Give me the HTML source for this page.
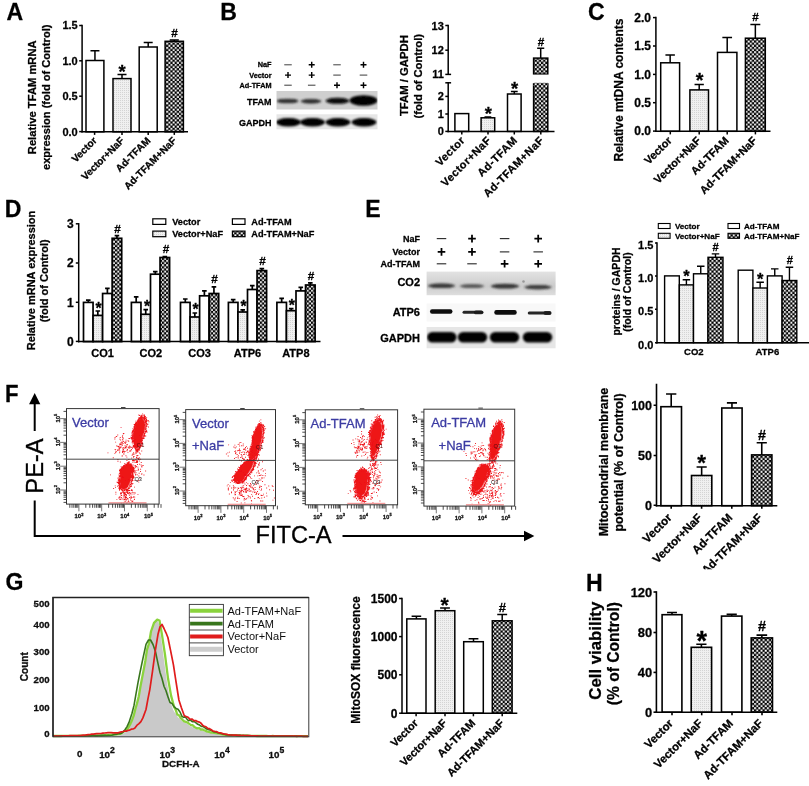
<!DOCTYPE html>
<html><head><meta charset="utf-8"><title>Figure</title>
<style>html,body{margin:0;padding:0;background:#fff}svg{display:block}text{font-family:"Liberation Sans",sans-serif}text[font-weight=bold]{stroke:#000;stroke-width:.28px;stroke-linejoin:round}</style>
</head><body>
<svg width="809" height="786" viewBox="0 0 809 786" font-family="Liberation Sans">
<defs>
<pattern id="dots" width="2" height="2" patternUnits="userSpaceOnUse"><rect width="2" height="2" fill="#f0f0f0"/><rect width="1" height="1" fill="#d4d4d4"/></pattern>
<pattern id="chk" width="4.26" height="4.26" patternUnits="userSpaceOnUse"><rect width="4.26" height="4.26" fill="#000"/><rect width="1.95" height="1.95" x="0.1" y="0.1" fill="#fff"/><rect x="2.23" y="2.23" width="1.95" height="1.95" fill="#fff"/></pattern>
<filter id="b1" x="-20%" y="-50%" width="140%" height="200%"><feGaussianBlur stdDeviation="1.1"/></filter>
<filter id="b2" x="-20%" y="-50%" width="140%" height="200%"><feGaussianBlur stdDeviation="1.6"/></filter>
<filter id="b05" x="-20%" y="-20%" width="140%" height="140%"><feGaussianBlur stdDeviation="0.5"/></filter>
<filter id="soft"><feGaussianBlur stdDeviation="0.45"/></filter>
</defs>
<rect width="809" height="786" fill="#fff"/>
<g filter="url(#soft)">
<text transform="translate(6.5 19.8) scale(0.97 1)" font-size="23.8" font-weight="bold">A</text>
<text transform="translate(220.2 19.6) scale(0.97 1)" font-size="23.8" font-weight="bold">B</text>
<text transform="translate(587.9 19.6) scale(0.97 1)" font-size="23.8" font-weight="bold">C</text>
<text transform="translate(4.7 217) scale(0.97 1)" font-size="23.8" font-weight="bold">D</text>
<text transform="translate(365.2 217.3) scale(0.97 1)" font-size="23.8" font-weight="bold">E</text>
<text transform="translate(5 402) scale(0.93 1)" font-size="23.8" font-weight="bold">F</text>
<text transform="translate(5.4 589.8) scale(0.97 1)" font-size="23.8" font-weight="bold">G</text>
<text transform="translate(585.9 590.8) scale(0.97 1)" font-size="23.8" font-weight="bold">H</text>
<g id="pA">
<path d="M82.1 24.75L82.1 132.55" stroke="#000" stroke-width="1.5" fill="none"/>
<path d="M79.2 25.5L82.1 25.5" stroke="#000" stroke-width="1.5" fill="none"/>
<text x="77.7" y="29.46" font-size="11" font-weight="bold" text-anchor="end">1.5</text>
<path d="M79.2 60.8L82.1 60.8" stroke="#000" stroke-width="1.5" fill="none"/>
<text x="77.7" y="64.76" font-size="11" font-weight="bold" text-anchor="end">1.0</text>
<path d="M79.2 96.2L82.1 96.2" stroke="#000" stroke-width="1.5" fill="none"/>
<text x="77.7" y="100.16" font-size="11" font-weight="bold" text-anchor="end">0.5</text>
<path d="M79.2 131.6L82.1 131.6" stroke="#000" stroke-width="1.5" fill="none"/>
<text x="77.7" y="135.56" font-size="11" font-weight="bold" text-anchor="end">0.0</text>
<path d="M94.95 60.5V50.7M90.47 50.7H99.43" stroke="#000" stroke-width="1.5" fill="none"/>
<rect x="86" y="60.5" width="17.9" height="71.3" fill="#fff" stroke="#000" stroke-width="1.5"/>
<path d="M122 78.6V74.4M117.5 74.4H126.5" stroke="#000" stroke-width="1.5" fill="none"/>
<rect x="113" y="78.6" width="18" height="53.2" fill="url(#dots)" stroke="#000" stroke-width="1.5"/>
<path d="M148.2 47V42.5M143.7 42.5H152.7" stroke="#000" stroke-width="1.5" fill="none"/>
<rect x="139.2" y="47" width="18" height="84.8" fill="#fff" stroke="#000" stroke-width="1.5"/>
<path d="M174.25 41.3V40M169.68 40H178.82" stroke="#000" stroke-width="1.5" fill="none"/>
<rect x="165.1" y="41.3" width="18.3" height="90.5" fill="url(#chk)" stroke="#000" stroke-width="1.5"/>
<path d="M81.35 131.8L188 131.8" stroke="#000" stroke-width="1.5" fill="none"/>
<path d="M94.6 131.8L94.6 134.9" stroke="#000" stroke-width="1.5" fill="none"/>
<path d="M122 131.8L122 134.9" stroke="#000" stroke-width="1.5" fill="none"/>
<path d="M148.2 131.8L148.2 134.9" stroke="#000" stroke-width="1.5" fill="none"/>
<path d="M174.3 131.8L174.3 134.9" stroke="#000" stroke-width="1.5" fill="none"/>
<text x="97.5" y="141.2" font-size="10.1" font-weight="bold" text-anchor="end" transform="rotate(-45 97.5 141.2)">Vector</text>
<text x="124.9" y="141.2" font-size="10.1" font-weight="bold" text-anchor="end" transform="rotate(-45 124.9 141.2)">Vector+NaF</text>
<text x="151.1" y="141.2" font-size="10.1" font-weight="bold" text-anchor="end" transform="rotate(-45 151.1 141.2)">Ad-TFAM</text>
<text x="177.2" y="141.2" font-size="10.1" font-weight="bold" text-anchor="end" transform="rotate(-45 177.2 141.2)">Ad-TFAM+NaF</text>
<text x="122" y="78.39" font-size="18.48" font-weight="bold" text-anchor="middle">*</text>
<text x="174.5" y="37.18" font-size="11.78" font-weight="bold" text-anchor="middle">#</text>
<text x="35.6" y="97.3" font-size="11.2" font-weight="bold" text-anchor="middle" transform="rotate(-90 35.6 97.3)">Relative TFAM mRNA</text>
<text x="49.7" y="97.3" font-size="11.1" font-weight="bold" text-anchor="middle" transform="rotate(-90 49.7 97.3)">expression (fold of Control)</text>
</g>
<g id="pBblot">
<text x="271.5" y="67.43" font-size="7.3" font-weight="bold" text-anchor="end">NaF</text>
<path d="M284.25 64.8H291.75" stroke="#222" stroke-width="0.88"/>
<path d="M308.7 64.8H314.7M311.7 61.8V67.8" stroke="#000" stroke-width="1.43"/>
<path d="M333.25 64.8H340.75" stroke="#222" stroke-width="0.88"/>
<path d="M360.5 64.8H366.5M363.5 61.8V67.8" stroke="#000" stroke-width="1.43"/>
<text x="271.5" y="77.73" font-size="7.3" font-weight="bold" text-anchor="end">Vector</text>
<path d="M285 75.1H291M288 72.1V78.1" stroke="#000" stroke-width="1.43"/>
<path d="M308.7 75.1H314.7M311.7 72.1V78.1" stroke="#000" stroke-width="1.43"/>
<path d="M333.25 75.1H340.75" stroke="#222" stroke-width="0.88"/>
<path d="M359.75 75.1H367.25" stroke="#222" stroke-width="0.88"/>
<text x="271.5" y="87.83" font-size="7.3" font-weight="bold" text-anchor="end">Ad-TFAM</text>
<path d="M284.25 85.2H291.75" stroke="#222" stroke-width="0.88"/>
<path d="M307.95 85.2H315.45" stroke="#222" stroke-width="0.88"/>
<path d="M334 85.2H340M337 82.2V88.2" stroke="#000" stroke-width="1.43"/>
<path d="M360.5 85.2H366.5M363.5 82.2V88.2" stroke="#000" stroke-width="1.43"/>
<rect x="276.5" y="91" width="101" height="18.5" fill="#cfcfcf"/>
<clipPath id="cB1"><rect x="276.5" y="91" width="101" height="18.5"/></clipPath><g clip-path="url(#cB1)">
<g filter="url(#b1)" opacity="0.92" fill="#222"><ellipse cx="287.5" cy="101" rx="11" ry="2.3"/><rect x="279.58" y="99.07" width="15.84" height="3.86" rx="1.93"/></g>
<g filter="url(#b1)" opacity="0.92" fill="#222"><ellipse cx="311" cy="101.3" rx="10.5" ry="2.2"/><rect x="303.44" y="99.45" width="15.12" height="3.7" rx="1.85"/></g>
<g filter="url(#b1)" opacity="1" fill="#111"><ellipse cx="337.5" cy="100.8" rx="12" ry="3"/><rect x="328.86" y="98.28" width="17.28" height="5.04" rx="2.52"/></g>
<g filter="url(#b1)" opacity="1" fill="#000"><ellipse cx="363.5" cy="100.5" rx="14" ry="5.25"/><rect x="353.42" y="96.09" width="20.16" height="8.82" rx="4.41"/></g>
</g>
<text x="271.5" y="104.6" font-size="9" font-weight="bold" text-anchor="end">TFAM</text>
<rect x="276.5" y="114.3" width="101" height="15" fill="#e6e6e6"/>
<clipPath id="cB2"><rect x="276.5" y="114.3" width="101" height="15"/></clipPath><g clip-path="url(#cB2)">
<g filter="url(#b1)" opacity="1" fill="#000"><ellipse cx="288.5" cy="122.2" rx="12.5" ry="4.2"/><rect x="279.5" y="118.67" width="18" height="7.06" rx="3.53"/></g>
<g filter="url(#b1)" opacity="1" fill="#000"><ellipse cx="312.5" cy="122.2" rx="12.5" ry="4.2"/><rect x="303.5" y="118.67" width="18" height="7.06" rx="3.53"/></g>
<g filter="url(#b1)" opacity="1" fill="#000"><ellipse cx="338" cy="122.2" rx="12.5" ry="4.2"/><rect x="329" y="118.67" width="18" height="7.06" rx="3.53"/></g>
<g filter="url(#b1)" opacity="1" fill="#000"><ellipse cx="364" cy="122.2" rx="12.5" ry="4.2"/><rect x="355" y="118.67" width="18" height="7.06" rx="3.53"/></g>
</g>
<text x="271.5" y="125.6" font-size="9" font-weight="bold" text-anchor="end">GAPDH</text>
</g>
<g id="pBchart">
<path d="M448.2 24.75L448.2 74.95" stroke="#000" stroke-width="1.5" fill="none"/>
<path d="M445.3 25.5L448.2 25.5" stroke="#000" stroke-width="1.5" fill="none"/>
<text x="443.8" y="29.5" font-size="11" font-weight="bold" text-anchor="end">13</text>
<path d="M445.3 50.2L448.2 50.2" stroke="#000" stroke-width="1.5" fill="none"/>
<text x="443.8" y="54.2" font-size="11" font-weight="bold" text-anchor="end">12</text>
<path d="M445.3 74.4L451.1 74.4" stroke="#000" stroke-width="1.5" fill="none"/>
<text x="443.8" y="78.4" font-size="11" font-weight="bold" text-anchor="end">11</text>
<path d="M448.2 82.05L448.2 132.15" stroke="#000" stroke-width="1.5" fill="none"/>
<path d="M445.3 82.8L451.1 82.8" stroke="#000" stroke-width="1.5" fill="none"/>
<path d="M445.3 96.4L448.2 96.4" stroke="#000" stroke-width="1.5" fill="none"/>
<text x="443.8" y="100.4" font-size="11" font-weight="bold" text-anchor="end">2</text>
<path d="M445.3 114L448.2 114" stroke="#000" stroke-width="1.5" fill="none"/>
<text x="443.8" y="118" font-size="11" font-weight="bold" text-anchor="end">1</text>
<path d="M445.3 131.4L448.2 131.4" stroke="#000" stroke-width="1.5" fill="none"/>
<text x="443.8" y="135.4" font-size="11" font-weight="bold" text-anchor="end">0</text>
<rect x="454.9" y="113.6" width="13.8" height="17.8" fill="#fff" stroke="#000" stroke-width="1.5"/>
<path d="M487.9 117.8V117M484.5 117H491.3" stroke="#000" stroke-width="1.5" fill="none"/>
<rect x="481.1" y="117.8" width="13.6" height="13.6" fill="url(#dots)" stroke="#000" stroke-width="1.5"/>
<path d="M514.3 94V91.5M510.9 91.5H517.7" stroke="#000" stroke-width="1.5" fill="none"/>
<rect x="507.5" y="94" width="13.6" height="37.4" fill="#fff" stroke="#000" stroke-width="1.5"/>
<rect x="533.6" y="82.8" width="14.2" height="48.6" fill="url(#chk)" stroke="#000" stroke-width="1.5"/>
<rect x="532" y="74.9" width="18" height="7.2" fill="#fff"/>
<path d="M540.7 58.1V48.2M537.15 48.2H544.25" stroke="#000" stroke-width="1.5" fill="none"/>
<rect x="533.6" y="58.1" width="14.2" height="16.1" fill="url(#chk)" stroke="#000" stroke-width="1.5"/>
<rect x="532" y="74.6" width="18" height="8.6" fill="#fff"/>
<rect x="533.6" y="82.8" width="14.2" height="3" fill="url(#chk)"/>
<path d="M447.45 131.4L554.5 131.4" stroke="#000" stroke-width="1.5" fill="none"/>
<path d="M461.8 131.4L461.8 134.5" stroke="#000" stroke-width="1.5" fill="none"/>
<path d="M488 131.4L488 134.5" stroke="#000" stroke-width="1.5" fill="none"/>
<path d="M514.3 131.4L514.3 134.5" stroke="#000" stroke-width="1.5" fill="none"/>
<path d="M540.8 131.4L540.8 134.5" stroke="#000" stroke-width="1.5" fill="none"/>
<text x="465.6" y="141" font-size="11" font-weight="bold" text-anchor="end" transform="rotate(-45 465.6 141)" letter-spacing="0.45">Vector</text>
<text x="491.8" y="141" font-size="11" font-weight="bold" text-anchor="end" transform="rotate(-45 491.8 141)" letter-spacing="0.45">Vector+NaF</text>
<text x="518.1" y="141" font-size="11" font-weight="bold" text-anchor="end" transform="rotate(-45 518.1 141)" letter-spacing="0.45">Ad-TFAM</text>
<text x="544.6" y="141" font-size="11" font-weight="bold" text-anchor="end" transform="rotate(-45 544.6 141)" letter-spacing="0.45">Ad-TFAM+NaF</text>
<text x="488.3" y="119.69" font-size="18.48" font-weight="bold" text-anchor="middle">*</text>
<text x="514.6" y="95.19" font-size="18.48" font-weight="bold" text-anchor="middle">*</text>
<text x="541" y="45.68" font-size="11.78" font-weight="bold" text-anchor="middle">#</text>
<text x="408.1" y="75.6" font-size="11.3" font-weight="bold" text-anchor="middle" transform="rotate(-90 408.1 75.6)">TFAM / GAPDH</text>
<text x="422.4" y="76.2" font-size="11.2" font-weight="bold" text-anchor="middle" transform="rotate(-90 422.4 76.2)">(fold of Control)</text>
</g>
<g id="pC">
<path d="M655.9 16.85L655.9 132.05" stroke="#000" stroke-width="1.5" fill="none"/>
<path d="M653 17.6L655.9 17.6" stroke="#000" stroke-width="1.5" fill="none"/>
<text x="650.9" y="21.92" font-size="12" font-weight="bold" text-anchor="end">2.0</text>
<path d="M653 46L655.9 46" stroke="#000" stroke-width="1.5" fill="none"/>
<text x="650.9" y="50.32" font-size="12" font-weight="bold" text-anchor="end">1.5</text>
<path d="M653 74.4L655.9 74.4" stroke="#000" stroke-width="1.5" fill="none"/>
<text x="650.9" y="78.72" font-size="12" font-weight="bold" text-anchor="end">1.0</text>
<path d="M653 102.7L655.9 102.7" stroke="#000" stroke-width="1.5" fill="none"/>
<text x="650.9" y="107.02" font-size="12" font-weight="bold" text-anchor="end">0.5</text>
<path d="M653 131.1L655.9 131.1" stroke="#000" stroke-width="1.5" fill="none"/>
<text x="650.9" y="135.42" font-size="12" font-weight="bold" text-anchor="end">0.0</text>
<path d="M670.15 62.8V55M665.43 55H674.88" stroke="#000" stroke-width="1.5" fill="none"/>
<rect x="660.7" y="62.8" width="18.9" height="68.5" fill="#fff" stroke="#000" stroke-width="1.5"/>
<path d="M699.2 89.9V84.5M694.55 84.5H703.85" stroke="#000" stroke-width="1.5" fill="none"/>
<rect x="689.9" y="89.9" width="18.6" height="41.4" fill="url(#dots)" stroke="#000" stroke-width="1.5"/>
<path d="M727.2 52.4V37.5M722.35 37.5H732.05" stroke="#000" stroke-width="1.5" fill="none"/>
<rect x="717.5" y="52.4" width="19.4" height="78.9" fill="#fff" stroke="#000" stroke-width="1.5"/>
<path d="M755.35 38.2V24.5M750.37 24.5H760.32" stroke="#000" stroke-width="1.5" fill="none"/>
<rect x="745.4" y="38.2" width="19.9" height="93.1" fill="url(#chk)" stroke="#000" stroke-width="1.5"/>
<path d="M655.15 131.3L770.5 131.3" stroke="#000" stroke-width="1.5" fill="none"/>
<path d="M670.3 131.3L670.3 134.4" stroke="#000" stroke-width="1.5" fill="none"/>
<path d="M699.2 131.3L699.2 134.4" stroke="#000" stroke-width="1.5" fill="none"/>
<path d="M727.2 131.3L727.2 134.4" stroke="#000" stroke-width="1.5" fill="none"/>
<path d="M755.4 131.3L755.4 134.4" stroke="#000" stroke-width="1.5" fill="none"/>
<text x="672.5" y="141.3" font-size="11" font-weight="bold" text-anchor="end" transform="rotate(-45 672.5 141.3)">Vector</text>
<text x="701.4" y="141.3" font-size="11" font-weight="bold" text-anchor="end" transform="rotate(-45 701.4 141.3)">Vector+NaF</text>
<text x="729.4" y="141.3" font-size="11" font-weight="bold" text-anchor="end" transform="rotate(-45 729.4 141.3)">Ad-TFAM</text>
<text x="757.6" y="141.3" font-size="11" font-weight="bold" text-anchor="end" transform="rotate(-45 757.6 141.3)">Ad-TFAM+NaF</text>
<text x="699.5" y="87.28" font-size="19.8" font-weight="bold" text-anchor="middle">*</text>
<text x="755.5" y="21.44" font-size="11.66" font-weight="bold" text-anchor="middle">#</text>
<text x="622.5" y="90" font-size="12" font-weight="bold" text-anchor="middle" transform="rotate(-90 622.5 90)">Relative mtDNA contents</text>
</g>
<g id="pD">
<path d="M78.7 223.05L78.7 342.35" stroke="#000" stroke-width="1.5" fill="none"/>
<path d="M75.8 223.8L78.7 223.8" stroke="#000" stroke-width="1.5" fill="none"/>
<text x="73.7" y="228.12" font-size="12" font-weight="bold" text-anchor="end">3</text>
<path d="M75.8 263L78.7 263" stroke="#000" stroke-width="1.5" fill="none"/>
<text x="73.7" y="267.32" font-size="12" font-weight="bold" text-anchor="end">2</text>
<path d="M75.8 302.3L78.7 302.3" stroke="#000" stroke-width="1.5" fill="none"/>
<text x="73.7" y="306.62" font-size="12" font-weight="bold" text-anchor="end">1</text>
<path d="M75.8 341.4L78.7 341.4" stroke="#000" stroke-width="1.5" fill="none"/>
<text x="73.7" y="345.72" font-size="12" font-weight="bold" text-anchor="end">0</text>
<path d="M88.28 302.4V300.2M85.98 300.2H90.58" stroke="#000" stroke-width="1.7" fill="none"/>
<rect x="83.5" y="302.4" width="9.55" height="39.2" fill="#fff" stroke="#000" stroke-width="1.7"/>
<path d="M97.82 315.4V311M95.52 311H100.12" stroke="#000" stroke-width="1.7" fill="none"/>
<rect x="93.05" y="315.4" width="9.55" height="26.2" fill="url(#dots)" stroke="#000" stroke-width="1.7"/>
<path d="M107.38 293.5V288.4M105.08 288.4H109.67" stroke="#000" stroke-width="1.7" fill="none"/>
<rect x="102.6" y="293.5" width="9.55" height="48.1" fill="#fff" stroke="#000" stroke-width="1.7"/>
<path d="M116.93 238.3V235.6M114.63 235.6H119.23" stroke="#000" stroke-width="1.7" fill="none"/>
<rect x="112.15" y="238.3" width="9.55" height="103.3" fill="url(#chk)" stroke="#000" stroke-width="1.7"/>
<path d="M136.18 302.4V296.9M133.88 296.9H138.48" stroke="#000" stroke-width="1.7" fill="none"/>
<rect x="131.4" y="302.4" width="9.55" height="39.2" fill="#fff" stroke="#000" stroke-width="1.7"/>
<path d="M145.73 314.3V309.6M143.43 309.6H148.03" stroke="#000" stroke-width="1.7" fill="none"/>
<rect x="140.95" y="314.3" width="9.55" height="27.3" fill="url(#dots)" stroke="#000" stroke-width="1.7"/>
<path d="M155.28 274.2V271.7M152.97 271.7H157.58" stroke="#000" stroke-width="1.7" fill="none"/>
<rect x="150.5" y="274.2" width="9.55" height="67.4" fill="#fff" stroke="#000" stroke-width="1.7"/>
<path d="M164.83 257.5V256.6M162.53 256.6H167.13" stroke="#000" stroke-width="1.7" fill="none"/>
<rect x="160.05" y="257.5" width="9.55" height="84.1" fill="url(#chk)" stroke="#000" stroke-width="1.7"/>
<path d="M185.28 302.4V299M182.97 299H187.58" stroke="#000" stroke-width="1.7" fill="none"/>
<rect x="180.5" y="302.4" width="9.55" height="39.2" fill="#fff" stroke="#000" stroke-width="1.7"/>
<path d="M194.82 317V313M192.52 313H197.12" stroke="#000" stroke-width="1.7" fill="none"/>
<rect x="190.05" y="317" width="9.55" height="24.6" fill="url(#dots)" stroke="#000" stroke-width="1.7"/>
<path d="M204.38 295.8V290.9M202.07 290.9H206.68" stroke="#000" stroke-width="1.7" fill="none"/>
<rect x="199.6" y="295.8" width="9.55" height="45.8" fill="#fff" stroke="#000" stroke-width="1.7"/>
<path d="M213.93 293.5V286.9M211.62 286.9H216.23" stroke="#000" stroke-width="1.7" fill="none"/>
<rect x="209.15" y="293.5" width="9.55" height="48.1" fill="url(#chk)" stroke="#000" stroke-width="1.7"/>
<path d="M233.18 302.4V299.6M230.88 299.6H235.48" stroke="#000" stroke-width="1.7" fill="none"/>
<rect x="228.4" y="302.4" width="9.55" height="39.2" fill="#fff" stroke="#000" stroke-width="1.7"/>
<path d="M242.73 312V309.8M240.43 309.8H245.03" stroke="#000" stroke-width="1.7" fill="none"/>
<rect x="237.95" y="312" width="9.55" height="29.6" fill="url(#dots)" stroke="#000" stroke-width="1.7"/>
<path d="M252.28 289.5V285.7M249.97 285.7H254.58" stroke="#000" stroke-width="1.7" fill="none"/>
<rect x="247.5" y="289.5" width="9.55" height="52.1" fill="#fff" stroke="#000" stroke-width="1.7"/>
<path d="M261.83 270.6V268.6M259.53 268.6H264.13" stroke="#000" stroke-width="1.7" fill="none"/>
<rect x="257.05" y="270.6" width="9.55" height="71" fill="url(#chk)" stroke="#000" stroke-width="1.7"/>
<path d="M281.67 302.4V298.4M279.37 298.4H283.97" stroke="#000" stroke-width="1.7" fill="none"/>
<rect x="276.9" y="302.4" width="9.55" height="39.2" fill="#fff" stroke="#000" stroke-width="1.7"/>
<path d="M291.23 310.7V308.7M288.93 308.7H293.53" stroke="#000" stroke-width="1.7" fill="none"/>
<rect x="286.45" y="310.7" width="9.55" height="30.9" fill="url(#dots)" stroke="#000" stroke-width="1.7"/>
<path d="M300.77 290.9V287.3M298.47 287.3H303.07" stroke="#000" stroke-width="1.7" fill="none"/>
<rect x="296" y="290.9" width="9.55" height="50.7" fill="#fff" stroke="#000" stroke-width="1.7"/>
<path d="M310.32 285V282.9M308.02 282.9H312.62" stroke="#000" stroke-width="1.7" fill="none"/>
<rect x="305.55" y="285" width="9.55" height="56.6" fill="url(#chk)" stroke="#000" stroke-width="1.7"/>
<path d="M77.95 341.6L320.5 341.6" stroke="#000" stroke-width="1.5" fill="none"/>
<text x="102.6" y="356.7" font-size="11" font-weight="bold" text-anchor="middle">CO1</text>
<text x="150.9" y="356.7" font-size="11" font-weight="bold" text-anchor="middle">CO2</text>
<text x="199.5" y="356.7" font-size="11" font-weight="bold" text-anchor="middle">CO3</text>
<text x="247.5" y="356.7" font-size="11" font-weight="bold" text-anchor="middle">ATP6</text>
<text x="295.9" y="356.7" font-size="11" font-weight="bold" text-anchor="middle">ATP8</text>
<text x="117.6" y="233.18" font-size="11.78" font-weight="bold" text-anchor="middle">#</text>
<text x="166" y="252.78" font-size="11.78" font-weight="bold" text-anchor="middle">#</text>
<text x="214.6" y="283.18" font-size="11.78" font-weight="bold" text-anchor="middle">#</text>
<text x="262.4" y="265.38" font-size="11.78" font-weight="bold" text-anchor="middle">#</text>
<text x="311" y="280.38" font-size="11.78" font-weight="bold" text-anchor="middle">#</text>
<text x="98.7" y="313.52" font-size="15.84" font-weight="bold" text-anchor="middle">*</text>
<text x="147" y="311.72" font-size="15.84" font-weight="bold" text-anchor="middle">*</text>
<text x="195.6" y="315.02" font-size="15.84" font-weight="bold" text-anchor="middle">*</text>
<text x="243.5" y="311.72" font-size="15.84" font-weight="bold" text-anchor="middle">*</text>
<text x="291.8" y="310.62" font-size="15.84" font-weight="bold" text-anchor="middle">*</text>
<rect x="152.8" y="218.8" width="13" height="5.6" fill="#fff" stroke="#000" stroke-width="1.2"/>
<text x="172.2" y="225" font-size="9.2" font-weight="bold">Vector</text>
<rect x="152.8" y="231.1" width="13" height="5.6" fill="url(#dots)" stroke="#000" stroke-width="1.2"/>
<text x="172.2" y="237.3" font-size="9.2" font-weight="bold">Vector+NaF</text>
<rect x="232.4" y="218.8" width="12.6" height="5.6" fill="#fff" stroke="#000" stroke-width="1.2"/>
<text x="251.3" y="225" font-size="9.2" font-weight="bold">Ad-TFAM</text>
<rect x="232.4" y="231.1" width="12.6" height="5.6" fill="url(#chk)" stroke="#000" stroke-width="1.2"/>
<text x="251.3" y="237.3" font-size="9.2" font-weight="bold">Ad-TFAM+NaF</text>
<text x="35" y="280.5" font-size="11" font-weight="bold" text-anchor="middle" transform="rotate(-90 35 280.5)">Relative mRNA expression</text>
<text x="48" y="280.8" font-size="11" font-weight="bold" text-anchor="middle" transform="rotate(-90 48 280.8)">(fold of Control)</text>
</g>
<g id="pEblot">
<text x="420" y="241.84" font-size="9" font-weight="bold" text-anchor="end">NaF</text>
<path d="M436.75 238.6H446.25" stroke="#222" stroke-width="1.08"/>
<path d="M468.2 238.6H475.8M472 234.8V242.4" stroke="#000" stroke-width="1.76"/>
<path d="M499.85 238.6H509.35" stroke="#222" stroke-width="1.08"/>
<path d="M534.4 238.6H542M538.2 234.8V242.4" stroke="#000" stroke-width="1.76"/>
<text x="420" y="255.14" font-size="9" font-weight="bold" text-anchor="end">Vector</text>
<path d="M437.7 251.9H445.3M441.5 248.1V255.7" stroke="#000" stroke-width="1.76"/>
<path d="M468.2 251.9H475.8M472 248.1V255.7" stroke="#000" stroke-width="1.76"/>
<path d="M499.85 251.9H509.35" stroke="#222" stroke-width="1.08"/>
<path d="M533.45 251.9H542.95" stroke="#222" stroke-width="1.08"/>
<text x="420" y="267.04" font-size="9" font-weight="bold" text-anchor="end">Ad-TFAM</text>
<path d="M436.75 263.8H446.25" stroke="#222" stroke-width="1.08"/>
<path d="M467.25 263.8H476.75" stroke="#222" stroke-width="1.08"/>
<path d="M500.8 263.8H508.4M504.6 260V267.6" stroke="#000" stroke-width="1.76"/>
<path d="M534.4 263.8H542M538.2 260V267.6" stroke="#000" stroke-width="1.76"/>
<linearGradient id="gCO2" x1="0" y1="0" x2="0" y2="1"><stop offset="0" stop-color="#e2e2e2"/><stop offset="0.35" stop-color="#d6d6d6"/><stop offset="0.62" stop-color="#cbcbcb"/><stop offset="1" stop-color="#dedede"/></linearGradient>
<rect x="426.6" y="271.6" width="129" height="23.6" fill="url(#gCO2)"/>
<clipPath id="cE1"><rect x="426.6" y="271.6" width="129" height="23.6"/></clipPath><g clip-path="url(#cE1)">
<g filter="url(#b1)" opacity="0.9" fill="#2a2a2a"><ellipse cx="441.5" cy="285.8" rx="13.5" ry="2.3"/><rect x="431.78" y="283.87" width="19.44" height="3.86" rx="1.93"/></g>
<g filter="url(#b1)" opacity="0.8" fill="#3a3a3a"><ellipse cx="472" cy="286.2" rx="12" ry="1.9"/><rect x="463.36" y="284.6" width="17.28" height="3.19" rx="1.6"/></g>
<g filter="url(#b1)" opacity="0.92" fill="#2a2a2a"><ellipse cx="505" cy="286.2" rx="14" ry="2.4"/><rect x="494.92" y="284.18" width="20.16" height="4.03" rx="2.02"/></g>
<g filter="url(#b1)" opacity="0.88" fill="#2a2a2a"><ellipse cx="538" cy="287.2" rx="13.5" ry="2.2"/><rect x="528.28" y="285.35" width="19.44" height="3.7" rx="1.85"/></g>
<circle cx="523.5" cy="281.5" r="1.3" fill="#999" filter="url(#b05)"/>
</g>
<text x="420" y="286.3" font-size="11" font-weight="bold" text-anchor="end">CO2</text>
<rect x="426.6" y="303.5" width="129" height="18" fill="#f8f8f8"/>
<rect x="429.95" y="309.15" width="22.5" height="4.5" rx="2.25" fill="#0a0a0a" opacity="1" filter="url(#b05)"/>
<rect x="462.5" y="310.75" width="21" height="3.1" rx="1.55" fill="#1c1c1c" opacity="0.95" filter="url(#b05)"/>
<rect x="474" y="310.55" width="9" height="3.7" rx="1.85" fill="#1a1a1a" opacity="0.9" filter="url(#b05)"/>
<rect x="494.25" y="310.1" width="22.5" height="4.6" rx="2.3" fill="#0a0a0a" opacity="1" filter="url(#b05)"/>
<rect x="527.75" y="311.45" width="23.5" height="3.1" rx="1.55" fill="#1c1c1c" opacity="0.95" filter="url(#b05)"/>
<rect x="543.5" y="311.1" width="8" height="3.8" rx="1.9" fill="#1a1a1a" opacity="0.9" filter="url(#b05)"/>
<text x="420" y="316" font-size="11" font-weight="bold" text-anchor="end">ATP6</text>
<rect x="426.6" y="327" width="129" height="21.3" fill="#e6e6e6"/>
<clipPath id="cE3"><rect x="426.6" y="327" width="129" height="21.3"/></clipPath><g clip-path="url(#cE3)">
<rect x="427.05" y="331.9" width="29.5" height="10.6" rx="5.3" fill="#000" opacity="1" filter="url(#b1)"/>
<rect x="457.75" y="331.9" width="29.5" height="10.6" rx="5.3" fill="#000" opacity="1" filter="url(#b1)"/>
<rect x="489.75" y="331.9" width="29.5" height="10.6" rx="5.3" fill="#000" opacity="1" filter="url(#b1)"/>
<rect x="522.75" y="331.9" width="29.5" height="10.6" rx="5.3" fill="#000" opacity="1" filter="url(#b1)"/>
</g>
<text x="420" y="342" font-size="11" font-weight="bold" text-anchor="end">GAPDH</text>
</g>
<g id="pEchart">
<path d="M657 242.25L657 343.45" stroke="#000" stroke-width="1.5" fill="none"/>
<path d="M655 243L657 243" stroke="#000" stroke-width="1.5" fill="none"/>
<text x="653.4" y="249" font-size="11" font-weight="bold" text-anchor="end">1.5</text>
<path d="M655 276L657 276" stroke="#000" stroke-width="1.5" fill="none"/>
<text x="653.4" y="282" font-size="11" font-weight="bold" text-anchor="end">1.0</text>
<path d="M655 309.2L657 309.2" stroke="#000" stroke-width="1.5" fill="none"/>
<text x="653.4" y="315.2" font-size="11" font-weight="bold" text-anchor="end">0.5</text>
<path d="M655 342.7L657 342.7" stroke="#000" stroke-width="1.5" fill="none"/>
<text x="653.4" y="348.7" font-size="11" font-weight="bold" text-anchor="end">0.0</text>
<rect x="664.6" y="275.9" width="14.7" height="66.8" fill="#fff" stroke="#000" stroke-width="1.4"/>
<path d="M686.4 284.9V279.7M682.65 279.7H690.15" stroke="#000" stroke-width="1.4" fill="none"/>
<rect x="679.3" y="284.9" width="14.2" height="57.8" fill="url(#dots)" stroke="#000" stroke-width="1.4"/>
<path d="M700.75 273.8V266.3M697 266.3H704.5" stroke="#000" stroke-width="1.4" fill="none"/>
<rect x="693.5" y="273.8" width="14.5" height="68.9" fill="#fff" stroke="#000" stroke-width="1.4"/>
<path d="M715.5 257.3V253.9M711.75 253.9H719.25" stroke="#000" stroke-width="1.4" fill="none"/>
<rect x="708" y="257.3" width="15" height="85.4" fill="url(#chk)" stroke="#000" stroke-width="1.4"/>
<rect x="738.2" y="270.2" width="14.7" height="72.5" fill="#fff" stroke="#000" stroke-width="1.4"/>
<path d="M760.15 288V282.3M756.4 282.3H763.9" stroke="#000" stroke-width="1.4" fill="none"/>
<rect x="752.9" y="288" width="14.5" height="54.7" fill="url(#dots)" stroke="#000" stroke-width="1.4"/>
<path d="M774.75 275.9V268.9M771 268.9H778.5" stroke="#000" stroke-width="1.4" fill="none"/>
<rect x="767.4" y="275.9" width="14.7" height="66.8" fill="#fff" stroke="#000" stroke-width="1.4"/>
<path d="M789.45 280.5V267.3M785.7 267.3H793.2" stroke="#000" stroke-width="1.4" fill="none"/>
<rect x="782.1" y="280.5" width="14.7" height="62.2" fill="url(#chk)" stroke="#000" stroke-width="1.4"/>
<path d="M656.25 342.7L809 342.7" stroke="#000" stroke-width="1.5" fill="none"/>
<text x="693.8" y="355.4" font-size="9.5" font-weight="bold" text-anchor="middle">CO2</text>
<text x="767.4" y="355.4" font-size="9.5" font-weight="bold" text-anchor="middle">ATP6</text>
<rect x="658.3" y="223.5" width="11.8" height="5" fill="#fff" stroke="#000" stroke-width="1.1"/>
<text x="674.9" y="228.9" font-size="8.1" font-weight="bold">Vector</text>
<rect x="658.3" y="233.3" width="11.8" height="5" fill="url(#dots)" stroke="#000" stroke-width="1.1"/>
<text x="674.9" y="238.7" font-size="8.1" font-weight="bold">Vector+NaF</text>
<rect x="728" y="223.5" width="11.5" height="5" fill="#fff" stroke="#000" stroke-width="1.1"/>
<text x="743.9" y="228.9" font-size="8.1" font-weight="bold">Ad-TFAM</text>
<rect x="728" y="233.3" width="11.5" height="5" fill="url(#chk)" stroke="#000" stroke-width="1.1"/>
<text x="743.9" y="238.7" font-size="8.1" font-weight="bold">Ad-TFAM+NaF</text>
<text x="715.5" y="250.76" font-size="11.16" font-weight="bold" text-anchor="middle">#</text>
<text x="686.5" y="281.71" font-size="16.5" font-weight="bold" text-anchor="middle">*</text>
<text x="760.2" y="285.21" font-size="16.5" font-weight="bold" text-anchor="middle">*</text>
<text x="789.9" y="264.36" font-size="11.16" font-weight="bold" text-anchor="middle">#</text>
<text x="619.8" y="291.5" font-size="10.5" font-weight="bold" text-anchor="middle" transform="rotate(-90 619.8 291.5)">proteins / GAPDH</text>
<text x="631.3" y="292" font-size="10.5" font-weight="bold" text-anchor="middle" transform="rotate(-90 631.3 292)">(fold of Control)</text>
</g>
<g id="pF">
<path d="M34.7 404V431" stroke="#000" stroke-width="2"/>
<path d="M34.7 393L40.3 404.2H29.1Z" fill="#000"/>
<path d="M34.7 500.5V535.9H240.5" stroke="#000" stroke-width="2" fill="none"/>
<path d="M342.5 535.9H525" stroke="#000" stroke-width="2"/>
<path d="M534.3 536L524 530.8V541.2Z" fill="#000"/>
<text x="43.1" y="466" font-size="23.7" text-anchor="middle" transform="rotate(-90 43.1 466)" stroke="#000" stroke-width="0.35">PE-A</text>
<text x="255.5" y="543.4" font-size="23.6" stroke="#000" stroke-width="0.35">FITC-A</text>
<clipPath id="cf66"><rect x="66.5" y="408.6" width="92.6" height="95.5"/></clipPath>
<g clip-path="url(#cf66)">
<ellipse cx="139" cy="430.6" rx="12.65" ry="5.34" transform="rotate(-74 139 430.6)" fill="#ee1218" filter="url(#b05)"/>
<ellipse cx="137.6" cy="442" rx="6.98" ry="3.22" transform="rotate(-80 137.6 442)" fill="#ee1218" filter="url(#b05)"/>
<ellipse cx="125.5" cy="478" rx="11.72" ry="5.61" transform="rotate(-80 125.5 478)" fill="#ee1218" filter="url(#b05)"/>
<ellipse cx="126.4" cy="471.5" rx="6.98" ry="5.52" transform="rotate(-70 126.4 471.5)" fill="#ee1218" filter="url(#b05)"/>
<path d="M146.2 417.3h.9v.9h-.9zM134.4 426.7h.9v.9h-.9zM137.7 442.4h.9v.9h-.9zM133.2 431.2h.9v.9h-.9zM141.9 417.5h.9v.9h-.9zM133.0 445.6h.9v.9h-.9zM134.6 445.8h.9v.9h-.9zM145.7 417.9h.9v.9h-.9zM143.9 433.6h.9v.9h-.9zM134.4 446.7h.9v.9h-.9zM132.8 434.5h.9v.9h-.9zM135.2 425.0h.9v.9h-.9zM140.1 441.9h.9v.9h-.9zM144.7 419.1h.9v.9h-.9zM143.2 434.9h.9v.9h-.9zM139.3 414.9h.9v.9h-.9zM145.4 429.1h.9v.9h-.9zM136.6 446.3h.9v.9h-.9zM140.2 416.8h.9v.9h-.9zM144.0 416.8h.9v.9h-.9zM133.1 439.7h.9v.9h-.9zM141.0 416.9h.9v.9h-.9zM144.9 430.6h.9v.9h-.9zM132.8 444.9h.9v.9h-.9zM139.2 415.2h.9v.9h-.9zM145.4 423.3h.9v.9h-.9zM134.7 442.7h.9v.9h-.9zM133.8 429.1h.9v.9h-.9zM132.4 435.6h.9v.9h-.9zM136.4 443.9h.9v.9h-.9zM145.8 428.3h.9v.9h-.9zM134.7 447.0h.9v.9h-.9zM140.3 440.2h.9v.9h-.9zM135.6 445.9h.9v.9h-.9zM141.0 443.0h.9v.9h-.9zM136.1 422.0h.9v.9h-.9zM134.1 427.6h.9v.9h-.9zM142.8 437.6h.9v.9h-.9zM133.4 441.3h.9v.9h-.9zM143.8 434.3h.9v.9h-.9zM137.0 443.6h.9v.9h-.9zM141.7 442.1h.9v.9h-.9zM132.7 436.2h.9v.9h-.9zM140.5 440.9h.9v.9h-.9zM136.5 445.5h.9v.9h-.9zM131.8 431.7h.9v.9h-.9zM138.7 442.6h.9v.9h-.9zM139.1 418.5h.9v.9h-.9zM146.5 425.9h.9v.9h-.9zM133.1 429.7h.9v.9h-.9zM138.1 445.0h.9v.9h-.9zM138.1 442.8h.9v.9h-.9zM132.1 438.4h.9v.9h-.9zM134.7 442.7h.9v.9h-.9zM138.6 442.6h.9v.9h-.9zM143.4 415.5h.9v.9h-.9zM146.0 419.2h.9v.9h-.9zM131.5 432.7h.9v.9h-.9zM134.2 444.0h.9v.9h-.9zM131.7 433.8h.9v.9h-.9zM141.1 417.6h.9v.9h-.9zM132.5 434.4h.9v.9h-.9zM144.6 418.1h.9v.9h-.9zM143.6 438.1h.9v.9h-.9zM133.1 440.3h.9v.9h-.9zM146.3 431.0h.9v.9h-.9zM142.2 413.5h.9v.9h-.9zM140.7 417.7h.9v.9h-.9zM136.7 421.8h.9v.9h-.9zM136.4 442.8h.9v.9h-.9zM136.3 422.0h.9v.9h-.9zM145.7 422.8h.9v.9h-.9zM142.5 436.4h.9v.9h-.9zM136.4 445.1h.9v.9h-.9zM133.0 429.6h.9v.9h-.9zM135.9 443.4h.9v.9h-.9zM145.9 422.9h.9v.9h-.9zM141.4 438.8h.9v.9h-.9zM142.4 438.3h.9v.9h-.9zM143.2 436.4h.9v.9h-.9zM146.5 424.7h.9v.9h-.9zM138.5 444.0h.9v.9h-.9zM137.3 442.9h.9v.9h-.9zM134.3 427.1h.9v.9h-.9zM133.7 424.0h.9v.9h-.9zM134.1 444.6h.9v.9h-.9zM136.2 446.6h.9v.9h-.9zM134.4 426.8h.9v.9h-.9zM138.1 417.5h.9v.9h-.9zM132.2 435.3h.9v.9h-.9zM134.3 424.2h.9v.9h-.9zM140.3 418.6h.9v.9h-.9zM143.9 418.7h.9v.9h-.9zM137.7 419.3h.9v.9h-.9zM145.3 435.5h.9v.9h-.9zM136.3 443.0h.9v.9h-.9zM134.9 425.5h.9v.9h-.9zM133.2 431.7h.9v.9h-.9zM148.4 421.3h.9v.9h-.9zM130.6 437.8h.9v.9h-.9zM144.5 419.8h.9v.9h-.9zM141.6 443.0h.9v.9h-.9zM135.3 423.9h.9v.9h-.9zM138.1 442.2h.9v.9h-.9zM132.0 441.3h.9v.9h-.9zM132.1 430.9h.9v.9h-.9zM135.5 423.2h.9v.9h-.9zM134.0 428.3h.9v.9h-.9zM142.9 417.8h.9v.9h-.9zM138.3 444.0h.9v.9h-.9zM136.7 443.3h.9v.9h-.9zM144.9 417.9h.9v.9h-.9zM132.4 446.6h.9v.9h-.9zM132.3 440.2h.9v.9h-.9zM135.8 422.9h.9v.9h-.9zM140.5 418.3h.9v.9h-.9zM147.8 420.0h.9v.9h-.9zM145.5 430.6h.9v.9h-.9zM132.0 436.6h.9v.9h-.9zM146.0 422.5h.9v.9h-.9zM146.2 429.9h.9v.9h-.9zM133.4 441.0h.9v.9h-.9zM145.3 425.9h.9v.9h-.9zM134.4 426.5h.9v.9h-.9zM136.9 420.6h.9v.9h-.9zM144.2 417.1h.9v.9h-.9zM134.2 443.1h.9v.9h-.9zM134.6 425.0h.9v.9h-.9zM142.0 416.7h.9v.9h-.9zM143.8 434.1h.9v.9h-.9zM145.5 425.7h.9v.9h-.9zM137.8 419.8h.9v.9h-.9zM139.2 418.0h.9v.9h-.9zM145.2 428.0h.9v.9h-.9zM137.3 444.7h.9v.9h-.9zM133.1 431.5h.9v.9h-.9zM136.7 422.4h.9v.9h-.9zM145.7 425.5h.9v.9h-.9zM131.0 437.0h.9v.9h-.9zM135.4 424.8h.9v.9h-.9zM133.4 443.4h.9v.9h-.9zM145.5 425.4h.9v.9h-.9zM144.4 416.8h.9v.9h-.9zM144.6 435.6h.9v.9h-.9zM135.4 424.9h.9v.9h-.9zM144.8 416.8h.9v.9h-.9zM143.2 417.1h.9v.9h-.9zM141.0 441.1h.9v.9h-.9zM144.5 419.4h.9v.9h-.9zM145.6 424.2h.9v.9h-.9zM144.0 416.4h.9v.9h-.9zM134.5 443.0h.9v.9h-.9zM131.9 433.7h.9v.9h-.9zM138.0 444.0h.9v.9h-.9zM145.6 423.1h.9v.9h-.9zM141.9 438.3h.9v.9h-.9zM132.9 440.8h.9v.9h-.9zM140.8 414.8h.9v.9h-.9zM143.0 415.4h.9v.9h-.9zM144.9 431.5h.9v.9h-.9zM143.1 417.7h.9v.9h-.9zM135.8 422.5h.9v.9h-.9zM139.9 418.7h.9v.9h-.9zM136.5 445.2h.9v.9h-.9zM133.2 426.7h.9v.9h-.9zM137.5 421.3h.9v.9h-.9zM131.8 440.8h.9v.9h-.9zM137.5 419.5h.9v.9h-.9zM144.3 415.8h.9v.9h-.9zM143.9 433.9h.9v.9h-.9zM143.6 434.2h.9v.9h-.9zM146.7 420.6h.9v.9h-.9zM139.3 417.0h.9v.9h-.9zM143.4 418.8h.9v.9h-.9zM130.4 436.7h.9v.9h-.9zM144.5 420.1h.9v.9h-.9zM141.0 441.1h.9v.9h-.9zM138.4 443.4h.9v.9h-.9zM145.7 426.5h.9v.9h-.9zM134.7 443.0h.9v.9h-.9zM133.3 445.1h.9v.9h-.9zM142.4 437.2h.9v.9h-.9zM132.7 430.0h.9v.9h-.9zM147.0 423.8h.9v.9h-.9zM145.2 427.6h.9v.9h-.9zM141.1 439.9h.9v.9h-.9zM140.1 440.8h.9v.9h-.9zM145.4 428.5h.9v.9h-.9zM139.6 417.8h.9v.9h-.9zM135.8 422.9h.9v.9h-.9zM145.9 420.6h.9v.9h-.9zM140.5 440.7h.9v.9h-.9zM145.8 430.8h.9v.9h-.9zM136.9 444.8h.9v.9h-.9zM144.0 434.4h.9v.9h-.9zM135.2 443.6h.9v.9h-.9zM139.8 416.9h.9v.9h-.9zM139.9 441.1h.9v.9h-.9zM132.1 437.3h.9v.9h-.9zM131.7 442.2h.9v.9h-.9zM133.8 428.9h.9v.9h-.9zM144.4 419.5h.9v.9h-.9zM133.0 429.4h.9v.9h-.9zM140.9 416.0h.9v.9h-.9zM132.7 440.0h.9v.9h-.9zM144.0 435.7h.9v.9h-.9zM132.4 435.3h.9v.9h-.9zM131.4 432.5h.9v.9h-.9zM132.8 436.1h.9v.9h-.9zM145.4 424.3h.9v.9h-.9zM141.8 417.3h.9v.9h-.9zM141.1 417.4h.9v.9h-.9zM138.2 442.4h.9v.9h-.9zM132.5 441.1h.9v.9h-.9zM144.9 416.0h.9v.9h-.9zM142.4 417.4h.9v.9h-.9zM135.6 423.8h.9v.9h-.9zM132.1 438.3h.9v.9h-.9zM133.9 428.2h.9v.9h-.9zM145.3 427.2h.9v.9h-.9zM142.6 436.4h.9v.9h-.9zM144.8 431.9h.9v.9h-.9zM133.0 440.1h.9v.9h-.9zM146.1 418.9h.9v.9h-.9zM138.6 419.8h.9v.9h-.9zM136.8 443.0h.9v.9h-.9zM137.4 443.3h.9v.9h-.9zM145.7 420.7h.9v.9h-.9zM130.9 435.2h.9v.9h-.9zM135.0 422.8h.9v.9h-.9zM131.6 439.4h.9v.9h-.9zM146.5 431.8h.9v.9h-.9zM134.2 425.9h.9v.9h-.9zM146.4 423.2h.9v.9h-.9zM135.5 422.2h.9v.9h-.9zM131.9 443.4h.9v.9h-.9zM143.4 435.3h.9v.9h-.9zM134.4 444.8h.9v.9h-.9zM132.0 438.9h.9v.9h-.9zM144.1 432.8h.9v.9h-.9zM136.6 421.6h.9v.9h-.9zM138.3 443.3h.9v.9h-.9zM138.4 418.8h.9v.9h-.9zM136.0 422.2h.9v.9h-.9zM145.1 421.2h.9v.9h-.9zM132.8 436.8h.9v.9h-.9zM143.3 437.9h.9v.9h-.9zM132.5 428.3h.9v.9h-.9zM133.7 443.4h.9v.9h-.9zM136.7 444.5h.9v.9h-.9zM138.6 419.7h.9v.9h-.9zM144.5 418.8h.9v.9h-.9zM133.7 441.9h.9v.9h-.9zM142.1 438.2h.9v.9h-.9zM143.9 418.1h.9v.9h-.9zM133.8 428.8h.9v.9h-.9zM133.3 442.3h.9v.9h-.9zM138.4 414.5h.9v.9h-.9zM132.7 440.4h.9v.9h-.9zM142.1 439.8h.9v.9h-.9zM142.2 417.6h.9v.9h-.9zM146.1 421.0h.9v.9h-.9zM144.0 419.4h.9v.9h-.9zM133.3 430.5h.9v.9h-.9zM140.4 441.0h.9v.9h-.9zM140.7 439.8h.9v.9h-.9zM137.9 420.9h.9v.9h-.9zM142.0 437.9h.9v.9h-.9zM138.3 418.7h.9v.9h-.9zM132.2 437.5h.9v.9h-.9zM142.1 438.2h.9v.9h-.9zM144.9 418.2h.9v.9h-.9zM144.6 431.8h.9v.9h-.9zM141.5 418.0h.9v.9h-.9zM139.0 445.6h.9v.9h-.9zM145.7 424.9h.9v.9h-.9zM143.3 436.2h.9v.9h-.9zM138.7 417.8h.9v.9h-.9zM147.6 423.7h.9v.9h-.9zM133.6 426.2h.9v.9h-.9zM145.5 423.3h.9v.9h-.9zM141.6 416.0h.9v.9h-.9zM134.1 443.6h.9v.9h-.9zM144.2 418.0h.9v.9h-.9zM140.2 416.2h.9v.9h-.9zM141.7 443.9h.9v.9h-.9zM131.9 430.5h.9v.9h-.9zM134.3 443.9h.9v.9h-.9zM145.4 420.2h.9v.9h-.9zM145.9 420.5h.9v.9h-.9zM145.4 424.4h.9v.9h-.9zM145.4 425.3h.9v.9h-.9zM144.8 417.7h.9v.9h-.9zM144.3 418.4h.9v.9h-.9zM141.2 414.9h.9v.9h-.9zM144.9 420.9h.9v.9h-.9zM134.9 443.8h.9v.9h-.9zM145.7 421.7h.9v.9h-.9zM145.4 429.2h.9v.9h-.9zM134.0 428.0h.9v.9h-.9zM140.4 417.6h.9v.9h-.9zM136.5 443.0h.9v.9h-.9zM143.5 415.7h.9v.9h-.9zM143.7 414.2h.9v.9h-.9zM144.7 417.4h.9v.9h-.9zM139.7 441.7h.9v.9h-.9zM134.3 442.2h.9v.9h-.9zM138.4 419.2h.9v.9h-.9zM135.7 423.3h.9v.9h-.9zM132.5 439.9h.9v.9h-.9zM139.3 443.2h.9v.9h-.9zM135.4 420.7h.9v.9h-.9zM137.4 420.1h.9v.9h-.9zM137.6 420.5h.9v.9h-.9zM132.2 431.8h.9v.9h-.9zM144.8 421.5h.9v.9h-.9zM143.6 436.6h.9v.9h-.9zM135.6 444.4h.9v.9h-.9zM134.7 445.0h.9v.9h-.9zM135.8 422.1h.9v.9h-.9zM144.5 431.1h.9v.9h-.9zM131.7 436.5h.9v.9h-.9zM140.4 441.5h.9v.9h-.9zM134.1 427.0h.9v.9h-.9zM148.1 426.6h.9v.9h-.9zM136.1 443.6h.9v.9h-.9zM146.3 419.7h.9v.9h-.9zM145.1 429.1h.9v.9h-.9zM140.5 415.7h.9v.9h-.9zM142.9 438.1h.9v.9h-.9zM138.4 417.7h.9v.9h-.9zM134.2 444.0h.9v.9h-.9zM144.6 416.8h.9v.9h-.9zM134.9 425.8h.9v.9h-.9zM144.8 417.6h.9v.9h-.9zM136.0 423.4h.9v.9h-.9zM143.9 414.9h.9v.9h-.9zM132.0 435.4h.9v.9h-.9zM145.4 425.6h.9v.9h-.9zM141.6 439.4h.9v.9h-.9zM140.9 418.3h.9v.9h-.9zM135.7 443.9h.9v.9h-.9zM131.1 437.6h.9v.9h-.9zM133.4 429.8h.9v.9h-.9zM145.1 422.0h.9v.9h-.9zM136.4 422.6h.9v.9h-.9zM139.4 418.0h.9v.9h-.9zM145.5 424.8h.9v.9h-.9zM133.5 443.4h.9v.9h-.9zM144.1 435.3h.9v.9h-.9zM132.9 429.7h.9v.9h-.9zM144.4 416.1h.9v.9h-.9zM134.1 445.8h.9v.9h-.9zM134.1 424.9h.9v.9h-.9zM133.4 430.3h.9v.9h-.9zM146.3 420.0h.9v.9h-.9zM136.1 422.8h.9v.9h-.9zM144.8 431.2h.9v.9h-.9zM134.7 423.7h.9v.9h-.9zM135.2 444.4h.9v.9h-.9zM146.3 424.5h.9v.9h-.9zM133.3 430.3h.9v.9h-.9zM134.9 424.0h.9v.9h-.9zM132.8 433.1h.9v.9h-.9zM141.9 414.9h.9v.9h-.9zM144.7 432.8h.9v.9h-.9zM145.6 431.1h.9v.9h-.9zM145.5 424.2h.9v.9h-.9zM134.3 442.3h.9v.9h-.9zM139.3 444.2h.9v.9h-.9zM140.9 439.4h.9v.9h-.9zM137.5 435.2h.9v.9h-.9zM134.9 437.7h.9v.9h-.9zM136.2 450.7h.9v.9h-.9zM134.3 446.3h.9v.9h-.9zM140.2 435.3h.9v.9h-.9zM135.9 449.4h.9v.9h-.9zM133.6 440.7h.9v.9h-.9zM141.2 441.7h.9v.9h-.9zM140.0 434.9h.9v.9h-.9zM139.5 435.0h.9v.9h-.9zM141.1 438.7h.9v.9h-.9zM141.4 442.0h.9v.9h-.9zM134.7 438.8h.9v.9h-.9zM137.1 450.8h.9v.9h-.9zM135.7 448.6h.9v.9h-.9zM140.5 445.7h.9v.9h-.9zM140.9 445.2h.9v.9h-.9zM135.3 448.5h.9v.9h-.9zM134.2 441.6h.9v.9h-.9zM141.0 439.6h.9v.9h-.9zM137.8 448.5h.9v.9h-.9zM133.5 446.8h.9v.9h-.9zM138.0 434.3h.9v.9h-.9zM140.7 443.4h.9v.9h-.9zM138.6 447.8h.9v.9h-.9zM135.1 448.2h.9v.9h-.9zM141.4 437.5h.9v.9h-.9zM134.6 446.9h.9v.9h-.9zM138.4 434.1h.9v.9h-.9zM141.2 443.9h.9v.9h-.9zM136.7 449.4h.9v.9h-.9zM141.0 436.7h.9v.9h-.9zM135.6 450.7h.9v.9h-.9zM138.2 435.1h.9v.9h-.9zM135.2 449.7h.9v.9h-.9zM141.3 440.9h.9v.9h-.9zM140.3 445.3h.9v.9h-.9zM134.5 446.4h.9v.9h-.9zM135.6 436.4h.9v.9h-.9zM137.3 449.1h.9v.9h-.9zM136.5 449.4h.9v.9h-.9zM134.9 438.8h.9v.9h-.9zM140.8 436.5h.9v.9h-.9zM137.8 434.5h.9v.9h-.9zM137.1 448.9h.9v.9h-.9zM139.9 446.1h.9v.9h-.9zM134.3 440.0h.9v.9h-.9zM140.8 442.9h.9v.9h-.9zM141.1 438.0h.9v.9h-.9zM141.6 443.2h.9v.9h-.9zM134.0 444.9h.9v.9h-.9zM140.6 436.6h.9v.9h-.9zM137.4 448.8h.9v.9h-.9zM141.1 441.9h.9v.9h-.9zM135.2 449.4h.9v.9h-.9zM140.9 437.8h.9v.9h-.9zM134.5 440.4h.9v.9h-.9zM137.2 435.5h.9v.9h-.9zM140.0 445.5h.9v.9h-.9zM139.5 447.0h.9v.9h-.9zM134.6 447.6h.9v.9h-.9zM134.2 441.9h.9v.9h-.9zM140.2 434.9h.9v.9h-.9zM133.8 445.0h.9v.9h-.9zM134.8 438.3h.9v.9h-.9zM134.5 439.3h.9v.9h-.9zM137.7 448.7h.9v.9h-.9zM135.2 438.3h.9v.9h-.9zM135.1 449.7h.9v.9h-.9zM141.5 439.6h.9v.9h-.9zM141.5 444.9h.9v.9h-.9zM134.6 447.8h.9v.9h-.9zM135.3 448.7h.9v.9h-.9zM134.6 438.8h.9v.9h-.9zM134.2 443.0h.9v.9h-.9zM141.5 440.8h.9v.9h-.9zM138.8 449.3h.9v.9h-.9zM134.3 440.0h.9v.9h-.9zM137.2 448.9h.9v.9h-.9zM141.0 441.5h.9v.9h-.9zM137.5 435.2h.9v.9h-.9zM137.4 449.5h.9v.9h-.9zM140.2 445.1h.9v.9h-.9zM135.9 450.0h.9v.9h-.9zM140.8 445.2h.9v.9h-.9zM140.6 443.4h.9v.9h-.9zM133.3 446.1h.9v.9h-.9zM134.6 439.3h.9v.9h-.9zM138.4 448.6h.9v.9h-.9zM141.3 438.5h.9v.9h-.9zM136.8 449.8h.9v.9h-.9zM138.5 447.9h.9v.9h-.9zM137.8 450.4h.9v.9h-.9zM141.9 442.2h.9v.9h-.9zM133.7 440.2h.9v.9h-.9zM141.4 440.3h.9v.9h-.9zM140.2 433.2h.9v.9h-.9zM133.9 443.7h.9v.9h-.9zM134.2 441.8h.9v.9h-.9zM141.7 442.1h.9v.9h-.9zM141.3 439.1h.9v.9h-.9zM134.8 448.2h.9v.9h-.9zM137.1 435.7h.9v.9h-.9zM141.8 443.0h.9v.9h-.9zM135.5 448.9h.9v.9h-.9zM140.7 443.2h.9v.9h-.9zM133.8 441.8h.9v.9h-.9zM136.9 451.4h.9v.9h-.9zM139.1 448.0h.9v.9h-.9zM134.1 445.6h.9v.9h-.9zM135.6 449.2h.9v.9h-.9zM141.1 440.4h.9v.9h-.9zM138.2 449.4h.9v.9h-.9zM138.0 433.5h.9v.9h-.9zM134.4 438.7h.9v.9h-.9zM135.6 451.3h.9v.9h-.9zM133.9 445.5h.9v.9h-.9zM140.8 438.1h.9v.9h-.9zM138.3 448.9h.9v.9h-.9zM136.5 435.5h.9v.9h-.9zM141.3 439.7h.9v.9h-.9zM138.6 434.0h.9v.9h-.9zM135.6 437.3h.9v.9h-.9zM120.2 475.3h.9v.9h-.9zM127.1 488.6h.9v.9h-.9zM131.0 469.6h.9v.9h-.9zM119.3 484.5h.9v.9h-.9zM120.4 474.1h.9v.9h-.9zM129.0 487.6h.9v.9h-.9zM128.6 462.4h.9v.9h-.9zM118.8 485.1h.9v.9h-.9zM119.2 476.6h.9v.9h-.9zM123.4 468.1h.9v.9h-.9zM117.8 480.2h.9v.9h-.9zM119.2 489.7h.9v.9h-.9zM129.5 486.3h.9v.9h-.9zM131.5 478.6h.9v.9h-.9zM130.0 466.7h.9v.9h-.9zM121.1 472.0h.9v.9h-.9zM121.1 489.6h.9v.9h-.9zM132.5 483.2h.9v.9h-.9zM132.3 468.5h.9v.9h-.9zM130.4 481.7h.9v.9h-.9zM118.8 476.1h.9v.9h-.9zM132.3 476.3h.9v.9h-.9zM130.0 465.0h.9v.9h-.9zM128.6 490.1h.9v.9h-.9zM129.8 485.9h.9v.9h-.9zM117.1 482.1h.9v.9h-.9zM120.0 493.0h.9v.9h-.9zM124.1 493.1h.9v.9h-.9zM126.9 464.6h.9v.9h-.9zM120.7 467.9h.9v.9h-.9zM132.3 468.8h.9v.9h-.9zM131.6 478.9h.9v.9h-.9zM126.7 491.6h.9v.9h-.9zM129.9 467.6h.9v.9h-.9zM119.3 476.2h.9v.9h-.9zM119.9 475.6h.9v.9h-.9zM130.8 482.4h.9v.9h-.9zM123.9 466.8h.9v.9h-.9zM121.6 489.2h.9v.9h-.9zM132.7 476.8h.9v.9h-.9zM120.2 485.7h.9v.9h-.9zM118.9 483.1h.9v.9h-.9zM119.3 479.5h.9v.9h-.9zM126.9 462.6h.9v.9h-.9zM124.4 467.5h.9v.9h-.9zM126.8 490.4h.9v.9h-.9zM126.0 489.2h.9v.9h-.9zM128.5 466.2h.9v.9h-.9zM126.7 490.8h.9v.9h-.9zM131.6 473.6h.9v.9h-.9zM131.7 468.9h.9v.9h-.9zM121.0 472.1h.9v.9h-.9zM128.3 466.6h.9v.9h-.9zM131.6 469.8h.9v.9h-.9zM117.6 484.9h.9v.9h-.9zM121.2 488.5h.9v.9h-.9zM126.1 490.2h.9v.9h-.9zM120.5 472.4h.9v.9h-.9zM132.7 478.1h.9v.9h-.9zM135.0 474.5h.9v.9h-.9zM123.0 489.6h.9v.9h-.9zM130.6 469.4h.9v.9h-.9zM118.6 482.0h.9v.9h-.9zM125.1 465.8h.9v.9h-.9zM119.7 471.1h.9v.9h-.9zM123.0 467.8h.9v.9h-.9zM129.9 467.8h.9v.9h-.9zM126.3 489.6h.9v.9h-.9zM123.8 466.8h.9v.9h-.9zM121.3 469.6h.9v.9h-.9zM120.4 487.8h.9v.9h-.9zM118.8 484.7h.9v.9h-.9zM131.3 480.3h.9v.9h-.9zM131.6 480.4h.9v.9h-.9zM130.6 465.5h.9v.9h-.9zM124.0 468.0h.9v.9h-.9zM131.8 482.9h.9v.9h-.9zM127.7 463.6h.9v.9h-.9zM128.0 465.6h.9v.9h-.9zM120.7 473.4h.9v.9h-.9zM122.4 490.0h.9v.9h-.9zM129.9 464.0h.9v.9h-.9zM119.3 483.5h.9v.9h-.9zM119.0 480.7h.9v.9h-.9zM119.4 480.8h.9v.9h-.9zM119.1 481.2h.9v.9h-.9zM118.6 482.9h.9v.9h-.9zM120.0 475.6h.9v.9h-.9zM128.1 488.1h.9v.9h-.9zM126.1 464.1h.9v.9h-.9zM123.5 493.8h.9v.9h-.9zM131.3 480.5h.9v.9h-.9zM127.9 462.5h.9v.9h-.9zM130.9 481.3h.9v.9h-.9zM125.6 492.1h.9v.9h-.9zM117.8 481.6h.9v.9h-.9zM120.6 473.4h.9v.9h-.9zM130.2 484.2h.9v.9h-.9zM128.9 466.4h.9v.9h-.9zM120.6 488.8h.9v.9h-.9zM120.2 488.2h.9v.9h-.9zM119.6 478.5h.9v.9h-.9zM132.3 480.2h.9v.9h-.9zM120.7 471.3h.9v.9h-.9zM119.9 475.1h.9v.9h-.9zM122.2 468.6h.9v.9h-.9zM119.0 476.3h.9v.9h-.9zM119.3 482.8h.9v.9h-.9zM121.5 489.3h.9v.9h-.9zM121.5 467.5h.9v.9h-.9zM132.3 477.1h.9v.9h-.9zM118.6 484.0h.9v.9h-.9zM120.0 473.5h.9v.9h-.9zM120.2 475.2h.9v.9h-.9zM131.0 470.7h.9v.9h-.9zM130.1 483.8h.9v.9h-.9zM125.0 465.9h.9v.9h-.9zM120.2 475.2h.9v.9h-.9zM131.5 472.0h.9v.9h-.9zM124.0 490.1h.9v.9h-.9zM121.0 472.6h.9v.9h-.9zM122.1 468.7h.9v.9h-.9zM122.6 490.3h.9v.9h-.9zM131.2 467.9h.9v.9h-.9zM132.1 476.6h.9v.9h-.9zM128.5 466.0h.9v.9h-.9zM131.8 472.6h.9v.9h-.9zM130.5 465.0h.9v.9h-.9zM119.2 480.8h.9v.9h-.9zM119.5 480.6h.9v.9h-.9zM125.5 490.6h.9v.9h-.9zM122.7 466.6h.9v.9h-.9zM131.5 471.3h.9v.9h-.9zM132.3 474.4h.9v.9h-.9zM119.2 488.1h.9v.9h-.9zM122.3 489.9h.9v.9h-.9zM132.6 467.8h.9v.9h-.9zM123.8 465.5h.9v.9h-.9zM118.9 487.6h.9v.9h-.9zM119.9 487.3h.9v.9h-.9zM129.0 490.0h.9v.9h-.9zM120.3 486.7h.9v.9h-.9zM130.0 467.3h.9v.9h-.9zM131.5 484.0h.9v.9h-.9zM118.8 486.5h.9v.9h-.9zM120.5 487.1h.9v.9h-.9zM121.9 491.9h.9v.9h-.9zM130.4 464.0h.9v.9h-.9zM129.7 484.1h.9v.9h-.9zM127.1 465.6h.9v.9h-.9zM125.5 466.2h.9v.9h-.9zM120.9 471.5h.9v.9h-.9zM129.6 467.6h.9v.9h-.9zM130.3 467.0h.9v.9h-.9zM132.1 476.0h.9v.9h-.9zM121.3 471.3h.9v.9h-.9zM132.2 475.3h.9v.9h-.9zM131.8 477.1h.9v.9h-.9zM132.5 480.2h.9v.9h-.9zM118.9 478.3h.9v.9h-.9zM122.5 489.4h.9v.9h-.9zM122.4 469.4h.9v.9h-.9zM130.4 466.9h.9v.9h-.9zM130.6 463.2h.9v.9h-.9zM122.0 470.3h.9v.9h-.9zM131.3 468.6h.9v.9h-.9zM119.3 479.7h.9v.9h-.9zM119.9 487.6h.9v.9h-.9zM133.0 475.3h.9v.9h-.9zM131.5 479.9h.9v.9h-.9zM117.3 477.7h.9v.9h-.9zM128.7 465.1h.9v.9h-.9zM126.0 465.7h.9v.9h-.9zM129.9 464.5h.9v.9h-.9zM131.7 472.3h.9v.9h-.9zM118.9 485.9h.9v.9h-.9zM132.1 467.8h.9v.9h-.9zM127.9 463.9h.9v.9h-.9zM126.0 490.6h.9v.9h-.9zM130.3 466.4h.9v.9h-.9zM133.4 471.1h.9v.9h-.9zM121.9 489.4h.9v.9h-.9zM122.4 467.7h.9v.9h-.9zM132.3 479.8h.9v.9h-.9zM127.3 488.8h.9v.9h-.9zM121.0 488.8h.9v.9h-.9zM119.1 484.7h.9v.9h-.9zM118.6 479.2h.9v.9h-.9zM130.9 486.1h.9v.9h-.9zM128.2 486.8h.9v.9h-.9zM122.5 467.6h.9v.9h-.9zM123.9 466.4h.9v.9h-.9zM126.7 490.7h.9v.9h-.9zM128.2 461.7h.9v.9h-.9zM132.4 472.9h.9v.9h-.9zM120.9 471.2h.9v.9h-.9zM124.1 466.5h.9v.9h-.9zM121.1 489.2h.9v.9h-.9zM119.1 481.5h.9v.9h-.9zM129.5 467.5h.9v.9h-.9zM121.6 469.9h.9v.9h-.9zM119.4 481.9h.9v.9h-.9zM120.7 488.7h.9v.9h-.9zM120.5 488.8h.9v.9h-.9zM132.5 471.5h.9v.9h-.9zM122.1 470.5h.9v.9h-.9zM122.3 489.8h.9v.9h-.9zM119.8 487.5h.9v.9h-.9zM132.7 472.2h.9v.9h-.9zM119.1 486.6h.9v.9h-.9zM131.9 478.1h.9v.9h-.9zM119.2 475.8h.9v.9h-.9zM128.6 466.4h.9v.9h-.9zM131.7 469.3h.9v.9h-.9zM131.6 476.1h.9v.9h-.9zM127.4 489.7h.9v.9h-.9zM122.4 467.9h.9v.9h-.9zM127.8 466.2h.9v.9h-.9zM121.6 488.7h.9v.9h-.9zM129.3 465.0h.9v.9h-.9zM128.0 487.9h.9v.9h-.9zM130.9 483.1h.9v.9h-.9zM132.7 471.7h.9v.9h-.9zM124.1 490.2h.9v.9h-.9zM129.1 485.3h.9v.9h-.9zM131.3 480.0h.9v.9h-.9zM118.9 488.6h.9v.9h-.9zM131.4 478.6h.9v.9h-.9zM126.7 465.1h.9v.9h-.9zM132.0 479.1h.9v.9h-.9zM127.2 466.3h.9v.9h-.9zM132.3 471.8h.9v.9h-.9zM125.7 466.0h.9v.9h-.9zM130.3 465.6h.9v.9h-.9zM128.3 463.9h.9v.9h-.9zM130.5 468.8h.9v.9h-.9zM118.8 480.4h.9v.9h-.9zM132.4 477.7h.9v.9h-.9zM131.3 481.2h.9v.9h-.9zM119.4 482.7h.9v.9h-.9zM128.7 466.0h.9v.9h-.9zM121.9 489.7h.9v.9h-.9zM127.3 489.4h.9v.9h-.9zM132.3 471.8h.9v.9h-.9zM124.3 467.4h.9v.9h-.9zM128.9 487.4h.9v.9h-.9zM131.6 482.9h.9v.9h-.9zM118.5 481.6h.9v.9h-.9zM121.7 468.3h.9v.9h-.9zM133.3 477.2h.9v.9h-.9zM132.1 469.0h.9v.9h-.9zM126.2 464.6h.9v.9h-.9zM126.1 489.0h.9v.9h-.9zM121.1 493.3h.9v.9h-.9zM124.9 492.7h.9v.9h-.9zM121.1 470.9h.9v.9h-.9zM126.1 490.1h.9v.9h-.9zM119.6 476.4h.9v.9h-.9zM121.3 494.9h.9v.9h-.9zM131.3 465.4h.9v.9h-.9zM122.8 491.1h.9v.9h-.9zM122.3 470.0h.9v.9h-.9zM122.2 490.1h.9v.9h-.9zM127.6 489.0h.9v.9h-.9zM128.5 466.3h.9v.9h-.9zM119.0 480.8h.9v.9h-.9zM127.9 490.2h.9v.9h-.9zM129.6 484.0h.9v.9h-.9zM128.6 488.0h.9v.9h-.9zM126.8 492.2h.9v.9h-.9zM130.1 486.4h.9v.9h-.9zM131.3 482.7h.9v.9h-.9zM124.9 489.4h.9v.9h-.9zM129.5 465.9h.9v.9h-.9zM133.7 476.9h.9v.9h-.9zM125.7 489.3h.9v.9h-.9zM122.9 466.8h.9v.9h-.9zM126.2 490.2h.9v.9h-.9zM120.0 493.2h.9v.9h-.9zM123.5 467.5h.9v.9h-.9zM120.7 472.8h.9v.9h-.9zM118.5 480.1h.9v.9h-.9zM120.1 486.0h.9v.9h-.9zM119.1 489.9h.9v.9h-.9zM132.7 473.9h.9v.9h-.9zM131.1 470.9h.9v.9h-.9zM129.5 467.0h.9v.9h-.9zM131.9 465.8h.9v.9h-.9zM120.2 486.1h.9v.9h-.9zM119.4 488.1h.9v.9h-.9zM129.0 466.2h.9v.9h-.9zM121.7 470.8h.9v.9h-.9zM125.6 490.4h.9v.9h-.9zM121.2 492.4h.9v.9h-.9zM131.2 464.8h.9v.9h-.9zM121.9 468.5h.9v.9h-.9zM130.6 467.0h.9v.9h-.9zM132.9 475.7h.9v.9h-.9zM124.4 493.7h.9v.9h-.9zM123.1 492.0h.9v.9h-.9zM121.9 490.6h.9v.9h-.9zM125.2 466.5h.9v.9h-.9zM129.0 465.9h.9v.9h-.9zM118.8 482.9h.9v.9h-.9zM126.0 489.0h.9v.9h-.9zM120.6 472.0h.9v.9h-.9zM119.3 483.2h.9v.9h-.9zM121.1 472.6h.9v.9h-.9zM122.4 469.1h.9v.9h-.9zM120.3 474.7h.9v.9h-.9zM131.6 470.1h.9v.9h-.9zM122.0 489.8h.9v.9h-.9zM120.2 475.3h.9v.9h-.9zM119.6 474.9h.9v.9h-.9zM124.9 467.1h.9v.9h-.9zM126.6 489.4h.9v.9h-.9zM127.9 466.3h.9v.9h-.9zM117.9 478.9h.9v.9h-.9zM130.9 481.2h.9v.9h-.9zM117.2 486.2h.9v.9h-.9zM129.4 466.4h.9v.9h-.9zM129.3 487.7h.9v.9h-.9zM119.2 486.0h.9v.9h-.9zM131.8 469.3h.9v.9h-.9zM130.9 485.2h.9v.9h-.9zM131.2 471.6h.9v.9h-.9zM123.3 467.2h.9v.9h-.9zM119.3 474.7h.9v.9h-.9zM119.9 484.8h.9v.9h-.9zM122.7 489.5h.9v.9h-.9zM127.0 463.7h.9v.9h-.9zM131.1 479.7h.9v.9h-.9zM119.2 480.4h.9v.9h-.9zM130.3 468.1h.9v.9h-.9zM119.4 486.8h.9v.9h-.9zM131.7 474.9h.9v.9h-.9zM128.5 463.3h.9v.9h-.9zM124.2 467.8h.9v.9h-.9zM131.0 481.3h.9v.9h-.9zM127.3 465.6h.9v.9h-.9zM119.6 482.1h.9v.9h-.9zM118.7 483.4h.9v.9h-.9zM119.1 482.9h.9v.9h-.9zM127.3 466.0h.9v.9h-.9zM131.5 477.1h.9v.9h-.9zM127.7 462.0h.9v.9h-.9zM130.1 484.6h.9v.9h-.9zM131.0 467.7h.9v.9h-.9zM124.6 465.5h.9v.9h-.9zM131.0 467.9h.9v.9h-.9zM124.1 492.0h.9v.9h-.9zM120.7 469.5h.9v.9h-.9zM131.3 481.2h.9v.9h-.9zM119.1 479.3h.9v.9h-.9zM119.8 484.6h.9v.9h-.9zM119.5 481.3h.9v.9h-.9zM131.4 471.8h.9v.9h-.9zM116.5 481.7h.9v.9h-.9zM121.0 469.1h.9v.9h-.9zM132.3 470.0h.9v.9h-.9zM126.2 465.1h.9v.9h-.9zM130.0 476.1h.9v.9h-.9zM127.1 479.8h.9v.9h-.9zM132.9 468.4h.9v.9h-.9zM123.1 477.9h.9v.9h-.9zM130.8 476.1h.9v.9h-.9zM131.0 465.8h.9v.9h-.9zM132.2 468.1h.9v.9h-.9zM130.2 476.8h.9v.9h-.9zM120.6 473.4h.9v.9h-.9zM120.7 466.3h.9v.9h-.9zM124.2 479.1h.9v.9h-.9zM131.2 464.2h.9v.9h-.9zM120.6 476.0h.9v.9h-.9zM125.4 464.2h.9v.9h-.9zM130.3 465.8h.9v.9h-.9zM129.6 477.4h.9v.9h-.9zM129.4 464.9h.9v.9h-.9zM121.0 477.3h.9v.9h-.9zM132.0 467.1h.9v.9h-.9zM126.8 463.0h.9v.9h-.9zM127.4 479.1h.9v.9h-.9zM120.0 475.6h.9v.9h-.9zM130.2 476.8h.9v.9h-.9zM129.8 476.7h.9v.9h-.9zM129.7 463.9h.9v.9h-.9zM123.9 465.2h.9v.9h-.9zM131.5 474.3h.9v.9h-.9zM132.1 473.5h.9v.9h-.9zM130.1 479.9h.9v.9h-.9zM134.0 470.3h.9v.9h-.9zM130.4 475.8h.9v.9h-.9zM131.1 474.7h.9v.9h-.9zM128.2 463.5h.9v.9h-.9zM124.4 465.3h.9v.9h-.9zM132.0 475.4h.9v.9h-.9zM123.1 466.1h.9v.9h-.9zM130.4 464.8h.9v.9h-.9zM121.9 476.9h.9v.9h-.9zM123.8 465.3h.9v.9h-.9zM132.3 472.0h.9v.9h-.9zM133.5 469.1h.9v.9h-.9zM121.2 467.2h.9v.9h-.9zM118.5 474.6h.9v.9h-.9zM128.5 462.1h.9v.9h-.9zM133.1 469.2h.9v.9h-.9zM132.9 468.7h.9v.9h-.9zM131.2 464.8h.9v.9h-.9zM130.4 476.7h.9v.9h-.9zM130.5 465.3h.9v.9h-.9zM120.6 475.6h.9v.9h-.9zM131.3 466.7h.9v.9h-.9zM125.5 478.7h.9v.9h-.9zM123.2 478.5h.9v.9h-.9zM131.2 466.8h.9v.9h-.9zM119.5 472.2h.9v.9h-.9zM128.5 464.8h.9v.9h-.9zM128.0 478.1h.9v.9h-.9zM122.4 480.1h.9v.9h-.9zM128.6 478.0h.9v.9h-.9zM128.2 464.4h.9v.9h-.9zM123.0 464.9h.9v.9h-.9zM128.4 461.3h.9v.9h-.9zM128.0 477.7h.9v.9h-.9zM130.3 476.0h.9v.9h-.9zM129.3 465.1h.9v.9h-.9zM131.4 466.0h.9v.9h-.9zM127.3 464.4h.9v.9h-.9zM121.1 476.8h.9v.9h-.9zM125.9 478.3h.9v.9h-.9zM132.4 469.4h.9v.9h-.9zM126.6 464.4h.9v.9h-.9zM130.2 465.2h.9v.9h-.9zM120.8 473.9h.9v.9h-.9zM120.8 476.3h.9v.9h-.9zM119.0 470.0h.9v.9h-.9zM119.9 469.5h.9v.9h-.9zM118.9 473.2h.9v.9h-.9zM122.3 477.2h.9v.9h-.9zM126.3 479.9h.9v.9h-.9zM122.0 467.4h.9v.9h-.9zM132.8 468.0h.9v.9h-.9zM131.1 474.7h.9v.9h-.9zM121.1 467.9h.9v.9h-.9zM124.5 463.8h.9v.9h-.9zM120.4 473.4h.9v.9h-.9zM131.2 464.5h.9v.9h-.9zM122.8 466.4h.9v.9h-.9zM127.7 464.6h.9v.9h-.9zM125.2 479.7h.9v.9h-.9zM127.9 477.9h.9v.9h-.9zM129.3 477.3h.9v.9h-.9zM120.7 476.0h.9v.9h-.9zM133.0 469.7h.9v.9h-.9zM131.9 468.5h.9v.9h-.9zM128.6 464.5h.9v.9h-.9zM123.7 478.7h.9v.9h-.9zM123.3 478.5h.9v.9h-.9zM130.7 475.5h.9v.9h-.9zM130.4 465.4h.9v.9h-.9zM130.9 465.9h.9v.9h-.9zM131.3 465.0h.9v.9h-.9zM120.0 471.6h.9v.9h-.9zM121.7 468.4h.9v.9h-.9zM127.4 462.3h.9v.9h-.9zM128.5 463.6h.9v.9h-.9zM132.3 469.1h.9v.9h-.9zM129.3 465.1h.9v.9h-.9zM119.9 472.5h.9v.9h-.9zM131.4 475.5h.9v.9h-.9zM126.1 464.4h.9v.9h-.9zM123.8 480.4h.9v.9h-.9zM126.1 478.7h.9v.9h-.9zM126.9 480.0h.9v.9h-.9zM130.9 476.1h.9v.9h-.9zM121.7 477.3h.9v.9h-.9zM132.7 470.5h.9v.9h-.9zM128.1 464.4h.9v.9h-.9zM122.2 467.3h.9v.9h-.9zM123.6 465.8h.9v.9h-.9zM127.0 463.8h.9v.9h-.9zM120.3 472.5h.9v.9h-.9zM125.2 464.2h.9v.9h-.9zM119.7 469.7h.9v.9h-.9zM124.6 479.3h.9v.9h-.9zM129.6 464.9h.9v.9h-.9zM123.1 478.8h.9v.9h-.9zM121.7 479.2h.9v.9h-.9zM119.7 469.8h.9v.9h-.9zM124.2 465.6h.9v.9h-.9zM120.7 474.8h.9v.9h-.9zM131.5 466.5h.9v.9h-.9zM131.3 467.0h.9v.9h-.9zM124.2 465.3h.9v.9h-.9zM124.5 465.1h.9v.9h-.9zM127.6 478.7h.9v.9h-.9zM131.0 466.0h.9v.9h-.9zM132.4 466.9h.9v.9h-.9zM133.1 466.8h.9v.9h-.9zM125.7 464.2h.9v.9h-.9zM127.5 479.3h.9v.9h-.9zM125.2 478.7h.9v.9h-.9zM122.1 466.3h.9v.9h-.9zM132.6 473.4h.9v.9h-.9zM122.5 478.5h.9v.9h-.9zM121.8 476.4h.9v.9h-.9zM127.1 479.8h.9v.9h-.9zM132.1 467.8h.9v.9h-.9zM126.7 478.3h.9v.9h-.9zM132.9 466.7h.9v.9h-.9zM130.7 476.5h.9v.9h-.9zM127.6 478.3h.9v.9h-.9zM134.3 470.6h.9v.9h-.9zM129.2 463.4h.9v.9h-.9zM119.8 472.3h.9v.9h-.9zM126.4 464.1h.9v.9h-.9zM126.4 464.3h.9v.9h-.9zM131.4 475.2h.9v.9h-.9zM133.6 468.2h.9v.9h-.9zM128.7 464.3h.9v.9h-.9zM123.1 479.3h.9v.9h-.9zM118.9 473.1h.9v.9h-.9zM124.0 465.5h.9v.9h-.9zM129.6 476.7h.9v.9h-.9zM121.4 476.1h.9v.9h-.9zM130.7 475.4h.9v.9h-.9zM132.0 471.9h.9v.9h-.9zM130.3 464.7h.9v.9h-.9zM132.4 473.0h.9v.9h-.9zM131.8 473.4h.9v.9h-.9zM120.5 469.5h.9v.9h-.9zM123.4 478.0h.9v.9h-.9zM121.1 468.4h.9v.9h-.9zM131.6 475.3h.9v.9h-.9zM135.5 472.0h.9v.9h-.9zM121.2 477.1h.9v.9h-.9zM131.7 474.5h.9v.9h-.9zM120.4 469.1h.9v.9h-.9zM128.5 478.9h.9v.9h-.9zM131.8 475.1h.9v.9h-.9zM119.7 468.8h.9v.9h-.9zM133.6 470.6h.9v.9h-.9zM119.9 470.5h.9v.9h-.9zM128.1 478.7h.9v.9h-.9zM131.3 466.6h.9v.9h-.9zM120.1 475.3h.9v.9h-.9zM120.3 476.1h.9v.9h-.9zM132.0 466.8h.9v.9h-.9zM125.3 478.9h.9v.9h-.9zM125.1 479.3h.9v.9h-.9zM119.5 470.9h.9v.9h-.9zM132.3 471.1h.9v.9h-.9zM121.7 477.7h.9v.9h-.9zM128.8 464.0h.9v.9h-.9zM130.0 463.5h.9v.9h-.9zM120.2 471.0h.9v.9h-.9zM130.2 478.7h.9v.9h-.9zM123.9 480.2h.9v.9h-.9zM131.3 474.9h.9v.9h-.9zM125.1 480.3h.9v.9h-.9zM123.9 478.9h.9v.9h-.9zM126.0 464.3h.9v.9h-.9zM124.2 465.1h.9v.9h-.9zM126.4 462.7h.9v.9h-.9zM128.2 461.8h.9v.9h-.9zM128.2 480.4h.9v.9h-.9zM121.1 467.9h.9v.9h-.9zM124.4 463.1h.9v.9h-.9zM131.9 467.8h.9v.9h-.9zM120.6 470.6h.9v.9h-.9zM120.8 477.6h.9v.9h-.9zM132.7 471.2h.9v.9h-.9zM122.5 449.8h.9v.9h-.9zM112.8 457.3h.9v.9h-.9zM126.4 444.3h.9v.9h-.9zM128.3 447.6h.9v.9h-.9zM121.9 436.2h.9v.9h-.9zM125.1 446.8h.9v.9h-.9zM124.7 441.5h.9v.9h-.9zM122.3 439.1h.9v.9h-.9zM117.3 434.5h.9v.9h-.9zM125.5 455.3h.9v.9h-.9zM115.8 436.0h.9v.9h-.9zM131.3 438.5h.9v.9h-.9zM118.7 445.8h.9v.9h-.9zM126.3 447.4h.9v.9h-.9zM119.6 447.5h.9v.9h-.9zM125.7 446.4h.9v.9h-.9zM122.4 440.4h.9v.9h-.9zM126.5 450.3h.9v.9h-.9zM119.2 446.9h.9v.9h-.9zM114.6 437.0h.9v.9h-.9zM122.1 455.4h.9v.9h-.9zM121.7 443.7h.9v.9h-.9zM115.3 451.4h.9v.9h-.9zM119.8 437.0h.9v.9h-.9zM114.4 438.6h.9v.9h-.9zM124.2 442.3h.9v.9h-.9zM121.5 441.6h.9v.9h-.9zM123.7 451.8h.9v.9h-.9zM137.9 436.0h.9v.9h-.9zM124.5 446.8h.9v.9h-.9zM125.6 439.7h.9v.9h-.9zM127.0 448.9h.9v.9h-.9zM122.8 447.0h.9v.9h-.9zM120.3 442.5h.9v.9h-.9zM128.4 459.1h.9v.9h-.9zM129.2 445.5h.9v.9h-.9zM107.5 452.4h.9v.9h-.9zM122.7 437.8h.9v.9h-.9zM121.7 445.0h.9v.9h-.9zM120.5 446.3h.9v.9h-.9zM130.4 446.6h.9v.9h-.9zM120.6 443.7h.9v.9h-.9zM128.3 440.8h.9v.9h-.9zM120.6 427.2h.9v.9h-.9zM121.3 442.4h.9v.9h-.9zM127.6 440.3h.9v.9h-.9zM119.5 444.3h.9v.9h-.9zM122.7 451.0h.9v.9h-.9zM117.5 459.1h.9v.9h-.9zM118.7 449.0h.9v.9h-.9zM127.5 451.9h.9v.9h-.9zM126.8 449.6h.9v.9h-.9zM117.3 450.2h.9v.9h-.9zM117.1 449.4h.9v.9h-.9zM137.6 444.3h.9v.9h-.9zM120.0 443.9h.9v.9h-.9zM118.8 447.9h.9v.9h-.9zM126.4 456.7h.9v.9h-.9zM119.3 450.6h.9v.9h-.9zM121.6 455.6h.9v.9h-.9zM128.5 438.1h.9v.9h-.9zM129.1 447.5h.9v.9h-.9zM122.5 448.3h.9v.9h-.9zM130.9 449.0h.9v.9h-.9zM122.8 437.7h.9v.9h-.9zM122.2 434.9h.9v.9h-.9zM123.5 433.2h.9v.9h-.9zM121.9 443.5h.9v.9h-.9zM126.5 460.0h.9v.9h-.9zM125.1 447.2h.9v.9h-.9zM119.3 438.7h.9v.9h-.9zM124.5 448.0h.9v.9h-.9zM120.6 444.1h.9v.9h-.9zM120.4 447.0h.9v.9h-.9zM122.8 443.2h.9v.9h-.9zM129.2 438.2h.9v.9h-.9zM125.1 442.8h.9v.9h-.9zM130.5 450.3h.9v.9h-.9zM132.1 447.8h.9v.9h-.9zM123.4 453.3h.9v.9h-.9zM120.2 439.6h.9v.9h-.9zM119.2 452.3h.9v.9h-.9zM125.1 446.4h.9v.9h-.9zM128.3 447.2h.9v.9h-.9zM132.3 453.5h.9v.9h-.9zM116.4 445.3h.9v.9h-.9zM128.6 447.6h.9v.9h-.9zM129.5 449.9h.9v.9h-.9zM137.0 450.0h.9v.9h-.9zM124.6 451.0h.9v.9h-.9zM123.4 453.9h.9v.9h-.9zM115.2 449.3h.9v.9h-.9zM119.3 443.5h.9v.9h-.9zM117.5 460.8h.9v.9h-.9zM118.0 446.0h.9v.9h-.9zM118.6 448.4h.9v.9h-.9zM115.2 441.7h.9v.9h-.9zM123.1 433.1h.9v.9h-.9zM125.7 441.5h.9v.9h-.9zM127.8 446.6h.9v.9h-.9zM123.1 449.4h.9v.9h-.9zM129.4 446.4h.9v.9h-.9zM129.5 451.0h.9v.9h-.9zM115.3 452.2h.9v.9h-.9zM122.1 452.1h.9v.9h-.9zM116.8 446.2h.9v.9h-.9zM118.2 446.7h.9v.9h-.9zM124.6 444.9h.9v.9h-.9zM122.9 441.0h.9v.9h-.9zM131.7 454.8h.9v.9h-.9zM134.9 438.8h.9v.9h-.9zM125.9 445.8h.9v.9h-.9zM122.6 447.6h.9v.9h-.9zM122.8 433.4h.9v.9h-.9zM123.6 450.7h.9v.9h-.9zM126.8 444.1h.9v.9h-.9zM119.6 447.6h.9v.9h-.9zM126.9 444.3h.9v.9h-.9zM122.3 437.0h.9v.9h-.9zM129.5 447.4h.9v.9h-.9zM131.2 446.9h.9v.9h-.9zM133.2 452.2h.9v.9h-.9zM122.8 449.1h.9v.9h-.9zM116.3 436.2h.9v.9h-.9zM114.4 452.9h.9v.9h-.9zM122.1 451.0h.9v.9h-.9zM115.9 450.9h.9v.9h-.9zM114.6 449.2h.9v.9h-.9zM121.8 442.0h.9v.9h-.9zM118.3 449.5h.9v.9h-.9zM136.2 461.1h.9v.9h-.9zM144.0 432.9h.9v.9h-.9zM136.7 460.0h.9v.9h-.9zM134.3 467.5h.9v.9h-.9zM137.1 461.1h.9v.9h-.9zM141.2 445.6h.9v.9h-.9zM129.0 461.5h.9v.9h-.9zM134.4 479.9h.9v.9h-.9zM140.1 445.1h.9v.9h-.9zM137.4 455.0h.9v.9h-.9zM133.6 461.8h.9v.9h-.9zM137.5 451.5h.9v.9h-.9zM135.3 466.0h.9v.9h-.9zM130.3 467.3h.9v.9h-.9zM139.1 449.6h.9v.9h-.9zM134.9 462.2h.9v.9h-.9zM139.9 453.6h.9v.9h-.9zM137.2 457.8h.9v.9h-.9zM136.9 450.2h.9v.9h-.9zM136.0 456.7h.9v.9h-.9zM133.3 476.0h.9v.9h-.9zM137.3 451.7h.9v.9h-.9zM136.0 462.1h.9v.9h-.9zM135.8 449.6h.9v.9h-.9zM133.2 456.1h.9v.9h-.9zM137.1 444.9h.9v.9h-.9zM132.0 459.8h.9v.9h-.9zM130.2 475.4h.9v.9h-.9zM135.9 460.6h.9v.9h-.9zM133.2 452.4h.9v.9h-.9zM132.4 460.1h.9v.9h-.9zM136.4 462.1h.9v.9h-.9zM137.3 444.4h.9v.9h-.9zM135.4 459.0h.9v.9h-.9zM135.0 447.8h.9v.9h-.9zM133.7 455.9h.9v.9h-.9zM132.3 470.3h.9v.9h-.9zM137.5 466.7h.9v.9h-.9zM136.1 460.6h.9v.9h-.9zM132.7 454.2h.9v.9h-.9zM135.2 465.0h.9v.9h-.9zM135.0 470.5h.9v.9h-.9zM135.3 466.9h.9v.9h-.9zM132.1 461.7h.9v.9h-.9zM133.9 465.4h.9v.9h-.9zM139.2 463.8h.9v.9h-.9zM137.2 440.9h.9v.9h-.9zM136.9 455.4h.9v.9h-.9zM132.6 464.5h.9v.9h-.9zM132.9 457.2h.9v.9h-.9zM137.7 443.6h.9v.9h-.9zM139.1 452.5h.9v.9h-.9zM138.0 459.1h.9v.9h-.9zM131.3 469.2h.9v.9h-.9zM131.5 472.4h.9v.9h-.9zM133.1 460.3h.9v.9h-.9zM131.0 457.7h.9v.9h-.9zM134.0 472.3h.9v.9h-.9zM136.5 470.2h.9v.9h-.9zM138.9 458.8h.9v.9h-.9zM130.5 477.0h.9v.9h-.9zM135.3 473.5h.9v.9h-.9zM138.0 458.7h.9v.9h-.9zM136.0 452.6h.9v.9h-.9zM136.3 454.9h.9v.9h-.9zM136.8 448.8h.9v.9h-.9zM139.2 443.9h.9v.9h-.9zM141.3 450.6h.9v.9h-.9zM133.2 459.6h.9v.9h-.9zM137.1 438.4h.9v.9h-.9zM140.7 443.3h.9v.9h-.9zM137.6 449.4h.9v.9h-.9zM130.1 464.0h.9v.9h-.9zM134.3 453.7h.9v.9h-.9zM130.0 475.7h.9v.9h-.9zM133.8 460.3h.9v.9h-.9zM131.8 479.7h.9v.9h-.9zM137.1 461.8h.9v.9h-.9zM137.3 448.5h.9v.9h-.9zM136.1 457.5h.9v.9h-.9zM137.2 443.1h.9v.9h-.9zM137.9 458.1h.9v.9h-.9zM138.8 457.3h.9v.9h-.9zM134.6 460.2h.9v.9h-.9zM135.2 452.6h.9v.9h-.9zM140.2 458.8h.9v.9h-.9zM140.0 447.4h.9v.9h-.9zM136.9 443.0h.9v.9h-.9zM132.8 453.5h.9v.9h-.9zM133.0 467.3h.9v.9h-.9zM132.4 500.5h.9v.9h-.9zM123.7 499.4h.9v.9h-.9zM125.2 496.8h.9v.9h-.9zM123.9 501.6h.9v.9h-.9zM133.4 496.2h.9v.9h-.9zM120.1 498.7h.9v.9h-.9zM125.0 497.1h.9v.9h-.9zM125.4 497.7h.9v.9h-.9zM123.3 493.1h.9v.9h-.9zM120.4 492.2h.9v.9h-.9zM130.5 498.1h.9v.9h-.9zM127.2 493.1h.9v.9h-.9zM130.0 499.6h.9v.9h-.9zM134.0 499.0h.9v.9h-.9zM124.6 493.4h.9v.9h-.9zM129.1 497.1h.9v.9h-.9zM124.4 495.8h.9v.9h-.9zM126.0 494.8h.9v.9h-.9zM128.1 500.5h.9v.9h-.9zM125.6 495.6h.9v.9h-.9zM118.9 496.5h.9v.9h-.9zM134.0 486.7h.9v.9h-.9zM127.2 498.1h.9v.9h-.9zM120.7 489.0h.9v.9h-.9zM115.4 493.7h.9v.9h-.9zM126.3 502.7h.9v.9h-.9zM131.5 493.7h.9v.9h-.9zM132.0 489.8h.9v.9h-.9zM124.5 497.3h.9v.9h-.9zM129.7 493.7h.9v.9h-.9zM118.7 497.0h.9v.9h-.9zM127.2 489.4h.9v.9h-.9zM131.0 500.5h.9v.9h-.9zM123.4 502.4h.9v.9h-.9zM125.6 489.0h.9v.9h-.9zM127.0 492.0h.9v.9h-.9zM127.1 492.3h.9v.9h-.9zM133.9 498.8h.9v.9h-.9zM121.0 486.6h.9v.9h-.9zM133.2 496.4h.9v.9h-.9zM120.2 494.4h.9v.9h-.9zM123.1 491.9h.9v.9h-.9zM122.6 498.6h.9v.9h-.9zM126.0 486.7h.9v.9h-.9zM124.0 489.3h.9v.9h-.9zM128.9 492.0h.9v.9h-.9zM126.5 498.7h.9v.9h-.9zM137.5 493.9h.9v.9h-.9zM128.4 491.8h.9v.9h-.9zM125.2 497.6h.9v.9h-.9zM128.3 493.3h.9v.9h-.9zM129.4 492.6h.9v.9h-.9zM125.5 494.1h.9v.9h-.9zM120.9 497.0h.9v.9h-.9zM127.3 490.6h.9v.9h-.9zM130.6 496.8h.9v.9h-.9zM128.9 494.8h.9v.9h-.9zM126.0 494.3h.9v.9h-.9zM129.3 502.4h.9v.9h-.9zM124.0 499.0h.9v.9h-.9zM127.7 498.6h.9v.9h-.9zM133.6 493.5h.9v.9h-.9zM132.0 491.7h.9v.9h-.9zM133.2 496.9h.9v.9h-.9zM124.6 494.3h.9v.9h-.9zM127.5 493.0h.9v.9h-.9zM121.4 498.6h.9v.9h-.9zM131.0 490.1h.9v.9h-.9zM124.3 492.3h.9v.9h-.9zM119.8 499.1h.9v.9h-.9zM123.9 495.2h.9v.9h-.9zM127.7 498.6h.9v.9h-.9zM115.4 491.8h.9v.9h-.9zM119.3 498.8h.9v.9h-.9zM131.4 492.4h.9v.9h-.9zM126.9 501.7h.9v.9h-.9zM126.2 499.2h.9v.9h-.9zM118.4 497.7h.9v.9h-.9zM134.4 502.5h.9v.9h-.9zM131.6 497.2h.9v.9h-.9zM129.9 492.8h.9v.9h-.9zM120.9 502.6h.9v.9h-.9zM129.3 497.2h.9v.9h-.9zM132.1 501.1h.9v.9h-.9zM124.8 496.3h.9v.9h-.9zM125.2 500.9h.9v.9h-.9zM124.1 491.8h.9v.9h-.9zM129.4 490.0h.9v.9h-.9zM125.2 489.3h.9v.9h-.9zM124.8 499.1h.9v.9h-.9zM119.1 486.8h.9v.9h-.9zM118.1 487.7h.9v.9h-.9zM131.1 489.3h.9v.9h-.9zM134.3 496.7h.9v.9h-.9zM130.7 497.6h.9v.9h-.9zM133.5 492.0h.9v.9h-.9zM123.7 499.2h.9v.9h-.9zM126.2 497.1h.9v.9h-.9zM128.3 501.1h.9v.9h-.9zM125.6 499.9h.9v.9h-.9zM134.8 492.6h.9v.9h-.9zM119.8 496.6h.9v.9h-.9zM123.5 495.0h.9v.9h-.9zM124.7 497.8h.9v.9h-.9zM122.9 496.6h.9v.9h-.9zM130.6 495.8h.9v.9h-.9zM116.4 498.9h.9v.9h-.9zM118.7 485.1h.9v.9h-.9zM120.7 475.9h.9v.9h-.9zM118.6 482.8h.9v.9h-.9zM118.0 482.3h.9v.9h-.9zM121.2 483.6h.9v.9h-.9zM121.3 473.0h.9v.9h-.9zM122.2 483.4h.9v.9h-.9zM120.4 481.3h.9v.9h-.9zM117.9 483.1h.9v.9h-.9zM119.1 482.8h.9v.9h-.9zM119.0 469.7h.9v.9h-.9zM113.2 488.0h.9v.9h-.9zM115.1 487.2h.9v.9h-.9zM123.1 470.5h.9v.9h-.9zM118.3 480.4h.9v.9h-.9zM110.0 474.4h.9v.9h-.9zM118.1 477.5h.9v.9h-.9zM119.0 489.1h.9v.9h-.9zM114.8 485.4h.9v.9h-.9zM125.3 496.9h.9v.9h-.9zM121.9 481.8h.9v.9h-.9zM120.9 472.1h.9v.9h-.9zM117.9 482.0h.9v.9h-.9zM119.9 461.6h.9v.9h-.9zM121.0 495.2h.9v.9h-.9zM141.2 466.2h.9v.9h-.9zM141.7 465.4h.9v.9h-.9zM140.8 462.1h.9v.9h-.9zM137.8 468.5h.9v.9h-.9zM140.0 471.1h.9v.9h-.9zM138.0 469.5h.9v.9h-.9zM138.8 460.6h.9v.9h-.9zM141.3 474.2h.9v.9h-.9zM136.7 474.3h.9v.9h-.9zM145.2 470.5h.9v.9h-.9zM137.1 464.1h.9v.9h-.9zM142.7 465.0h.9v.9h-.9zM138.3 481.7h.9v.9h-.9zM136.5 480.3h.9v.9h-.9zM141.4 472.9h.9v.9h-.9zM140.7 464.6h.9v.9h-.9zM139.5 477.6h.9v.9h-.9zM140.0 471.1h.9v.9h-.9zM138.3 480.0h.9v.9h-.9zM141.4 466.6h.9v.9h-.9zM138.7 472.8h.9v.9h-.9zM140.2 468.8h.9v.9h-.9zM143.5 474.5h.9v.9h-.9zM136.2 466.2h.9v.9h-.9zM138.4 475.5h.9v.9h-.9z" fill="#ee1218"/>
<rect x="108.5" y="502.1" width="38" height="1.5" fill="#f29a9a"/>
</g>
<rect x="66.5" y="408.6" width="92.6" height="95.5" fill="none" stroke="#333" stroke-width="1"/>
<path d="M66.5 459.2L159.1 459.2" stroke="#333" stroke-width="0.9" fill="none"/>
<path d="M121 407.5L125.5 407.5" stroke="#444" stroke-width="1" fill="none"/>
<path d="M69.8 504.1v3.7M72.0 504.1v3.7M73.8 504.1v3.7M75.4 504.1v3.7M76.7 504.1v3.7M77.9 504.1v3.7M85.8 504.1v3.7M89.8 504.1v3.7M92.6 504.1v3.7M94.8 504.1v3.7M96.6 504.1v3.7M98.2 504.1v3.7M99.5 504.1v3.7M100.7 504.1v3.7M108.6 504.1v3.7M112.6 504.1v3.7M115.4 504.1v3.7M117.6 504.1v3.7M119.4 504.1v3.7M121.0 504.1v3.7M122.3 504.1v3.7M123.5 504.1v3.7M131.4 504.1v3.7M135.4 504.1v3.7M138.2 504.1v3.7M140.4 504.1v3.7M142.2 504.1v3.7M143.8 504.1v3.7M145.1 504.1v3.7M146.3 504.1v3.7M154.2 504.1v3.7M158.2 504.1v3.7M161.0 504.1v3.7M66.5 411.4h-3M66.5 435.2h-3M66.5 431.0h-3M66.5 428.1h-3M66.5 425.8h-3M66.5 423.9h-3M66.5 422.3h-3M66.5 420.9h-3M66.5 419.7h-3M66.5 459.0h-3M66.5 454.8h-3M66.5 451.9h-3M66.5 449.6h-3M66.5 447.7h-3M66.5 446.1h-3M66.5 444.7h-3M66.5 443.5h-3M66.5 482.8h-3M66.5 478.6h-3M66.5 475.7h-3M66.5 473.4h-3M66.5 471.5h-3M66.5 469.9h-3M66.5 468.5h-3M66.5 467.3h-3M66.5 502.4h-3M66.5 499.5h-3M66.5 497.2h-3M66.5 495.3h-3M66.5 493.7h-3M66.5 492.3h-3M66.5 491.1h-3" stroke="#2a2a2a" stroke-width="0.85" fill="none"/>
<path d="M78.9 504.1v7.2M101.7 504.1v7.2M124.5 504.1v7.2M147.3 504.1v7.2M66.5 418.6h-6.4M66.5 442.4h-6.4M66.5 466.2h-6.4M66.5 490.0h-6.4" stroke="#555" stroke-width="0.8" fill="none"/>
<text x="78.9" y="518.2" font-size="6" font-weight="bold" fill="#2a2a2a" text-anchor="middle">10<tspan dy="-2.6" font-size="4">2</tspan></text>
<text x="59.9" y="489.5" font-size="6" font-weight="bold" fill="#2a2a2a" text-anchor="middle" transform="rotate(-90 59.9 489.5)">10<tspan dy="-2.6" font-size="4">2</tspan></text>
<text x="101.7" y="518.2" font-size="6" font-weight="bold" fill="#2a2a2a" text-anchor="middle">10<tspan dy="-2.6" font-size="4">3</tspan></text>
<text x="59.9" y="465.7" font-size="6" font-weight="bold" fill="#2a2a2a" text-anchor="middle" transform="rotate(-90 59.9 465.7)">10<tspan dy="-2.6" font-size="4">3</tspan></text>
<text x="124.8" y="518.2" font-size="6" font-weight="bold" fill="#2a2a2a" text-anchor="middle">10<tspan dy="-2.6" font-size="4">4</tspan></text>
<text x="59.9" y="441.9" font-size="6" font-weight="bold" fill="#2a2a2a" text-anchor="middle" transform="rotate(-90 59.9 441.9)">10<tspan dy="-2.6" font-size="4">4</tspan></text>
<text x="148.4" y="518.2" font-size="6" font-weight="bold" fill="#2a2a2a" text-anchor="middle">10<tspan dy="-2.6" font-size="4">5</tspan></text>
<text x="59.9" y="418.1" font-size="6" font-weight="bold" fill="#2a2a2a" text-anchor="middle" transform="rotate(-90 59.9 418.1)">10<tspan dy="-2.6" font-size="4">5</tspan></text>
<text x="72" y="426.8" font-size="13" fill="#3b3ba3" stroke="#3b3ba3" stroke-width="0.3">Vector</text>
<text x="134.5" y="480.8" font-size="5.6" fill="#222">Q3</text>
<text x="136.8" y="446.5" font-size="5.6" fill="#500">Q1</text>
<clipPath id="cf185"><rect x="185.7" y="409.6" width="89.8" height="96.1"/></clipPath>
<g clip-path="url(#cf185)">
<ellipse cx="257" cy="439.5" rx="13.95" ry="4.42" transform="rotate(-77 257 439.5)" fill="#ee1218" filter="url(#b05)"/>
<ellipse cx="253.3" cy="453" rx="6.98" ry="3.68" transform="rotate(-72 253.3 453)" fill="#ee1218" filter="url(#b05)"/>
<ellipse cx="244.5" cy="470" rx="12.09" ry="5.06" transform="rotate(-50 244.5 470)" fill="#ee1218" filter="url(#b05)"/>
<ellipse cx="239.8" cy="476.5" rx="5.58" ry="4.78" transform="rotate(-45 239.8 476.5)" fill="#ee1218" filter="url(#b05)"/>
<path d="M263.1 430.0h.9v.9h-.9zM259.4 450.3h.9v.9h-.9zM249.8 446.7h.9v.9h-.9zM257.8 425.5h.9v.9h-.9zM253.8 453.7h.9v.9h-.9zM259.3 447.8h.9v.9h-.9zM258.2 425.6h.9v.9h-.9zM251.9 439.3h.9v.9h-.9zM255.1 454.1h.9v.9h-.9zM250.9 447.5h.9v.9h-.9zM262.2 441.2h.9v.9h-.9zM253.6 454.6h.9v.9h-.9zM257.0 451.2h.9v.9h-.9zM263.0 440.4h.9v.9h-.9zM262.6 427.0h.9v.9h-.9zM262.3 438.5h.9v.9h-.9zM253.5 433.8h.9v.9h-.9zM251.9 437.2h.9v.9h-.9zM255.7 453.1h.9v.9h-.9zM256.3 427.9h.9v.9h-.9zM262.8 432.3h.9v.9h-.9zM251.8 439.9h.9v.9h-.9zM251.6 436.7h.9v.9h-.9zM261.8 427.0h.9v.9h-.9zM255.8 428.7h.9v.9h-.9zM251.6 435.1h.9v.9h-.9zM254.8 453.5h.9v.9h-.9zM253.2 456.7h.9v.9h-.9zM251.8 451.5h.9v.9h-.9zM254.0 455.8h.9v.9h-.9zM261.7 426.3h.9v.9h-.9zM255.8 454.7h.9v.9h-.9zM255.8 429.7h.9v.9h-.9zM252.7 453.5h.9v.9h-.9zM262.3 440.2h.9v.9h-.9zM257.3 425.5h.9v.9h-.9zM256.1 452.4h.9v.9h-.9zM262.9 434.4h.9v.9h-.9zM251.8 450.5h.9v.9h-.9zM262.4 434.0h.9v.9h-.9zM251.2 449.4h.9v.9h-.9zM250.3 446.0h.9v.9h-.9zM262.7 435.2h.9v.9h-.9zM260.3 447.2h.9v.9h-.9zM250.9 453.2h.9v.9h-.9zM263.9 437.3h.9v.9h-.9zM254.2 431.9h.9v.9h-.9zM251.6 440.2h.9v.9h-.9zM263.4 433.1h.9v.9h-.9zM252.0 450.6h.9v.9h-.9zM252.2 451.4h.9v.9h-.9zM257.9 450.3h.9v.9h-.9zM250.9 447.1h.9v.9h-.9zM255.9 454.2h.9v.9h-.9zM255.4 454.1h.9v.9h-.9zM257.2 453.4h.9v.9h-.9zM251.1 454.1h.9v.9h-.9zM260.8 423.4h.9v.9h-.9zM250.8 452.2h.9v.9h-.9zM263.1 428.8h.9v.9h-.9zM262.8 438.3h.9v.9h-.9zM254.1 433.0h.9v.9h-.9zM262.3 438.4h.9v.9h-.9zM251.2 449.6h.9v.9h-.9zM261.5 440.8h.9v.9h-.9zM260.1 425.4h.9v.9h-.9zM260.4 422.0h.9v.9h-.9zM259.4 447.8h.9v.9h-.9zM257.4 426.9h.9v.9h-.9zM257.4 424.9h.9v.9h-.9zM262.1 436.5h.9v.9h-.9zM258.0 452.2h.9v.9h-.9zM262.6 434.9h.9v.9h-.9zM262.5 438.5h.9v.9h-.9zM252.6 454.8h.9v.9h-.9zM253.7 453.5h.9v.9h-.9zM254.8 456.9h.9v.9h-.9zM262.2 436.1h.9v.9h-.9zM253.0 452.7h.9v.9h-.9zM258.9 423.4h.9v.9h-.9zM258.4 449.4h.9v.9h-.9zM251.3 444.2h.9v.9h-.9zM262.0 438.8h.9v.9h-.9zM252.7 438.3h.9v.9h-.9zM251.7 452.5h.9v.9h-.9zM257.7 425.6h.9v.9h-.9zM262.9 425.3h.9v.9h-.9zM251.3 446.6h.9v.9h-.9zM256.2 453.0h.9v.9h-.9zM258.0 449.6h.9v.9h-.9zM259.4 448.0h.9v.9h-.9zM257.1 426.1h.9v.9h-.9zM261.6 440.8h.9v.9h-.9zM251.6 448.1h.9v.9h-.9zM260.8 426.2h.9v.9h-.9zM259.4 423.6h.9v.9h-.9zM253.5 433.5h.9v.9h-.9zM250.5 444.7h.9v.9h-.9zM252.9 454.7h.9v.9h-.9zM258.4 449.4h.9v.9h-.9zM255.8 452.6h.9v.9h-.9zM250.1 447.9h.9v.9h-.9zM252.6 457.0h.9v.9h-.9zM256.8 427.0h.9v.9h-.9zM259.6 447.1h.9v.9h-.9zM255.4 426.8h.9v.9h-.9zM260.7 445.7h.9v.9h-.9zM262.9 431.1h.9v.9h-.9zM262.3 430.6h.9v.9h-.9zM261.4 442.1h.9v.9h-.9zM257.6 427.1h.9v.9h-.9zM253.8 434.1h.9v.9h-.9zM251.9 439.8h.9v.9h-.9zM260.0 445.3h.9v.9h-.9zM262.5 437.4h.9v.9h-.9zM258.3 449.6h.9v.9h-.9zM251.1 446.0h.9v.9h-.9zM263.4 431.9h.9v.9h-.9zM251.9 456.8h.9v.9h-.9zM258.1 449.9h.9v.9h-.9zM252.8 437.6h.9v.9h-.9zM249.9 449.7h.9v.9h-.9zM265.2 428.3h.9v.9h-.9zM260.0 445.7h.9v.9h-.9zM253.8 433.1h.9v.9h-.9zM256.5 427.0h.9v.9h-.9zM253.6 453.0h.9v.9h-.9zM254.6 432.3h.9v.9h-.9zM262.3 437.0h.9v.9h-.9zM256.8 451.5h.9v.9h-.9zM250.8 448.4h.9v.9h-.9zM261.2 425.0h.9v.9h-.9zM252.6 454.5h.9v.9h-.9zM255.4 430.1h.9v.9h-.9zM262.4 436.9h.9v.9h-.9zM260.5 426.0h.9v.9h-.9zM251.3 447.3h.9v.9h-.9zM250.8 447.0h.9v.9h-.9zM262.1 439.9h.9v.9h-.9zM259.7 447.7h.9v.9h-.9zM258.9 448.4h.9v.9h-.9zM263.2 425.1h.9v.9h-.9zM252.4 439.0h.9v.9h-.9zM262.2 437.3h.9v.9h-.9zM252.7 436.3h.9v.9h-.9zM250.1 448.6h.9v.9h-.9zM262.3 429.0h.9v.9h-.9zM252.6 438.7h.9v.9h-.9zM262.8 431.1h.9v.9h-.9zM251.0 446.9h.9v.9h-.9zM262.6 426.1h.9v.9h-.9zM252.1 451.2h.9v.9h-.9zM255.4 453.6h.9v.9h-.9zM252.7 454.8h.9v.9h-.9zM252.6 438.6h.9v.9h-.9zM251.9 439.5h.9v.9h-.9zM261.9 424.8h.9v.9h-.9zM262.7 432.9h.9v.9h-.9zM260.1 423.7h.9v.9h-.9zM255.5 454.1h.9v.9h-.9zM254.4 432.3h.9v.9h-.9zM251.7 454.9h.9v.9h-.9zM252.9 436.3h.9v.9h-.9zM262.1 426.6h.9v.9h-.9zM253.6 454.1h.9v.9h-.9zM252.1 438.1h.9v.9h-.9zM256.5 451.9h.9v.9h-.9zM251.7 441.6h.9v.9h-.9zM254.7 431.7h.9v.9h-.9zM253.3 431.1h.9v.9h-.9zM262.8 436.3h.9v.9h-.9zM257.3 425.9h.9v.9h-.9zM251.3 452.8h.9v.9h-.9zM262.7 434.4h.9v.9h-.9zM252.9 433.9h.9v.9h-.9zM262.0 441.1h.9v.9h-.9zM259.8 449.5h.9v.9h-.9zM256.4 453.9h.9v.9h-.9zM253.2 455.1h.9v.9h-.9zM262.6 433.7h.9v.9h-.9zM255.0 429.0h.9v.9h-.9zM254.0 431.7h.9v.9h-.9zM260.2 445.5h.9v.9h-.9zM260.4 419.4h.9v.9h-.9zM262.6 424.0h.9v.9h-.9zM262.9 429.2h.9v.9h-.9zM252.7 437.0h.9v.9h-.9zM262.3 439.9h.9v.9h-.9zM262.6 436.6h.9v.9h-.9zM261.1 424.7h.9v.9h-.9zM259.7 448.2h.9v.9h-.9zM262.0 427.3h.9v.9h-.9zM250.4 449.5h.9v.9h-.9zM260.9 423.6h.9v.9h-.9zM255.5 455.6h.9v.9h-.9zM256.4 426.4h.9v.9h-.9zM250.5 456.7h.9v.9h-.9zM260.0 449.1h.9v.9h-.9zM263.0 427.9h.9v.9h-.9zM259.0 424.8h.9v.9h-.9zM261.3 423.7h.9v.9h-.9zM253.1 456.4h.9v.9h-.9zM258.2 451.1h.9v.9h-.9zM253.0 436.8h.9v.9h-.9zM251.1 452.5h.9v.9h-.9zM258.3 426.0h.9v.9h-.9zM259.0 423.7h.9v.9h-.9zM252.1 440.5h.9v.9h-.9zM254.5 453.2h.9v.9h-.9zM252.7 453.7h.9v.9h-.9zM257.7 426.7h.9v.9h-.9zM251.9 439.7h.9v.9h-.9zM252.7 438.6h.9v.9h-.9zM258.9 420.7h.9v.9h-.9zM257.9 450.1h.9v.9h-.9zM254.3 430.5h.9v.9h-.9zM252.4 438.1h.9v.9h-.9zM257.6 452.2h.9v.9h-.9zM251.6 437.7h.9v.9h-.9zM263.3 427.2h.9v.9h-.9zM260.9 424.8h.9v.9h-.9zM256.1 428.8h.9v.9h-.9zM259.6 425.4h.9v.9h-.9zM255.8 453.7h.9v.9h-.9zM257.3 450.6h.9v.9h-.9zM262.9 438.2h.9v.9h-.9zM258.3 425.4h.9v.9h-.9zM262.5 442.0h.9v.9h-.9zM251.3 447.4h.9v.9h-.9zM254.2 432.8h.9v.9h-.9zM255.0 455.0h.9v.9h-.9zM259.2 424.0h.9v.9h-.9zM258.3 451.1h.9v.9h-.9zM252.9 436.0h.9v.9h-.9zM262.4 437.2h.9v.9h-.9zM253.7 457.0h.9v.9h-.9zM251.8 443.0h.9v.9h-.9zM261.9 440.9h.9v.9h-.9zM254.5 430.7h.9v.9h-.9zM258.5 425.0h.9v.9h-.9zM260.4 443.8h.9v.9h-.9zM254.0 453.2h.9v.9h-.9zM260.9 424.8h.9v.9h-.9zM256.8 455.3h.9v.9h-.9zM251.9 450.2h.9v.9h-.9zM263.5 431.8h.9v.9h-.9zM259.8 424.5h.9v.9h-.9zM262.7 433.8h.9v.9h-.9zM253.6 453.6h.9v.9h-.9zM260.8 424.3h.9v.9h-.9zM260.6 445.1h.9v.9h-.9zM253.6 433.4h.9v.9h-.9zM256.7 451.9h.9v.9h-.9zM255.5 429.8h.9v.9h-.9zM254.1 432.1h.9v.9h-.9zM255.7 453.8h.9v.9h-.9zM262.7 432.3h.9v.9h-.9zM253.4 432.1h.9v.9h-.9zM257.7 426.4h.9v.9h-.9zM261.5 440.0h.9v.9h-.9zM262.2 426.7h.9v.9h-.9zM255.2 431.0h.9v.9h-.9zM251.8 449.6h.9v.9h-.9zM261.7 441.6h.9v.9h-.9zM262.9 433.4h.9v.9h-.9zM253.5 455.1h.9v.9h-.9zM258.1 423.9h.9v.9h-.9zM263.9 431.8h.9v.9h-.9zM252.1 440.9h.9v.9h-.9zM261.8 440.9h.9v.9h-.9zM251.0 452.6h.9v.9h-.9zM255.2 455.0h.9v.9h-.9zM251.5 453.7h.9v.9h-.9zM264.1 428.5h.9v.9h-.9zM255.5 428.0h.9v.9h-.9zM259.9 425.1h.9v.9h-.9zM253.3 456.0h.9v.9h-.9zM256.9 452.8h.9v.9h-.9zM253.6 435.1h.9v.9h-.9zM262.7 433.2h.9v.9h-.9zM262.5 425.5h.9v.9h-.9zM251.8 441.5h.9v.9h-.9zM252.0 454.6h.9v.9h-.9zM251.2 448.8h.9v.9h-.9zM260.9 426.2h.9v.9h-.9zM255.6 428.4h.9v.9h-.9zM251.6 445.4h.9v.9h-.9zM262.9 428.4h.9v.9h-.9zM249.3 448.7h.9v.9h-.9zM259.8 424.5h.9v.9h-.9zM261.5 441.3h.9v.9h-.9zM258.7 424.0h.9v.9h-.9zM259.4 423.0h.9v.9h-.9zM255.0 430.8h.9v.9h-.9zM253.9 454.4h.9v.9h-.9zM255.3 453.8h.9v.9h-.9zM258.3 449.4h.9v.9h-.9zM253.1 435.0h.9v.9h-.9zM264.0 430.2h.9v.9h-.9zM251.7 456.9h.9v.9h-.9zM252.7 452.5h.9v.9h-.9zM258.4 423.0h.9v.9h-.9zM257.4 424.3h.9v.9h-.9zM254.0 455.1h.9v.9h-.9zM251.3 451.3h.9v.9h-.9zM251.8 442.3h.9v.9h-.9zM251.5 456.4h.9v.9h-.9zM260.8 443.5h.9v.9h-.9zM262.7 432.5h.9v.9h-.9zM251.5 454.2h.9v.9h-.9zM255.7 453.3h.9v.9h-.9zM261.1 442.4h.9v.9h-.9zM258.9 448.5h.9v.9h-.9zM261.2 426.6h.9v.9h-.9zM250.5 457.8h.9v.9h-.9zM263.0 424.9h.9v.9h-.9zM262.6 428.6h.9v.9h-.9zM252.0 435.8h.9v.9h-.9zM263.1 427.8h.9v.9h-.9zM251.7 443.1h.9v.9h-.9zM254.1 453.2h.9v.9h-.9zM261.5 439.9h.9v.9h-.9zM250.6 455.6h.9v.9h-.9zM252.7 455.1h.9v.9h-.9zM257.4 424.7h.9v.9h-.9zM259.1 426.0h.9v.9h-.9zM254.4 456.1h.9v.9h-.9zM258.3 450.0h.9v.9h-.9zM252.0 450.9h.9v.9h-.9zM264.2 426.0h.9v.9h-.9zM252.8 454.1h.9v.9h-.9zM262.5 428.2h.9v.9h-.9zM261.0 442.9h.9v.9h-.9zM252.6 437.7h.9v.9h-.9zM252.3 436.2h.9v.9h-.9zM254.4 453.7h.9v.9h-.9zM259.2 425.6h.9v.9h-.9zM264.0 430.2h.9v.9h-.9zM256.9 456.4h.9v.9h-.9zM253.7 446.5h.9v.9h-.9zM250.9 459.6h.9v.9h-.9zM256.5 457.3h.9v.9h-.9zM249.2 452.3h.9v.9h-.9zM257.8 453.7h.9v.9h-.9zM258.8 455.2h.9v.9h-.9zM253.8 444.1h.9v.9h-.9zM252.6 445.0h.9v.9h-.9zM259.5 450.0h.9v.9h-.9zM257.5 447.8h.9v.9h-.9zM252.3 446.0h.9v.9h-.9zM252.8 459.7h.9v.9h-.9zM250.1 451.0h.9v.9h-.9zM255.0 458.0h.9v.9h-.9zM256.9 446.8h.9v.9h-.9zM258.0 448.4h.9v.9h-.9zM251.4 462.1h.9v.9h-.9zM248.3 451.7h.9v.9h-.9zM253.3 446.3h.9v.9h-.9zM255.9 456.8h.9v.9h-.9zM253.0 460.0h.9v.9h-.9zM248.8 453.5h.9v.9h-.9zM248.2 454.7h.9v.9h-.9zM249.4 449.8h.9v.9h-.9zM249.0 451.7h.9v.9h-.9zM250.0 460.6h.9v.9h-.9zM249.4 451.4h.9v.9h-.9zM252.4 460.0h.9v.9h-.9zM249.5 450.1h.9v.9h-.9zM251.9 460.8h.9v.9h-.9zM257.6 448.1h.9v.9h-.9zM250.7 449.3h.9v.9h-.9zM257.5 450.3h.9v.9h-.9zM249.7 460.2h.9v.9h-.9zM249.3 452.5h.9v.9h-.9zM249.0 456.9h.9v.9h-.9zM249.3 459.9h.9v.9h-.9zM255.2 445.0h.9v.9h-.9zM257.1 455.0h.9v.9h-.9zM251.1 459.7h.9v.9h-.9zM249.4 452.1h.9v.9h-.9zM255.4 444.9h.9v.9h-.9zM257.7 453.7h.9v.9h-.9zM256.6 445.7h.9v.9h-.9zM250.5 449.2h.9v.9h-.9zM248.8 456.5h.9v.9h-.9zM252.4 460.0h.9v.9h-.9zM253.3 445.8h.9v.9h-.9zM255.2 445.3h.9v.9h-.9zM254.6 459.8h.9v.9h-.9zM253.0 459.5h.9v.9h-.9zM249.9 459.0h.9v.9h-.9zM254.0 458.8h.9v.9h-.9zM252.4 460.6h.9v.9h-.9zM257.4 453.6h.9v.9h-.9zM251.0 447.8h.9v.9h-.9zM252.1 462.2h.9v.9h-.9zM253.1 446.2h.9v.9h-.9zM250.7 448.4h.9v.9h-.9zM251.1 460.1h.9v.9h-.9zM258.3 451.8h.9v.9h-.9zM256.0 445.8h.9v.9h-.9zM256.4 455.4h.9v.9h-.9zM250.8 449.4h.9v.9h-.9zM249.7 459.5h.9v.9h-.9zM249.6 450.7h.9v.9h-.9zM257.3 448.0h.9v.9h-.9zM249.5 451.5h.9v.9h-.9zM255.3 445.9h.9v.9h-.9zM256.2 446.2h.9v.9h-.9zM257.4 449.4h.9v.9h-.9zM251.6 447.2h.9v.9h-.9zM254.2 459.3h.9v.9h-.9zM256.0 457.8h.9v.9h-.9zM251.2 446.7h.9v.9h-.9zM252.5 447.2h.9v.9h-.9zM255.4 446.1h.9v.9h-.9zM257.3 454.3h.9v.9h-.9zM248.6 459.9h.9v.9h-.9zM258.0 447.1h.9v.9h-.9zM250.0 462.5h.9v.9h-.9zM251.4 448.4h.9v.9h-.9zM256.0 458.8h.9v.9h-.9zM250.8 459.8h.9v.9h-.9zM248.6 455.7h.9v.9h-.9zM257.5 446.3h.9v.9h-.9zM256.5 456.0h.9v.9h-.9zM254.7 459.5h.9v.9h-.9zM253.4 446.3h.9v.9h-.9zM248.8 454.3h.9v.9h-.9zM249.1 457.2h.9v.9h-.9zM258.5 454.0h.9v.9h-.9zM251.5 447.0h.9v.9h-.9zM257.3 453.1h.9v.9h-.9zM249.7 450.8h.9v.9h-.9zM256.9 455.4h.9v.9h-.9zM254.3 446.0h.9v.9h-.9zM256.6 447.0h.9v.9h-.9zM257.5 448.4h.9v.9h-.9zM252.8 447.0h.9v.9h-.9zM257.8 450.4h.9v.9h-.9zM249.4 458.4h.9v.9h-.9zM254.8 458.7h.9v.9h-.9zM249.6 458.6h.9v.9h-.9zM249.0 457.7h.9v.9h-.9zM251.6 460.4h.9v.9h-.9zM250.9 460.6h.9v.9h-.9zM249.4 452.4h.9v.9h-.9zM257.8 451.2h.9v.9h-.9zM249.1 454.0h.9v.9h-.9zM256.3 446.2h.9v.9h-.9zM249.9 449.8h.9v.9h-.9zM253.5 461.0h.9v.9h-.9zM248.8 454.9h.9v.9h-.9zM257.7 449.8h.9v.9h-.9zM254.7 445.3h.9v.9h-.9zM253.6 446.6h.9v.9h-.9zM252.3 447.1h.9v.9h-.9zM250.2 448.1h.9v.9h-.9zM249.1 451.6h.9v.9h-.9zM255.9 446.5h.9v.9h-.9zM251.8 460.2h.9v.9h-.9zM258.3 452.2h.9v.9h-.9zM257.0 447.3h.9v.9h-.9zM248.3 454.4h.9v.9h-.9zM255.8 444.6h.9v.9h-.9zM255.1 445.2h.9v.9h-.9zM253.9 459.8h.9v.9h-.9zM257.1 453.3h.9v.9h-.9zM249.4 457.7h.9v.9h-.9zM257.4 449.4h.9v.9h-.9zM250.7 448.7h.9v.9h-.9zM252.8 446.2h.9v.9h-.9zM247.6 459.2h.9v.9h-.9zM252.3 445.6h.9v.9h-.9zM258.2 451.9h.9v.9h-.9zM252.3 446.3h.9v.9h-.9zM255.6 456.9h.9v.9h-.9zM250.3 461.3h.9v.9h-.9zM253.6 445.4h.9v.9h-.9zM253.0 458.9h.9v.9h-.9zM242.3 464.1h.9v.9h-.9zM235.8 477.6h.9v.9h-.9zM234.6 481.0h.9v.9h-.9zM234.4 476.2h.9v.9h-.9zM254.7 459.3h.9v.9h-.9zM254.5 462.6h.9v.9h-.9zM236.6 473.0h.9v.9h-.9zM237.2 471.5h.9v.9h-.9zM248.0 460.8h.9v.9h-.9zM236.1 474.8h.9v.9h-.9zM240.1 467.1h.9v.9h-.9zM234.0 478.7h.9v.9h-.9zM240.2 480.0h.9v.9h-.9zM236.5 482.1h.9v.9h-.9zM251.1 459.8h.9v.9h-.9zM251.6 457.3h.9v.9h-.9zM247.7 460.9h.9v.9h-.9zM235.3 477.2h.9v.9h-.9zM251.5 471.4h.9v.9h-.9zM253.8 462.9h.9v.9h-.9zM249.4 459.6h.9v.9h-.9zM254.4 463.7h.9v.9h-.9zM242.7 478.6h.9v.9h-.9zM243.8 461.8h.9v.9h-.9zM250.9 470.7h.9v.9h-.9zM242.9 463.6h.9v.9h-.9zM249.3 472.7h.9v.9h-.9zM242.0 463.9h.9v.9h-.9zM238.5 469.0h.9v.9h-.9zM246.6 475.3h.9v.9h-.9zM243.7 478.6h.9v.9h-.9zM242.1 479.5h.9v.9h-.9zM232.6 479.1h.9v.9h-.9zM249.4 459.2h.9v.9h-.9zM235.2 478.7h.9v.9h-.9zM239.2 480.6h.9v.9h-.9zM240.6 480.1h.9v.9h-.9zM252.3 468.6h.9v.9h-.9zM236.3 471.9h.9v.9h-.9zM236.1 480.3h.9v.9h-.9zM249.0 458.9h.9v.9h-.9zM234.7 480.7h.9v.9h-.9zM251.2 459.8h.9v.9h-.9zM238.6 480.0h.9v.9h-.9zM236.3 479.0h.9v.9h-.9zM252.1 469.0h.9v.9h-.9zM242.4 463.9h.9v.9h-.9zM253.3 460.9h.9v.9h-.9zM252.8 468.7h.9v.9h-.9zM245.1 478.3h.9v.9h-.9zM245.4 462.0h.9v.9h-.9zM235.7 475.2h.9v.9h-.9zM245.6 477.7h.9v.9h-.9zM249.3 460.2h.9v.9h-.9zM244.9 462.3h.9v.9h-.9zM254.7 459.7h.9v.9h-.9zM248.9 472.9h.9v.9h-.9zM237.9 469.9h.9v.9h-.9zM247.1 460.8h.9v.9h-.9zM240.1 467.1h.9v.9h-.9zM247.8 460.8h.9v.9h-.9zM253.8 465.2h.9v.9h-.9zM254.5 458.6h.9v.9h-.9zM238.2 480.5h.9v.9h-.9zM253.8 462.2h.9v.9h-.9zM236.1 472.4h.9v.9h-.9zM249.6 459.7h.9v.9h-.9zM238.9 481.1h.9v.9h-.9zM235.7 476.7h.9v.9h-.9zM241.1 479.2h.9v.9h-.9zM252.5 467.9h.9v.9h-.9zM253.6 465.0h.9v.9h-.9zM237.1 468.4h.9v.9h-.9zM249.1 459.6h.9v.9h-.9zM242.2 478.9h.9v.9h-.9zM254.7 465.4h.9v.9h-.9zM244.9 461.3h.9v.9h-.9zM247.8 474.0h.9v.9h-.9zM240.9 464.9h.9v.9h-.9zM236.2 472.9h.9v.9h-.9zM245.3 477.1h.9v.9h-.9zM236.4 479.1h.9v.9h-.9zM242.0 478.9h.9v.9h-.9zM255.0 464.6h.9v.9h-.9zM251.3 472.3h.9v.9h-.9zM235.3 477.3h.9v.9h-.9zM242.0 464.8h.9v.9h-.9zM254.9 462.8h.9v.9h-.9zM250.8 470.2h.9v.9h-.9zM253.6 459.7h.9v.9h-.9zM251.9 460.4h.9v.9h-.9zM254.3 463.9h.9v.9h-.9zM241.3 479.7h.9v.9h-.9zM253.5 462.1h.9v.9h-.9zM235.8 480.3h.9v.9h-.9zM235.5 474.3h.9v.9h-.9zM235.6 479.4h.9v.9h-.9zM236.8 471.3h.9v.9h-.9zM251.1 471.4h.9v.9h-.9zM249.4 459.9h.9v.9h-.9zM240.7 464.5h.9v.9h-.9zM251.0 469.6h.9v.9h-.9zM237.6 480.7h.9v.9h-.9zM256.1 457.5h.9v.9h-.9zM244.8 462.6h.9v.9h-.9zM248.5 460.1h.9v.9h-.9zM235.6 479.4h.9v.9h-.9zM242.3 479.7h.9v.9h-.9zM243.1 463.7h.9v.9h-.9zM242.7 478.7h.9v.9h-.9zM253.7 461.5h.9v.9h-.9zM236.8 472.0h.9v.9h-.9zM239.6 480.9h.9v.9h-.9zM253.5 459.1h.9v.9h-.9zM233.7 482.0h.9v.9h-.9zM253.2 465.1h.9v.9h-.9zM242.3 464.6h.9v.9h-.9zM251.2 460.0h.9v.9h-.9zM254.9 464.4h.9v.9h-.9zM244.7 477.5h.9v.9h-.9zM237.1 479.6h.9v.9h-.9zM237.6 469.2h.9v.9h-.9zM238.1 469.5h.9v.9h-.9zM235.9 474.5h.9v.9h-.9zM246.7 461.3h.9v.9h-.9zM239.8 467.4h.9v.9h-.9zM253.1 460.9h.9v.9h-.9zM252.8 458.4h.9v.9h-.9zM244.8 461.9h.9v.9h-.9zM236.0 471.6h.9v.9h-.9zM242.0 464.0h.9v.9h-.9zM244.6 461.6h.9v.9h-.9zM255.2 460.2h.9v.9h-.9zM236.3 473.7h.9v.9h-.9zM253.3 466.3h.9v.9h-.9zM248.8 474.5h.9v.9h-.9zM244.3 462.3h.9v.9h-.9zM235.4 478.4h.9v.9h-.9zM246.0 477.2h.9v.9h-.9zM251.9 469.6h.9v.9h-.9zM235.5 482.0h.9v.9h-.9zM253.3 464.6h.9v.9h-.9zM241.0 479.9h.9v.9h-.9zM246.6 460.7h.9v.9h-.9zM241.2 481.2h.9v.9h-.9zM235.8 479.5h.9v.9h-.9zM251.1 459.5h.9v.9h-.9zM242.0 479.9h.9v.9h-.9zM247.2 475.2h.9v.9h-.9zM238.7 481.7h.9v.9h-.9zM240.7 480.0h.9v.9h-.9zM251.7 459.3h.9v.9h-.9zM253.9 459.6h.9v.9h-.9zM253.1 466.9h.9v.9h-.9zM242.3 464.8h.9v.9h-.9zM252.4 460.7h.9v.9h-.9zM237.5 482.1h.9v.9h-.9zM238.0 470.0h.9v.9h-.9zM254.3 461.4h.9v.9h-.9zM244.9 478.1h.9v.9h-.9zM247.1 475.3h.9v.9h-.9zM234.3 481.4h.9v.9h-.9zM235.5 474.8h.9v.9h-.9zM240.9 465.7h.9v.9h-.9zM254.0 463.6h.9v.9h-.9zM248.7 472.9h.9v.9h-.9zM241.0 466.2h.9v.9h-.9zM247.2 461.1h.9v.9h-.9zM244.5 477.6h.9v.9h-.9zM253.4 462.3h.9v.9h-.9zM254.6 465.6h.9v.9h-.9zM242.5 463.8h.9v.9h-.9zM252.9 466.0h.9v.9h-.9zM250.3 471.2h.9v.9h-.9zM252.7 469.6h.9v.9h-.9zM239.3 480.8h.9v.9h-.9zM234.8 474.0h.9v.9h-.9zM252.6 466.4h.9v.9h-.9zM235.9 481.9h.9v.9h-.9zM251.0 458.1h.9v.9h-.9zM236.7 479.6h.9v.9h-.9zM236.3 480.4h.9v.9h-.9zM239.4 467.5h.9v.9h-.9zM231.8 481.1h.9v.9h-.9zM236.6 483.1h.9v.9h-.9zM245.7 460.5h.9v.9h-.9zM252.9 466.4h.9v.9h-.9zM250.8 470.6h.9v.9h-.9zM254.0 457.9h.9v.9h-.9zM248.2 474.7h.9v.9h-.9zM254.6 462.3h.9v.9h-.9zM252.2 467.9h.9v.9h-.9zM251.9 457.9h.9v.9h-.9zM253.3 469.0h.9v.9h-.9zM235.3 479.3h.9v.9h-.9zM239.7 467.6h.9v.9h-.9zM254.2 459.9h.9v.9h-.9zM247.0 475.7h.9v.9h-.9zM238.3 466.8h.9v.9h-.9zM247.2 474.6h.9v.9h-.9zM242.8 478.3h.9v.9h-.9zM235.2 477.9h.9v.9h-.9zM243.0 462.4h.9v.9h-.9zM245.1 477.2h.9v.9h-.9zM252.4 467.8h.9v.9h-.9zM253.1 461.1h.9v.9h-.9zM247.6 475.5h.9v.9h-.9zM236.1 472.1h.9v.9h-.9zM249.1 460.4h.9v.9h-.9zM235.6 480.4h.9v.9h-.9zM252.7 466.8h.9v.9h-.9zM236.2 474.5h.9v.9h-.9zM255.3 462.7h.9v.9h-.9zM253.6 465.6h.9v.9h-.9zM254.2 465.8h.9v.9h-.9zM249.9 459.9h.9v.9h-.9zM235.2 475.1h.9v.9h-.9zM253.1 460.2h.9v.9h-.9zM250.7 458.8h.9v.9h-.9zM240.7 480.1h.9v.9h-.9zM253.1 467.8h.9v.9h-.9zM235.7 471.5h.9v.9h-.9zM234.7 480.9h.9v.9h-.9zM235.9 474.4h.9v.9h-.9zM238.1 480.7h.9v.9h-.9zM250.2 471.6h.9v.9h-.9zM254.1 458.9h.9v.9h-.9zM236.2 472.5h.9v.9h-.9zM236.2 480.9h.9v.9h-.9zM239.0 480.1h.9v.9h-.9zM232.1 476.8h.9v.9h-.9zM235.2 481.2h.9v.9h-.9zM249.4 460.2h.9v.9h-.9zM239.5 467.8h.9v.9h-.9zM250.5 458.9h.9v.9h-.9zM249.6 472.5h.9v.9h-.9zM234.2 475.5h.9v.9h-.9zM248.9 460.4h.9v.9h-.9zM241.5 465.6h.9v.9h-.9zM240.6 480.4h.9v.9h-.9zM239.6 466.9h.9v.9h-.9zM235.6 476.6h.9v.9h-.9zM246.2 476.8h.9v.9h-.9zM239.2 467.0h.9v.9h-.9zM254.6 463.4h.9v.9h-.9zM255.0 463.0h.9v.9h-.9zM252.1 470.0h.9v.9h-.9zM253.2 466.9h.9v.9h-.9zM247.1 460.9h.9v.9h-.9zM250.0 472.4h.9v.9h-.9zM252.8 458.5h.9v.9h-.9zM253.9 461.2h.9v.9h-.9zM255.4 461.4h.9v.9h-.9zM239.4 480.0h.9v.9h-.9zM235.9 474.6h.9v.9h-.9zM235.7 474.2h.9v.9h-.9zM256.2 463.2h.9v.9h-.9zM234.6 480.1h.9v.9h-.9zM252.1 469.1h.9v.9h-.9zM248.8 472.8h.9v.9h-.9zM249.8 474.2h.9v.9h-.9zM248.0 475.4h.9v.9h-.9zM247.2 460.3h.9v.9h-.9zM243.4 463.9h.9v.9h-.9zM252.9 467.2h.9v.9h-.9zM235.2 471.0h.9v.9h-.9zM250.1 472.4h.9v.9h-.9zM253.0 460.7h.9v.9h-.9zM253.3 462.8h.9v.9h-.9zM240.1 466.1h.9v.9h-.9zM237.3 471.2h.9v.9h-.9zM234.1 480.5h.9v.9h-.9zM253.4 465.7h.9v.9h-.9zM243.0 462.7h.9v.9h-.9zM236.4 479.2h.9v.9h-.9zM234.1 478.1h.9v.9h-.9zM244.0 459.2h.9v.9h-.9zM246.0 477.7h.9v.9h-.9zM245.2 477.0h.9v.9h-.9zM253.4 464.3h.9v.9h-.9zM243.9 478.4h.9v.9h-.9zM243.9 462.2h.9v.9h-.9zM236.1 474.4h.9v.9h-.9zM248.0 474.5h.9v.9h-.9zM247.2 474.7h.9v.9h-.9zM235.2 473.3h.9v.9h-.9zM245.9 461.1h.9v.9h-.9zM239.9 479.8h.9v.9h-.9zM254.3 458.4h.9v.9h-.9zM250.9 459.7h.9v.9h-.9zM247.9 460.1h.9v.9h-.9zM232.3 475.9h.9v.9h-.9zM253.7 461.2h.9v.9h-.9zM237.9 480.6h.9v.9h-.9zM246.2 475.9h.9v.9h-.9zM255.3 462.1h.9v.9h-.9zM239.9 480.2h.9v.9h-.9zM234.6 481.2h.9v.9h-.9zM236.2 479.5h.9v.9h-.9zM247.1 475.5h.9v.9h-.9zM249.6 473.9h.9v.9h-.9zM244.0 463.1h.9v.9h-.9zM253.6 464.5h.9v.9h-.9zM234.8 479.9h.9v.9h-.9zM233.3 479.8h.9v.9h-.9zM251.8 468.8h.9v.9h-.9zM254.8 459.1h.9v.9h-.9zM236.2 479.8h.9v.9h-.9zM234.4 479.7h.9v.9h-.9zM253.3 467.1h.9v.9h-.9zM253.4 459.6h.9v.9h-.9zM235.9 479.1h.9v.9h-.9zM254.2 459.5h.9v.9h-.9zM239.4 480.2h.9v.9h-.9zM241.0 464.7h.9v.9h-.9zM245.8 460.6h.9v.9h-.9zM235.4 476.8h.9v.9h-.9zM234.0 476.6h.9v.9h-.9zM253.5 466.1h.9v.9h-.9zM236.1 479.8h.9v.9h-.9zM249.0 472.8h.9v.9h-.9zM244.6 462.2h.9v.9h-.9zM241.1 479.5h.9v.9h-.9zM233.2 475.8h.9v.9h-.9zM240.8 465.9h.9v.9h-.9zM237.9 481.4h.9v.9h-.9zM250.5 459.4h.9v.9h-.9zM234.8 479.9h.9v.9h-.9zM247.5 475.1h.9v.9h-.9zM247.0 459.0h.9v.9h-.9zM236.5 471.9h.9v.9h-.9zM254.3 459.1h.9v.9h-.9zM248.1 473.9h.9v.9h-.9zM240.0 465.2h.9v.9h-.9zM236.2 472.4h.9v.9h-.9zM240.0 470.8h.9v.9h-.9zM240.4 481.8h.9v.9h-.9zM243.6 470.1h.9v.9h-.9zM234.7 481.1h.9v.9h-.9zM238.4 483.0h.9v.9h-.9zM245.5 472.7h.9v.9h-.9zM240.8 481.6h.9v.9h-.9zM239.5 470.7h.9v.9h-.9zM235.5 473.8h.9v.9h-.9zM242.0 471.2h.9v.9h-.9zM244.8 472.9h.9v.9h-.9zM237.3 471.8h.9v.9h-.9zM234.9 479.9h.9v.9h-.9zM242.9 470.5h.9v.9h-.9zM236.5 472.9h.9v.9h-.9zM234.9 480.5h.9v.9h-.9zM233.4 475.8h.9v.9h-.9zM243.8 470.5h.9v.9h-.9zM246.1 474.5h.9v.9h-.9zM245.5 479.3h.9v.9h-.9zM238.1 481.7h.9v.9h-.9zM241.8 481.3h.9v.9h-.9zM233.9 479.5h.9v.9h-.9zM234.2 477.7h.9v.9h-.9zM234.7 475.1h.9v.9h-.9zM244.0 472.7h.9v.9h-.9zM240.0 469.3h.9v.9h-.9zM244.5 478.3h.9v.9h-.9zM246.3 474.5h.9v.9h-.9zM238.1 471.9h.9v.9h-.9zM243.9 479.2h.9v.9h-.9zM242.9 480.8h.9v.9h-.9zM241.7 482.5h.9v.9h-.9zM244.0 479.4h.9v.9h-.9zM234.6 474.8h.9v.9h-.9zM244.9 477.9h.9v.9h-.9zM240.1 470.5h.9v.9h-.9zM233.5 480.1h.9v.9h-.9zM236.6 472.1h.9v.9h-.9zM241.9 469.6h.9v.9h-.9zM241.4 471.3h.9v.9h-.9zM234.4 477.4h.9v.9h-.9zM234.7 473.9h.9v.9h-.9zM243.2 480.3h.9v.9h-.9zM240.7 481.7h.9v.9h-.9zM235.1 481.2h.9v.9h-.9zM240.5 481.8h.9v.9h-.9zM235.8 481.3h.9v.9h-.9zM237.0 481.7h.9v.9h-.9zM235.8 481.8h.9v.9h-.9zM238.3 482.1h.9v.9h-.9zM244.9 479.0h.9v.9h-.9zM235.3 474.1h.9v.9h-.9zM244.2 479.5h.9v.9h-.9zM245.9 478.0h.9v.9h-.9zM244.0 479.5h.9v.9h-.9zM234.8 479.8h.9v.9h-.9zM244.4 473.2h.9v.9h-.9zM234.3 475.7h.9v.9h-.9zM241.9 481.4h.9v.9h-.9zM242.3 481.5h.9v.9h-.9zM234.3 475.7h.9v.9h-.9zM237.0 472.2h.9v.9h-.9zM245.8 476.4h.9v.9h-.9zM234.4 476.0h.9v.9h-.9zM244.7 472.3h.9v.9h-.9zM244.2 471.7h.9v.9h-.9zM244.8 479.3h.9v.9h-.9zM238.0 482.1h.9v.9h-.9zM237.2 481.6h.9v.9h-.9zM242.0 482.0h.9v.9h-.9zM239.2 471.0h.9v.9h-.9zM243.7 472.4h.9v.9h-.9zM245.0 477.7h.9v.9h-.9zM246.3 475.7h.9v.9h-.9zM244.1 480.2h.9v.9h-.9zM239.6 482.4h.9v.9h-.9zM243.8 472.5h.9v.9h-.9zM239.6 482.7h.9v.9h-.9zM234.6 478.6h.9v.9h-.9zM245.8 478.5h.9v.9h-.9zM242.7 480.7h.9v.9h-.9zM237.3 482.6h.9v.9h-.9zM237.0 481.9h.9v.9h-.9zM234.8 478.9h.9v.9h-.9zM245.7 476.3h.9v.9h-.9zM233.5 480.1h.9v.9h-.9zM234.4 474.4h.9v.9h-.9zM244.7 471.5h.9v.9h-.9zM235.2 481.1h.9v.9h-.9zM243.0 471.3h.9v.9h-.9zM237.3 481.4h.9v.9h-.9zM240.8 471.2h.9v.9h-.9zM235.7 473.7h.9v.9h-.9zM239.8 482.6h.9v.9h-.9zM244.9 473.8h.9v.9h-.9zM242.0 481.0h.9v.9h-.9zM245.2 475.1h.9v.9h-.9zM238.9 482.8h.9v.9h-.9zM235.2 471.6h.9v.9h-.9zM235.0 479.4h.9v.9h-.9zM234.7 479.5h.9v.9h-.9zM237.4 471.8h.9v.9h-.9zM237.8 470.7h.9v.9h-.9zM236.6 472.4h.9v.9h-.9zM235.9 473.2h.9v.9h-.9zM239.2 482.0h.9v.9h-.9zM242.2 481.7h.9v.9h-.9zM234.5 480.8h.9v.9h-.9zM245.1 478.2h.9v.9h-.9zM245.0 474.3h.9v.9h-.9zM245.3 478.1h.9v.9h-.9zM234.5 475.1h.9v.9h-.9zM241.8 471.0h.9v.9h-.9zM233.8 475.6h.9v.9h-.9zM234.7 473.3h.9v.9h-.9zM245.7 474.2h.9v.9h-.9zM240.2 482.3h.9v.9h-.9zM234.6 476.8h.9v.9h-.9zM235.8 481.5h.9v.9h-.9zM241.6 481.5h.9v.9h-.9zM242.5 470.4h.9v.9h-.9zM243.8 479.8h.9v.9h-.9zM233.7 474.9h.9v.9h-.9zM235.4 482.5h.9v.9h-.9zM244.4 470.0h.9v.9h-.9zM244.9 471.5h.9v.9h-.9zM233.4 475.1h.9v.9h-.9zM239.3 471.3h.9v.9h-.9zM236.7 472.0h.9v.9h-.9zM244.6 473.1h.9v.9h-.9zM241.2 481.5h.9v.9h-.9zM235.6 481.5h.9v.9h-.9zM238.0 481.6h.9v.9h-.9zM244.1 479.2h.9v.9h-.9zM245.0 473.2h.9v.9h-.9zM234.5 478.1h.9v.9h-.9zM243.2 470.8h.9v.9h-.9zM235.1 480.4h.9v.9h-.9zM242.9 481.7h.9v.9h-.9zM245.6 477.6h.9v.9h-.9zM242.5 471.5h.9v.9h-.9zM241.0 469.9h.9v.9h-.9zM245.0 474.8h.9v.9h-.9zM238.5 471.5h.9v.9h-.9zM234.6 474.1h.9v.9h-.9zM243.3 458.2h.9v.9h-.9zM243.5 451.4h.9v.9h-.9zM243.0 448.8h.9v.9h-.9zM239.2 449.7h.9v.9h-.9zM239.4 451.5h.9v.9h-.9zM235.6 457.0h.9v.9h-.9zM237.9 455.3h.9v.9h-.9zM257.2 460.9h.9v.9h-.9zM244.2 453.8h.9v.9h-.9zM234.0 458.1h.9v.9h-.9zM234.6 447.2h.9v.9h-.9zM243.9 449.0h.9v.9h-.9zM247.7 452.1h.9v.9h-.9zM243.2 454.1h.9v.9h-.9zM245.9 460.8h.9v.9h-.9zM240.4 442.1h.9v.9h-.9zM229.1 451.7h.9v.9h-.9zM234.4 451.1h.9v.9h-.9zM236.9 453.9h.9v.9h-.9zM234.8 447.5h.9v.9h-.9zM251.2 452.4h.9v.9h-.9zM238.0 450.2h.9v.9h-.9zM250.9 449.7h.9v.9h-.9zM239.7 450.1h.9v.9h-.9zM247.4 455.2h.9v.9h-.9zM241.2 451.9h.9v.9h-.9zM245.1 456.8h.9v.9h-.9zM237.7 444.2h.9v.9h-.9zM241.9 451.7h.9v.9h-.9zM242.7 445.3h.9v.9h-.9zM244.5 448.0h.9v.9h-.9zM245.1 447.0h.9v.9h-.9zM243.6 458.7h.9v.9h-.9zM249.4 452.0h.9v.9h-.9zM246.9 451.0h.9v.9h-.9zM238.8 449.7h.9v.9h-.9zM225.9 453.6h.9v.9h-.9zM240.2 457.1h.9v.9h-.9zM235.1 453.1h.9v.9h-.9zM235.8 453.7h.9v.9h-.9zM239.0 452.8h.9v.9h-.9zM239.2 442.4h.9v.9h-.9zM238.7 443.7h.9v.9h-.9zM252.8 450.3h.9v.9h-.9zM238.7 449.8h.9v.9h-.9zM245.9 453.7h.9v.9h-.9zM237.5 456.4h.9v.9h-.9zM249.1 448.6h.9v.9h-.9zM248.6 455.0h.9v.9h-.9zM236.9 450.3h.9v.9h-.9zM247.7 451.2h.9v.9h-.9zM239.2 445.6h.9v.9h-.9zM245.9 452.0h.9v.9h-.9zM246.6 458.9h.9v.9h-.9zM242.8 443.5h.9v.9h-.9zM251.0 450.8h.9v.9h-.9zM227.4 452.4h.9v.9h-.9zM235.4 452.1h.9v.9h-.9zM238.9 459.8h.9v.9h-.9zM227.8 455.6h.9v.9h-.9zM234.5 450.9h.9v.9h-.9zM237.8 457.6h.9v.9h-.9zM245.0 449.5h.9v.9h-.9zM250.3 449.7h.9v.9h-.9zM242.1 458.2h.9v.9h-.9zM241.0 460.6h.9v.9h-.9zM241.7 455.4h.9v.9h-.9zM233.4 446.6h.9v.9h-.9zM228.2 444.4h.9v.9h-.9zM248.6 456.8h.9v.9h-.9zM242.0 457.7h.9v.9h-.9zM239.1 448.5h.9v.9h-.9zM243.1 459.2h.9v.9h-.9zM245.3 449.6h.9v.9h-.9zM234.4 444.7h.9v.9h-.9zM252.8 452.3h.9v.9h-.9zM240.7 453.9h.9v.9h-.9zM235.9 446.4h.9v.9h-.9zM249.5 457.0h.9v.9h-.9zM247.5 450.3h.9v.9h-.9zM241.4 456.5h.9v.9h-.9zM241.0 454.4h.9v.9h-.9zM241.2 445.3h.9v.9h-.9zM246.0 445.9h.9v.9h-.9zM248.0 453.4h.9v.9h-.9zM235.0 450.6h.9v.9h-.9zM258.1 458.4h.9v.9h-.9zM244.2 452.3h.9v.9h-.9zM247.1 447.8h.9v.9h-.9zM244.1 461.6h.9v.9h-.9zM240.6 487.4h.9v.9h-.9zM239.2 491.8h.9v.9h-.9zM235.0 491.8h.9v.9h-.9zM261.0 488.8h.9v.9h-.9zM256.3 493.1h.9v.9h-.9zM243.0 503.9h.9v.9h-.9zM234.5 492.7h.9v.9h-.9zM253.7 490.6h.9v.9h-.9zM261.3 495.0h.9v.9h-.9zM243.7 480.9h.9v.9h-.9zM238.7 498.1h.9v.9h-.9zM245.6 492.2h.9v.9h-.9zM249.0 488.9h.9v.9h-.9zM248.4 496.0h.9v.9h-.9zM248.7 490.5h.9v.9h-.9zM241.8 485.7h.9v.9h-.9zM245.5 489.9h.9v.9h-.9zM260.9 486.0h.9v.9h-.9zM252.3 491.6h.9v.9h-.9zM273.0 489.8h.9v.9h-.9zM248.9 490.9h.9v.9h-.9zM244.6 483.7h.9v.9h-.9zM253.2 485.2h.9v.9h-.9zM262.3 500.6h.9v.9h-.9zM249.9 497.5h.9v.9h-.9zM261.3 497.6h.9v.9h-.9zM251.2 500.6h.9v.9h-.9zM245.8 498.1h.9v.9h-.9zM235.0 497.5h.9v.9h-.9zM250.0 483.0h.9v.9h-.9zM231.1 491.5h.9v.9h-.9zM237.1 489.6h.9v.9h-.9zM241.2 495.0h.9v.9h-.9zM235.0 494.1h.9v.9h-.9zM240.9 491.5h.9v.9h-.9zM244.1 497.9h.9v.9h-.9zM246.4 488.1h.9v.9h-.9zM255.0 491.7h.9v.9h-.9zM237.2 498.0h.9v.9h-.9zM260.6 489.9h.9v.9h-.9zM234.4 499.5h.9v.9h-.9zM234.8 494.3h.9v.9h-.9zM234.5 494.3h.9v.9h-.9zM254.0 492.0h.9v.9h-.9zM243.7 496.4h.9v.9h-.9zM243.2 485.3h.9v.9h-.9zM246.1 487.6h.9v.9h-.9zM259.5 486.5h.9v.9h-.9zM260.6 500.6h.9v.9h-.9zM254.7 489.1h.9v.9h-.9zM244.4 489.3h.9v.9h-.9zM240.5 490.6h.9v.9h-.9zM248.5 488.5h.9v.9h-.9zM260.4 479.6h.9v.9h-.9zM236.3 491.2h.9v.9h-.9zM249.3 485.6h.9v.9h-.9zM257.0 491.0h.9v.9h-.9zM251.5 486.4h.9v.9h-.9zM258.1 497.1h.9v.9h-.9zM245.2 491.2h.9v.9h-.9zM273.9 497.6h.9v.9h-.9zM240.7 489.7h.9v.9h-.9zM247.4 483.3h.9v.9h-.9zM255.5 494.0h.9v.9h-.9zM250.0 486.5h.9v.9h-.9zM241.2 487.5h.9v.9h-.9zM251.0 503.4h.9v.9h-.9zM262.4 494.9h.9v.9h-.9zM247.5 497.4h.9v.9h-.9zM243.5 488.8h.9v.9h-.9zM256.0 484.2h.9v.9h-.9zM269.2 489.3h.9v.9h-.9zM244.4 502.4h.9v.9h-.9zM243.0 491.0h.9v.9h-.9zM255.9 493.5h.9v.9h-.9zM272.5 499.7h.9v.9h-.9zM238.7 479.1h.9v.9h-.9zM254.3 498.1h.9v.9h-.9zM240.1 494.5h.9v.9h-.9zM240.0 491.5h.9v.9h-.9zM266.0 492.7h.9v.9h-.9zM238.9 489.9h.9v.9h-.9zM233.7 498.4h.9v.9h-.9zM262.1 477.6h.9v.9h-.9zM254.6 487.0h.9v.9h-.9zM246.4 488.2h.9v.9h-.9zM251.5 487.3h.9v.9h-.9zM252.0 495.8h.9v.9h-.9zM271.8 485.3h.9v.9h-.9zM243.6 482.6h.9v.9h-.9zM236.6 501.0h.9v.9h-.9zM248.8 485.0h.9v.9h-.9zM238.2 488.1h.9v.9h-.9zM243.4 491.6h.9v.9h-.9zM240.3 479.9h.9v.9h-.9zM240.8 502.6h.9v.9h-.9zM250.0 490.5h.9v.9h-.9zM245.3 491.5h.9v.9h-.9zM257.5 497.3h.9v.9h-.9zM231.0 492.3h.9v.9h-.9zM250.6 490.5h.9v.9h-.9zM241.0 493.7h.9v.9h-.9zM251.0 484.4h.9v.9h-.9zM239.1 493.0h.9v.9h-.9zM237.5 483.0h.9v.9h-.9zM252.4 487.4h.9v.9h-.9zM245.4 499.1h.9v.9h-.9zM249.4 476.0h.9v.9h-.9zM256.2 492.3h.9v.9h-.9zM245.8 491.1h.9v.9h-.9zM243.0 496.0h.9v.9h-.9zM249.6 496.4h.9v.9h-.9zM245.9 481.9h.9v.9h-.9zM252.9 489.0h.9v.9h-.9zM237.3 496.8h.9v.9h-.9zM252.8 488.0h.9v.9h-.9zM256.2 472.4h.9v.9h-.9zM268.3 485.6h.9v.9h-.9zM263.0 493.7h.9v.9h-.9zM238.7 492.1h.9v.9h-.9zM242.1 494.4h.9v.9h-.9zM261.1 488.4h.9v.9h-.9zM252.9 488.1h.9v.9h-.9zM260.6 494.8h.9v.9h-.9zM227.9 489.6h.9v.9h-.9zM246.8 490.3h.9v.9h-.9zM245.3 488.4h.9v.9h-.9zM249.6 486.1h.9v.9h-.9zM241.4 490.3h.9v.9h-.9zM241.3 488.5h.9v.9h-.9zM243.7 499.6h.9v.9h-.9zM240.4 493.2h.9v.9h-.9zM242.3 490.2h.9v.9h-.9zM240.5 495.2h.9v.9h-.9zM238.8 494.3h.9v.9h-.9zM243.7 498.4h.9v.9h-.9zM259.1 487.1h.9v.9h-.9zM241.8 487.0h.9v.9h-.9zM243.2 486.9h.9v.9h-.9zM250.2 484.5h.9v.9h-.9zM239.9 487.2h.9v.9h-.9zM233.6 486.5h.9v.9h-.9zM247.6 495.0h.9v.9h-.9zM255.2 483.6h.9v.9h-.9zM232.9 486.9h.9v.9h-.9zM249.0 488.8h.9v.9h-.9zM247.5 489.8h.9v.9h-.9zM242.1 495.8h.9v.9h-.9zM258.8 488.7h.9v.9h-.9zM245.7 489.2h.9v.9h-.9zM245.8 488.3h.9v.9h-.9zM266.4 495.5h.9v.9h-.9zM245.9 492.0h.9v.9h-.9zM232.9 488.4h.9v.9h-.9zM272.5 486.1h.9v.9h-.9zM263.9 496.8h.9v.9h-.9zM258.0 494.0h.9v.9h-.9zM250.9 499.9h.9v.9h-.9zM259.2 498.2h.9v.9h-.9zM246.0 485.1h.9v.9h-.9zM257.8 483.4h.9v.9h-.9zM260.1 500.4h.9v.9h-.9zM251.2 493.9h.9v.9h-.9zM245.3 489.6h.9v.9h-.9zM245.1 489.1h.9v.9h-.9zM241.8 482.9h.9v.9h-.9zM244.7 488.2h.9v.9h-.9zM260.6 474.6h.9v.9h-.9zM254.0 475.4h.9v.9h-.9zM255.1 482.0h.9v.9h-.9zM258.6 464.9h.9v.9h-.9zM265.0 472.9h.9v.9h-.9zM261.9 468.2h.9v.9h-.9zM257.3 480.8h.9v.9h-.9zM254.7 465.4h.9v.9h-.9zM259.5 485.6h.9v.9h-.9zM258.1 464.3h.9v.9h-.9zM258.4 472.9h.9v.9h-.9zM259.0 462.3h.9v.9h-.9zM263.0 470.5h.9v.9h-.9zM257.8 471.5h.9v.9h-.9zM258.8 478.4h.9v.9h-.9zM264.8 475.3h.9v.9h-.9zM248.5 469.0h.9v.9h-.9zM258.8 463.7h.9v.9h-.9zM250.0 477.3h.9v.9h-.9zM258.5 463.6h.9v.9h-.9zM258.8 475.2h.9v.9h-.9zM260.5 469.4h.9v.9h-.9zM255.4 482.2h.9v.9h-.9zM264.7 469.6h.9v.9h-.9zM253.0 459.0h.9v.9h-.9zM259.1 472.7h.9v.9h-.9zM253.5 462.2h.9v.9h-.9zM260.6 469.2h.9v.9h-.9zM258.5 493.2h.9v.9h-.9zM259.6 475.0h.9v.9h-.9zM257.4 466.4h.9v.9h-.9zM261.0 477.5h.9v.9h-.9zM256.2 480.1h.9v.9h-.9zM262.8 470.5h.9v.9h-.9zM263.6 477.4h.9v.9h-.9zM254.3 461.8h.9v.9h-.9zM257.2 466.8h.9v.9h-.9zM250.6 470.6h.9v.9h-.9zM249.0 473.1h.9v.9h-.9zM255.5 453.9h.9v.9h-.9zM258.6 480.1h.9v.9h-.9zM262.0 481.0h.9v.9h-.9zM257.9 470.3h.9v.9h-.9zM257.3 475.4h.9v.9h-.9zM262.4 475.1h.9v.9h-.9zM262.0 461.3h.9v.9h-.9zM258.3 459.5h.9v.9h-.9zM266.2 487.6h.9v.9h-.9zM264.5 484.3h.9v.9h-.9zM251.3 478.2h.9v.9h-.9zM233.9 487.7h.9v.9h-.9zM227.9 487.5h.9v.9h-.9zM229.3 485.6h.9v.9h-.9zM231.1 487.6h.9v.9h-.9zM227.8 488.6h.9v.9h-.9zM233.4 478.6h.9v.9h-.9zM228.9 493.5h.9v.9h-.9zM232.9 485.3h.9v.9h-.9zM229.9 482.2h.9v.9h-.9zM233.0 489.6h.9v.9h-.9zM235.3 487.3h.9v.9h-.9zM231.8 477.1h.9v.9h-.9zM232.8 497.3h.9v.9h-.9zM227.7 484.2h.9v.9h-.9zM231.1 479.8h.9v.9h-.9zM226.8 485.4h.9v.9h-.9zM237.6 487.5h.9v.9h-.9zM232.2 480.2h.9v.9h-.9zM232.9 479.7h.9v.9h-.9zM234.6 491.3h.9v.9h-.9z" fill="#ee1218"/>
<rect x="227.7" y="503.7" width="38" height="1.5" fill="#f29a9a"/>
</g>
<rect x="185.7" y="409.6" width="89.8" height="96.1" fill="none" stroke="#333" stroke-width="1"/>
<path d="M185.7 460.4L275.5 460.4" stroke="#333" stroke-width="0.9" fill="none"/>
<path d="M240.2 408.5L244.7 408.5" stroke="#444" stroke-width="1" fill="none"/>
<path d="M189.0 505.7v3.7M191.2 505.7v3.7M193.0 505.7v3.7M194.6 505.7v3.7M195.9 505.7v3.7M197.1 505.7v3.7M205.0 505.7v3.7M209.0 505.7v3.7M211.8 505.7v3.7M214.0 505.7v3.7M215.8 505.7v3.7M217.4 505.7v3.7M218.7 505.7v3.7M219.9 505.7v3.7M227.8 505.7v3.7M231.8 505.7v3.7M234.6 505.7v3.7M236.8 505.7v3.7M238.6 505.7v3.7M240.2 505.7v3.7M241.5 505.7v3.7M242.7 505.7v3.7M250.6 505.7v3.7M254.6 505.7v3.7M257.4 505.7v3.7M259.6 505.7v3.7M261.4 505.7v3.7M263.0 505.7v3.7M264.3 505.7v3.7M265.5 505.7v3.7M273.4 505.7v3.7M277.4 505.7v3.7M185.7 412.4h-3M185.7 436.2h-3M185.7 432.0h-3M185.7 429.1h-3M185.7 426.8h-3M185.7 424.9h-3M185.7 423.3h-3M185.7 421.9h-3M185.7 420.7h-3M185.7 460.0h-3M185.7 455.8h-3M185.7 452.9h-3M185.7 450.6h-3M185.7 448.7h-3M185.7 447.1h-3M185.7 445.7h-3M185.7 444.5h-3M185.7 483.8h-3M185.7 479.6h-3M185.7 476.7h-3M185.7 474.4h-3M185.7 472.5h-3M185.7 470.9h-3M185.7 469.5h-3M185.7 468.3h-3M185.7 503.4h-3M185.7 500.5h-3M185.7 498.2h-3M185.7 496.3h-3M185.7 494.7h-3M185.7 493.3h-3M185.7 492.1h-3" stroke="#2a2a2a" stroke-width="0.85" fill="none"/>
<path d="M198.1 505.7v7.2M220.9 505.7v7.2M243.7 505.7v7.2M266.5 505.7v7.2M185.7 419.6h-6.4M185.7 443.4h-6.4M185.7 467.2h-6.4M185.7 491.0h-6.4" stroke="#555" stroke-width="0.8" fill="none"/>
<text x="198.1" y="519.8" font-size="6" font-weight="bold" fill="#2a2a2a" text-anchor="middle">10<tspan dy="-2.6" font-size="4">2</tspan></text>
<text x="179.1" y="490.5" font-size="6" font-weight="bold" fill="#2a2a2a" text-anchor="middle" transform="rotate(-90 179.1 490.5)">10<tspan dy="-2.6" font-size="4">2</tspan></text>
<text x="220.9" y="519.8" font-size="6" font-weight="bold" fill="#2a2a2a" text-anchor="middle">10<tspan dy="-2.6" font-size="4">3</tspan></text>
<text x="179.1" y="466.7" font-size="6" font-weight="bold" fill="#2a2a2a" text-anchor="middle" transform="rotate(-90 179.1 466.7)">10<tspan dy="-2.6" font-size="4">3</tspan></text>
<text x="244" y="519.8" font-size="6" font-weight="bold" fill="#2a2a2a" text-anchor="middle">10<tspan dy="-2.6" font-size="4">4</tspan></text>
<text x="179.1" y="442.9" font-size="6" font-weight="bold" fill="#2a2a2a" text-anchor="middle" transform="rotate(-90 179.1 442.9)">10<tspan dy="-2.6" font-size="4">4</tspan></text>
<text x="267.6" y="519.8" font-size="6" font-weight="bold" fill="#2a2a2a" text-anchor="middle">10<tspan dy="-2.6" font-size="4">5</tspan></text>
<text x="179.1" y="419.1" font-size="6" font-weight="bold" fill="#2a2a2a" text-anchor="middle" transform="rotate(-90 179.1 419.1)">10<tspan dy="-2.6" font-size="4">5</tspan></text>
<text x="192" y="428.2" font-size="13" fill="#3b3ba3" stroke="#3b3ba3" stroke-width="0.3">Vector</text>
<text x="192" y="450.3" font-size="13" fill="#3b3ba3" stroke="#3b3ba3" stroke-width="0.3">+NaF</text>
<text x="251.5" y="484" font-size="5.6" fill="#222">Q3</text>
<text x="256" y="448.5" font-size="5.6" fill="#500">Q1</text>
<clipPath id="cf305"><rect x="305.3" y="409.8" width="92.3" height="95"/></clipPath>
<g clip-path="url(#cf305)">
<ellipse cx="376" cy="433.6" rx="12.83" ry="5.7" transform="rotate(-79 376 433.6)" fill="#ee1218" filter="url(#b05)"/>
<ellipse cx="374.3" cy="448" rx="8.37" ry="3.31" transform="rotate(-80 374.3 448)" fill="#ee1218" filter="url(#b05)"/>
<ellipse cx="361.4" cy="483.6" rx="12.28" ry="6.07" transform="rotate(-85 361.4 483.6)" fill="#ee1218" filter="url(#b05)"/>
<ellipse cx="362.2" cy="477" rx="6.51" ry="5.89" transform="rotate(-75 362.2 477)" fill="#ee1218" filter="url(#b05)"/>
<path d="M371.6 426.5h.9v.9h-.9zM383.0 428.7h.9v.9h-.9zM378.7 419.7h.9v.9h-.9zM377.0 420.4h.9v.9h-.9zM373.2 447.5h.9v.9h-.9zM372.8 449.6h.9v.9h-.9zM369.3 439.4h.9v.9h-.9zM370.2 430.1h.9v.9h-.9zM379.0 442.1h.9v.9h-.9zM372.2 446.1h.9v.9h-.9zM370.2 429.4h.9v.9h-.9zM378.4 443.6h.9v.9h-.9zM371.2 446.1h.9v.9h-.9zM379.4 441.4h.9v.9h-.9zM376.3 417.8h.9v.9h-.9zM380.6 420.1h.9v.9h-.9zM370.1 433.8h.9v.9h-.9zM372.7 447.4h.9v.9h-.9zM369.7 440.9h.9v.9h-.9zM383.4 431.9h.9v.9h-.9zM377.2 414.5h.9v.9h-.9zM374.2 446.8h.9v.9h-.9zM369.3 435.8h.9v.9h-.9zM381.9 421.9h.9v.9h-.9zM380.9 438.1h.9v.9h-.9zM374.8 421.8h.9v.9h-.9zM379.8 417.9h.9v.9h-.9zM379.0 442.6h.9v.9h-.9zM382.4 430.6h.9v.9h-.9zM380.5 442.6h.9v.9h-.9zM368.7 444.2h.9v.9h-.9zM372.7 422.6h.9v.9h-.9zM371.8 447.6h.9v.9h-.9zM374.9 421.6h.9v.9h-.9zM369.3 436.2h.9v.9h-.9zM376.1 421.4h.9v.9h-.9zM382.5 427.7h.9v.9h-.9zM373.6 423.3h.9v.9h-.9zM369.6 432.2h.9v.9h-.9zM376.5 417.5h.9v.9h-.9zM379.9 421.3h.9v.9h-.9zM382.4 421.6h.9v.9h-.9zM379.2 419.0h.9v.9h-.9zM378.8 419.8h.9v.9h-.9zM382.0 434.3h.9v.9h-.9zM371.0 445.3h.9v.9h-.9zM377.0 445.8h.9v.9h-.9zM382.7 424.9h.9v.9h-.9zM368.8 431.0h.9v.9h-.9zM382.7 425.6h.9v.9h-.9zM378.4 418.3h.9v.9h-.9zM380.5 439.5h.9v.9h-.9zM380.4 421.0h.9v.9h-.9zM382.4 428.8h.9v.9h-.9zM379.5 421.3h.9v.9h-.9zM382.2 432.9h.9v.9h-.9zM369.1 439.8h.9v.9h-.9zM379.1 444.1h.9v.9h-.9zM379.5 418.2h.9v.9h-.9zM380.3 442.5h.9v.9h-.9zM379.6 441.9h.9v.9h-.9zM382.7 436.9h.9v.9h-.9zM370.2 433.2h.9v.9h-.9zM382.0 426.1h.9v.9h-.9zM371.7 446.2h.9v.9h-.9zM379.9 419.6h.9v.9h-.9zM374.8 447.4h.9v.9h-.9zM369.2 430.0h.9v.9h-.9zM379.7 441.2h.9v.9h-.9zM382.0 422.8h.9v.9h-.9zM371.4 446.0h.9v.9h-.9zM378.0 418.9h.9v.9h-.9zM369.2 435.1h.9v.9h-.9zM374.3 450.8h.9v.9h-.9zM370.7 444.3h.9v.9h-.9zM379.6 442.9h.9v.9h-.9zM377.6 444.6h.9v.9h-.9zM371.6 426.0h.9v.9h-.9zM373.6 421.5h.9v.9h-.9zM372.3 445.8h.9v.9h-.9zM368.0 432.1h.9v.9h-.9zM371.8 425.2h.9v.9h-.9zM369.4 444.7h.9v.9h-.9zM375.4 421.3h.9v.9h-.9zM369.1 447.3h.9v.9h-.9zM371.4 448.2h.9v.9h-.9zM369.5 433.9h.9v.9h-.9zM369.4 443.7h.9v.9h-.9zM374.4 422.7h.9v.9h-.9zM370.9 429.5h.9v.9h-.9zM372.2 446.1h.9v.9h-.9zM367.2 437.4h.9v.9h-.9zM374.1 421.3h.9v.9h-.9zM376.4 446.6h.9v.9h-.9zM380.4 442.6h.9v.9h-.9zM372.3 425.5h.9v.9h-.9zM382.1 421.8h.9v.9h-.9zM372.6 446.4h.9v.9h-.9zM381.1 418.8h.9v.9h-.9zM369.7 435.9h.9v.9h-.9zM375.6 421.0h.9v.9h-.9zM377.2 419.6h.9v.9h-.9zM378.7 444.9h.9v.9h-.9zM371.3 420.3h.9v.9h-.9zM368.8 441.2h.9v.9h-.9zM382.2 432.7h.9v.9h-.9zM380.3 422.1h.9v.9h-.9zM370.4 444.1h.9v.9h-.9zM379.4 442.0h.9v.9h-.9zM373.7 423.4h.9v.9h-.9zM376.0 420.9h.9v.9h-.9zM371.3 445.1h.9v.9h-.9zM370.3 442.8h.9v.9h-.9zM382.8 424.5h.9v.9h-.9zM379.9 441.8h.9v.9h-.9zM370.4 426.4h.9v.9h-.9zM373.2 448.3h.9v.9h-.9zM381.3 441.1h.9v.9h-.9zM372.0 447.5h.9v.9h-.9zM372.8 449.3h.9v.9h-.9zM374.5 450.5h.9v.9h-.9zM374.6 448.1h.9v.9h-.9zM371.5 446.0h.9v.9h-.9zM376.5 419.6h.9v.9h-.9zM373.7 423.5h.9v.9h-.9zM371.8 447.0h.9v.9h-.9zM380.7 419.4h.9v.9h-.9zM373.1 421.5h.9v.9h-.9zM368.5 442.8h.9v.9h-.9zM382.1 424.7h.9v.9h-.9zM373.8 423.5h.9v.9h-.9zM372.6 446.8h.9v.9h-.9zM383.5 433.0h.9v.9h-.9zM371.0 428.1h.9v.9h-.9zM383.1 437.3h.9v.9h-.9zM370.8 423.5h.9v.9h-.9zM370.0 442.8h.9v.9h-.9zM379.9 440.8h.9v.9h-.9zM381.0 440.3h.9v.9h-.9zM381.7 436.4h.9v.9h-.9zM383.6 425.6h.9v.9h-.9zM381.9 434.1h.9v.9h-.9zM379.2 442.8h.9v.9h-.9zM381.2 436.9h.9v.9h-.9zM376.6 446.6h.9v.9h-.9zM380.7 442.6h.9v.9h-.9zM371.9 425.9h.9v.9h-.9zM371.9 446.4h.9v.9h-.9zM383.0 427.9h.9v.9h-.9zM371.8 445.2h.9v.9h-.9zM382.1 435.2h.9v.9h-.9zM369.1 434.4h.9v.9h-.9zM375.3 447.7h.9v.9h-.9zM376.4 420.0h.9v.9h-.9zM382.8 419.7h.9v.9h-.9zM383.1 427.2h.9v.9h-.9zM369.6 435.2h.9v.9h-.9zM382.0 433.0h.9v.9h-.9zM380.4 421.2h.9v.9h-.9zM371.7 446.2h.9v.9h-.9zM375.0 421.6h.9v.9h-.9zM375.0 446.4h.9v.9h-.9zM373.1 446.9h.9v.9h-.9zM378.8 419.5h.9v.9h-.9zM369.9 427.8h.9v.9h-.9zM378.9 417.4h.9v.9h-.9zM380.3 419.8h.9v.9h-.9zM383.5 428.7h.9v.9h-.9zM382.7 429.0h.9v.9h-.9zM371.6 425.1h.9v.9h-.9zM378.0 418.6h.9v.9h-.9zM376.3 418.3h.9v.9h-.9zM383.0 431.6h.9v.9h-.9zM379.9 441.9h.9v.9h-.9zM369.3 437.8h.9v.9h-.9zM382.9 434.7h.9v.9h-.9zM374.9 419.7h.9v.9h-.9zM377.6 444.1h.9v.9h-.9zM383.1 434.2h.9v.9h-.9zM382.5 428.8h.9v.9h-.9zM377.3 420.8h.9v.9h-.9zM383.5 424.4h.9v.9h-.9zM377.9 420.0h.9v.9h-.9zM382.1 422.3h.9v.9h-.9zM371.5 427.5h.9v.9h-.9zM380.8 440.2h.9v.9h-.9zM375.4 418.9h.9v.9h-.9zM375.8 420.9h.9v.9h-.9zM375.7 420.7h.9v.9h-.9zM382.4 436.8h.9v.9h-.9zM381.3 420.3h.9v.9h-.9zM377.9 419.9h.9v.9h-.9zM370.1 444.6h.9v.9h-.9zM382.8 431.9h.9v.9h-.9zM374.1 447.6h.9v.9h-.9zM374.7 416.8h.9v.9h-.9zM381.7 421.9h.9v.9h-.9zM369.9 444.5h.9v.9h-.9zM379.6 419.2h.9v.9h-.9zM377.7 444.2h.9v.9h-.9zM369.5 439.2h.9v.9h-.9zM377.0 445.1h.9v.9h-.9zM369.2 433.2h.9v.9h-.9zM376.3 445.9h.9v.9h-.9zM371.2 446.6h.9v.9h-.9zM378.0 444.3h.9v.9h-.9zM373.3 451.7h.9v.9h-.9zM376.9 448.0h.9v.9h-.9zM382.6 434.3h.9v.9h-.9zM382.7 425.7h.9v.9h-.9zM369.3 437.9h.9v.9h-.9zM382.4 429.9h.9v.9h-.9zM379.8 419.8h.9v.9h-.9zM377.5 417.9h.9v.9h-.9zM382.2 427.7h.9v.9h-.9zM381.5 423.6h.9v.9h-.9zM370.0 445.8h.9v.9h-.9zM377.1 444.9h.9v.9h-.9zM369.1 434.3h.9v.9h-.9zM371.5 445.0h.9v.9h-.9zM370.8 446.0h.9v.9h-.9zM368.9 439.9h.9v.9h-.9zM382.7 427.4h.9v.9h-.9zM370.4 431.0h.9v.9h-.9zM377.3 444.9h.9v.9h-.9zM369.8 434.8h.9v.9h-.9zM371.8 447.9h.9v.9h-.9zM381.6 423.8h.9v.9h-.9zM382.6 433.2h.9v.9h-.9zM377.8 448.0h.9v.9h-.9zM379.6 415.1h.9v.9h-.9zM370.9 449.7h.9v.9h-.9zM381.7 421.5h.9v.9h-.9zM372.4 447.9h.9v.9h-.9zM378.0 420.0h.9v.9h-.9zM374.8 419.1h.9v.9h-.9zM368.6 442.2h.9v.9h-.9zM381.1 421.1h.9v.9h-.9zM376.7 448.0h.9v.9h-.9zM381.0 442.5h.9v.9h-.9zM383.8 430.1h.9v.9h-.9zM373.0 424.9h.9v.9h-.9zM379.0 443.1h.9v.9h-.9zM381.6 435.8h.9v.9h-.9zM370.4 431.0h.9v.9h-.9zM382.8 428.7h.9v.9h-.9zM369.5 437.7h.9v.9h-.9zM381.3 439.9h.9v.9h-.9zM370.8 443.7h.9v.9h-.9zM377.1 446.2h.9v.9h-.9zM373.9 422.0h.9v.9h-.9zM383.0 431.5h.9v.9h-.9zM374.5 421.0h.9v.9h-.9zM382.1 420.7h.9v.9h-.9zM380.7 419.7h.9v.9h-.9zM378.8 416.9h.9v.9h-.9zM377.9 448.2h.9v.9h-.9zM372.2 447.1h.9v.9h-.9zM382.7 424.4h.9v.9h-.9zM376.2 415.9h.9v.9h-.9zM374.1 446.6h.9v.9h-.9zM370.7 429.2h.9v.9h-.9zM369.7 441.2h.9v.9h-.9zM385.7 428.7h.9v.9h-.9zM368.2 443.6h.9v.9h-.9zM382.3 434.4h.9v.9h-.9zM368.4 441.4h.9v.9h-.9zM372.0 448.9h.9v.9h-.9zM380.9 421.4h.9v.9h-.9zM380.0 440.6h.9v.9h-.9zM381.9 426.5h.9v.9h-.9zM380.6 439.3h.9v.9h-.9zM370.9 428.3h.9v.9h-.9zM379.1 419.3h.9v.9h-.9zM382.1 431.9h.9v.9h-.9zM372.3 424.2h.9v.9h-.9zM382.4 425.4h.9v.9h-.9zM381.0 437.5h.9v.9h-.9zM379.5 443.0h.9v.9h-.9zM368.4 439.7h.9v.9h-.9zM378.3 416.1h.9v.9h-.9zM373.4 449.4h.9v.9h-.9zM370.9 446.3h.9v.9h-.9zM377.0 416.7h.9v.9h-.9zM368.7 436.3h.9v.9h-.9zM380.8 444.1h.9v.9h-.9zM369.9 427.1h.9v.9h-.9zM379.6 442.4h.9v.9h-.9zM382.2 426.3h.9v.9h-.9zM381.4 437.2h.9v.9h-.9zM378.6 445.9h.9v.9h-.9zM373.2 447.4h.9v.9h-.9zM382.5 440.1h.9v.9h-.9zM370.7 429.6h.9v.9h-.9zM377.2 446.7h.9v.9h-.9zM376.7 416.9h.9v.9h-.9zM375.8 420.6h.9v.9h-.9zM371.5 426.6h.9v.9h-.9zM378.3 420.5h.9v.9h-.9zM383.9 434.2h.9v.9h-.9zM382.8 424.6h.9v.9h-.9zM378.8 442.8h.9v.9h-.9zM370.3 444.1h.9v.9h-.9zM382.7 433.2h.9v.9h-.9zM369.0 433.0h.9v.9h-.9zM370.4 443.5h.9v.9h-.9zM382.1 428.3h.9v.9h-.9zM382.7 425.7h.9v.9h-.9zM372.3 446.5h.9v.9h-.9zM373.4 421.9h.9v.9h-.9zM382.9 420.3h.9v.9h-.9zM369.9 430.3h.9v.9h-.9zM371.9 446.6h.9v.9h-.9zM376.7 421.2h.9v.9h-.9zM369.5 431.8h.9v.9h-.9zM381.9 421.8h.9v.9h-.9zM379.0 416.0h.9v.9h-.9zM370.9 447.8h.9v.9h-.9zM375.5 420.9h.9v.9h-.9zM376.7 445.9h.9v.9h-.9zM380.2 421.3h.9v.9h-.9zM376.5 420.6h.9v.9h-.9zM381.7 435.0h.9v.9h-.9zM381.6 437.7h.9v.9h-.9zM375.0 419.0h.9v.9h-.9zM377.0 420.3h.9v.9h-.9zM369.9 430.4h.9v.9h-.9zM372.2 424.2h.9v.9h-.9zM369.7 439.8h.9v.9h-.9zM372.4 446.6h.9v.9h-.9zM382.7 431.9h.9v.9h-.9zM381.9 436.3h.9v.9h-.9zM374.5 421.4h.9v.9h-.9zM369.4 433.6h.9v.9h-.9zM377.9 447.0h.9v.9h-.9zM382.0 426.8h.9v.9h-.9zM382.5 426.5h.9v.9h-.9zM382.0 437.3h.9v.9h-.9zM382.3 423.0h.9v.9h-.9zM379.7 440.7h.9v.9h-.9zM380.8 419.2h.9v.9h-.9zM376.7 419.0h.9v.9h-.9zM376.7 419.1h.9v.9h-.9zM377.8 445.3h.9v.9h-.9zM377.6 446.9h.9v.9h-.9zM381.5 438.0h.9v.9h-.9zM381.6 425.0h.9v.9h-.9zM371.3 427.7h.9v.9h-.9zM383.7 433.3h.9v.9h-.9zM376.4 417.7h.9v.9h-.9zM374.7 447.7h.9v.9h-.9zM379.0 443.6h.9v.9h-.9zM372.6 448.4h.9v.9h-.9zM370.3 430.3h.9v.9h-.9zM370.5 444.8h.9v.9h-.9zM382.6 432.2h.9v.9h-.9zM375.1 421.5h.9v.9h-.9zM370.8 446.6h.9v.9h-.9zM383.0 426.4h.9v.9h-.9zM369.8 432.8h.9v.9h-.9zM380.1 418.4h.9v.9h-.9zM379.9 444.1h.9v.9h-.9zM377.1 447.3h.9v.9h-.9zM379.2 420.0h.9v.9h-.9zM380.7 439.4h.9v.9h-.9zM374.8 420.1h.9v.9h-.9zM370.5 443.4h.9v.9h-.9zM382.8 433.9h.9v.9h-.9zM381.7 422.5h.9v.9h-.9zM369.9 434.9h.9v.9h-.9zM377.8 449.7h.9v.9h-.9zM382.2 425.8h.9v.9h-.9zM376.7 419.0h.9v.9h-.9zM383.5 426.7h.9v.9h-.9zM371.7 426.0h.9v.9h-.9zM369.7 440.0h.9v.9h-.9zM380.5 419.4h.9v.9h-.9zM380.5 443.2h.9v.9h-.9zM371.5 428.0h.9v.9h-.9zM369.3 443.8h.9v.9h-.9zM382.2 424.2h.9v.9h-.9zM383.2 431.6h.9v.9h-.9zM374.5 447.0h.9v.9h-.9zM380.7 421.6h.9v.9h-.9zM381.5 439.4h.9v.9h-.9zM370.3 442.2h.9v.9h-.9zM379.9 421.3h.9v.9h-.9zM368.7 432.0h.9v.9h-.9zM372.1 447.3h.9v.9h-.9zM371.6 427.3h.9v.9h-.9zM368.2 434.2h.9v.9h-.9zM374.5 447.1h.9v.9h-.9zM379.8 420.0h.9v.9h-.9zM382.0 432.3h.9v.9h-.9zM382.5 433.0h.9v.9h-.9zM369.8 442.0h.9v.9h-.9zM371.6 446.4h.9v.9h-.9zM382.8 430.9h.9v.9h-.9zM380.4 421.8h.9v.9h-.9zM369.4 435.7h.9v.9h-.9zM373.7 423.2h.9v.9h-.9zM371.6 423.8h.9v.9h-.9zM375.1 439.4h.9v.9h-.9zM369.7 455.4h.9v.9h-.9zM375.4 439.6h.9v.9h-.9zM371.3 457.0h.9v.9h-.9zM370.6 448.0h.9v.9h-.9zM374.4 439.1h.9v.9h-.9zM373.5 440.3h.9v.9h-.9zM375.3 439.2h.9v.9h-.9zM377.7 443.1h.9v.9h-.9zM376.8 439.5h.9v.9h-.9zM377.8 442.5h.9v.9h-.9zM370.6 453.9h.9v.9h-.9zM370.7 449.2h.9v.9h-.9zM376.2 455.5h.9v.9h-.9zM378.0 447.1h.9v.9h-.9zM371.3 445.3h.9v.9h-.9zM369.9 448.5h.9v.9h-.9zM372.6 456.8h.9v.9h-.9zM374.6 438.3h.9v.9h-.9zM378.1 449.0h.9v.9h-.9zM370.4 449.2h.9v.9h-.9zM378.1 443.3h.9v.9h-.9zM374.4 455.8h.9v.9h-.9zM377.3 439.5h.9v.9h-.9zM378.2 443.9h.9v.9h-.9zM369.6 455.0h.9v.9h-.9zM372.6 442.6h.9v.9h-.9zM376.4 454.3h.9v.9h-.9zM373.5 437.7h.9v.9h-.9zM373.1 459.1h.9v.9h-.9zM374.7 455.6h.9v.9h-.9zM370.6 451.7h.9v.9h-.9zM375.1 439.6h.9v.9h-.9zM370.4 448.6h.9v.9h-.9zM369.9 451.2h.9v.9h-.9zM371.6 443.1h.9v.9h-.9zM378.2 450.1h.9v.9h-.9zM371.3 455.6h.9v.9h-.9zM377.3 451.6h.9v.9h-.9zM372.1 456.2h.9v.9h-.9zM376.3 453.7h.9v.9h-.9zM371.9 457.9h.9v.9h-.9zM375.8 454.9h.9v.9h-.9zM373.4 456.8h.9v.9h-.9zM371.0 446.8h.9v.9h-.9zM371.1 446.1h.9v.9h-.9zM370.4 451.7h.9v.9h-.9zM372.8 459.6h.9v.9h-.9zM373.2 457.7h.9v.9h-.9zM378.0 442.3h.9v.9h-.9zM372.5 457.4h.9v.9h-.9zM370.9 456.7h.9v.9h-.9zM372.8 458.1h.9v.9h-.9zM371.1 457.3h.9v.9h-.9zM370.4 451.4h.9v.9h-.9zM371.1 446.5h.9v.9h-.9zM378.5 444.7h.9v.9h-.9zM377.0 453.0h.9v.9h-.9zM374.6 440.0h.9v.9h-.9zM376.6 436.7h.9v.9h-.9zM370.9 446.8h.9v.9h-.9zM374.5 456.3h.9v.9h-.9zM371.3 456.3h.9v.9h-.9zM374.1 459.3h.9v.9h-.9zM370.9 447.8h.9v.9h-.9zM373.1 459.5h.9v.9h-.9zM371.7 443.8h.9v.9h-.9zM378.9 444.4h.9v.9h-.9zM377.9 447.5h.9v.9h-.9zM372.9 440.9h.9v.9h-.9zM370.5 445.1h.9v.9h-.9zM372.2 458.3h.9v.9h-.9zM372.1 457.5h.9v.9h-.9zM378.4 443.0h.9v.9h-.9zM372.8 456.8h.9v.9h-.9zM374.6 439.4h.9v.9h-.9zM370.9 455.5h.9v.9h-.9zM372.2 459.1h.9v.9h-.9zM377.9 449.0h.9v.9h-.9zM375.2 458.0h.9v.9h-.9zM370.6 444.7h.9v.9h-.9zM371.1 454.4h.9v.9h-.9zM377.3 451.4h.9v.9h-.9zM373.2 458.0h.9v.9h-.9zM369.7 447.6h.9v.9h-.9zM377.1 440.3h.9v.9h-.9zM376.8 440.2h.9v.9h-.9zM372.0 442.8h.9v.9h-.9zM371.5 456.6h.9v.9h-.9zM378.0 445.6h.9v.9h-.9zM370.7 445.8h.9v.9h-.9zM374.2 457.6h.9v.9h-.9zM376.5 437.7h.9v.9h-.9zM371.8 441.9h.9v.9h-.9zM372.3 457.4h.9v.9h-.9zM370.7 452.4h.9v.9h-.9zM378.0 444.0h.9v.9h-.9zM376.8 453.2h.9v.9h-.9zM373.0 456.7h.9v.9h-.9zM370.5 455.8h.9v.9h-.9zM373.8 440.2h.9v.9h-.9zM375.7 454.8h.9v.9h-.9zM374.8 455.6h.9v.9h-.9zM370.2 452.9h.9v.9h-.9zM370.8 455.9h.9v.9h-.9zM377.6 441.8h.9v.9h-.9zM371.0 444.0h.9v.9h-.9zM372.5 441.4h.9v.9h-.9zM378.5 442.6h.9v.9h-.9zM377.6 449.1h.9v.9h-.9zM371.6 444.5h.9v.9h-.9zM371.9 443.2h.9v.9h-.9zM376.5 453.7h.9v.9h-.9zM370.1 451.2h.9v.9h-.9zM376.5 452.6h.9v.9h-.9zM370.9 444.8h.9v.9h-.9zM371.1 456.1h.9v.9h-.9zM371.3 455.3h.9v.9h-.9zM375.3 455.5h.9v.9h-.9zM374.5 438.9h.9v.9h-.9zM373.4 457.8h.9v.9h-.9zM377.9 440.6h.9v.9h-.9zM377.4 439.9h.9v.9h-.9zM379.0 447.9h.9v.9h-.9zM377.4 451.2h.9v.9h-.9zM370.6 453.9h.9v.9h-.9zM371.5 445.2h.9v.9h-.9zM371.3 444.1h.9v.9h-.9zM370.6 447.3h.9v.9h-.9zM376.5 439.6h.9v.9h-.9zM376.1 439.8h.9v.9h-.9zM377.6 450.2h.9v.9h-.9zM371.0 455.0h.9v.9h-.9zM378.0 442.9h.9v.9h-.9zM378.1 445.0h.9v.9h-.9zM371.6 456.2h.9v.9h-.9zM370.6 456.9h.9v.9h-.9zM378.0 451.5h.9v.9h-.9zM375.7 455.5h.9v.9h-.9zM369.6 447.6h.9v.9h-.9zM371.6 445.0h.9v.9h-.9zM375.9 455.1h.9v.9h-.9zM370.5 451.7h.9v.9h-.9zM372.1 456.5h.9v.9h-.9zM370.7 448.9h.9v.9h-.9zM371.4 455.6h.9v.9h-.9zM371.2 445.0h.9v.9h-.9zM378.7 440.6h.9v.9h-.9zM377.3 452.9h.9v.9h-.9zM372.9 439.5h.9v.9h-.9zM376.6 439.2h.9v.9h-.9zM373.0 457.9h.9v.9h-.9zM368.4 480.1h.9v.9h-.9zM366.3 474.6h.9v.9h-.9zM367.7 484.0h.9v.9h-.9zM357.2 475.2h.9v.9h-.9zM353.5 487.4h.9v.9h-.9zM360.2 468.8h.9v.9h-.9zM364.6 471.5h.9v.9h-.9zM355.0 487.8h.9v.9h-.9zM366.6 490.4h.9v.9h-.9zM362.3 499.5h.9v.9h-.9zM362.2 471.2h.9v.9h-.9zM362.6 495.8h.9v.9h-.9zM359.2 472.4h.9v.9h-.9zM363.5 469.5h.9v.9h-.9zM354.2 481.7h.9v.9h-.9zM365.7 493.3h.9v.9h-.9zM355.6 490.2h.9v.9h-.9zM365.9 495.1h.9v.9h-.9zM355.8 478.9h.9v.9h-.9zM369.2 486.5h.9v.9h-.9zM356.9 475.9h.9v.9h-.9zM358.3 495.3h.9v.9h-.9zM354.6 484.0h.9v.9h-.9zM368.5 482.5h.9v.9h-.9zM354.9 488.5h.9v.9h-.9zM358.6 496.1h.9v.9h-.9zM367.7 482.0h.9v.9h-.9zM359.0 497.1h.9v.9h-.9zM353.4 479.6h.9v.9h-.9zM355.9 494.8h.9v.9h-.9zM363.9 494.5h.9v.9h-.9zM355.9 476.2h.9v.9h-.9zM367.7 485.5h.9v.9h-.9zM367.8 484.8h.9v.9h-.9zM369.6 481.5h.9v.9h-.9zM357.0 473.8h.9v.9h-.9zM365.5 471.8h.9v.9h-.9zM363.7 495.5h.9v.9h-.9zM359.8 497.3h.9v.9h-.9zM366.2 492.5h.9v.9h-.9zM367.4 477.4h.9v.9h-.9zM367.5 485.6h.9v.9h-.9zM362.7 495.5h.9v.9h-.9zM364.2 497.2h.9v.9h-.9zM357.3 475.2h.9v.9h-.9zM367.8 489.6h.9v.9h-.9zM361.1 499.2h.9v.9h-.9zM360.2 471.5h.9v.9h-.9zM364.8 494.8h.9v.9h-.9zM354.1 485.4h.9v.9h-.9zM355.9 476.4h.9v.9h-.9zM365.2 470.5h.9v.9h-.9zM368.3 488.1h.9v.9h-.9zM360.3 467.5h.9v.9h-.9zM356.3 497.7h.9v.9h-.9zM367.2 477.9h.9v.9h-.9zM369.9 474.1h.9v.9h-.9zM368.0 477.0h.9v.9h-.9zM359.2 469.0h.9v.9h-.9zM367.8 475.7h.9v.9h-.9zM355.8 477.3h.9v.9h-.9zM355.5 492.3h.9v.9h-.9zM361.6 470.0h.9v.9h-.9zM353.6 488.5h.9v.9h-.9zM365.8 493.2h.9v.9h-.9zM367.3 478.1h.9v.9h-.9zM361.0 469.5h.9v.9h-.9zM368.4 479.0h.9v.9h-.9zM355.2 488.3h.9v.9h-.9zM356.4 477.4h.9v.9h-.9zM362.2 469.5h.9v.9h-.9zM367.4 491.6h.9v.9h-.9zM367.8 479.5h.9v.9h-.9zM368.8 481.3h.9v.9h-.9zM367.5 490.5h.9v.9h-.9zM364.6 469.5h.9v.9h-.9zM356.0 491.7h.9v.9h-.9zM355.2 488.1h.9v.9h-.9zM366.0 493.7h.9v.9h-.9zM355.2 486.7h.9v.9h-.9zM365.3 472.4h.9v.9h-.9zM366.3 494.7h.9v.9h-.9zM366.2 491.0h.9v.9h-.9zM364.9 472.0h.9v.9h-.9zM356.2 476.8h.9v.9h-.9zM354.8 488.6h.9v.9h-.9zM369.0 484.1h.9v.9h-.9zM367.2 486.3h.9v.9h-.9zM358.1 473.8h.9v.9h-.9zM355.1 485.9h.9v.9h-.9zM366.1 470.5h.9v.9h-.9zM365.2 492.3h.9v.9h-.9zM367.2 475.7h.9v.9h-.9zM369.3 483.8h.9v.9h-.9zM354.5 486.6h.9v.9h-.9zM367.4 490.4h.9v.9h-.9zM359.2 469.9h.9v.9h-.9zM365.3 471.8h.9v.9h-.9zM359.0 470.8h.9v.9h-.9zM363.9 468.0h.9v.9h-.9zM355.1 495.7h.9v.9h-.9zM355.0 481.0h.9v.9h-.9zM353.8 481.2h.9v.9h-.9zM366.7 473.6h.9v.9h-.9zM359.2 471.1h.9v.9h-.9zM368.0 486.8h.9v.9h-.9zM357.1 499.8h.9v.9h-.9zM358.0 474.2h.9v.9h-.9zM360.2 497.6h.9v.9h-.9zM366.8 492.7h.9v.9h-.9zM364.7 494.9h.9v.9h-.9zM357.9 472.8h.9v.9h-.9zM367.2 488.6h.9v.9h-.9zM358.3 496.6h.9v.9h-.9zM367.7 479.9h.9v.9h-.9zM366.7 489.9h.9v.9h-.9zM364.8 471.3h.9v.9h-.9zM360.3 470.9h.9v.9h-.9zM368.6 477.5h.9v.9h-.9zM367.4 476.5h.9v.9h-.9zM363.4 471.1h.9v.9h-.9zM367.6 475.9h.9v.9h-.9zM355.1 475.7h.9v.9h-.9zM359.3 495.6h.9v.9h-.9zM364.6 472.0h.9v.9h-.9zM356.6 494.8h.9v.9h-.9zM354.6 480.8h.9v.9h-.9zM367.6 479.5h.9v.9h-.9zM354.7 489.9h.9v.9h-.9zM367.7 484.2h.9v.9h-.9zM364.8 494.4h.9v.9h-.9zM359.7 472.1h.9v.9h-.9zM359.4 469.9h.9v.9h-.9zM361.5 469.2h.9v.9h-.9zM369.2 488.6h.9v.9h-.9zM354.7 482.1h.9v.9h-.9zM355.2 484.1h.9v.9h-.9zM358.4 473.2h.9v.9h-.9zM355.1 487.9h.9v.9h-.9zM358.3 473.7h.9v.9h-.9zM359.8 471.6h.9v.9h-.9zM368.5 480.2h.9v.9h-.9zM368.5 477.1h.9v.9h-.9zM365.6 491.6h.9v.9h-.9zM355.8 477.4h.9v.9h-.9zM354.2 488.0h.9v.9h-.9zM356.6 492.4h.9v.9h-.9zM366.4 490.6h.9v.9h-.9zM367.1 487.0h.9v.9h-.9zM356.4 493.6h.9v.9h-.9zM355.2 487.5h.9v.9h-.9zM360.1 470.4h.9v.9h-.9zM365.9 470.2h.9v.9h-.9zM354.7 495.5h.9v.9h-.9zM356.5 493.3h.9v.9h-.9zM354.4 488.2h.9v.9h-.9zM361.8 496.2h.9v.9h-.9zM355.3 490.5h.9v.9h-.9zM354.8 485.9h.9v.9h-.9zM365.8 473.5h.9v.9h-.9zM354.6 484.0h.9v.9h-.9zM363.8 471.7h.9v.9h-.9zM357.1 474.9h.9v.9h-.9zM368.3 487.8h.9v.9h-.9zM364.8 493.3h.9v.9h-.9zM367.5 485.5h.9v.9h-.9zM367.5 484.0h.9v.9h-.9zM365.2 472.6h.9v.9h-.9zM357.6 496.0h.9v.9h-.9zM359.7 497.0h.9v.9h-.9zM367.3 486.6h.9v.9h-.9zM362.4 468.7h.9v.9h-.9zM365.0 470.1h.9v.9h-.9zM361.5 496.4h.9v.9h-.9zM367.0 492.7h.9v.9h-.9zM367.3 486.0h.9v.9h-.9zM356.9 495.1h.9v.9h-.9zM361.7 496.1h.9v.9h-.9zM368.4 477.1h.9v.9h-.9zM362.5 496.1h.9v.9h-.9zM355.3 475.3h.9v.9h-.9zM354.5 491.8h.9v.9h-.9zM364.8 472.3h.9v.9h-.9zM362.0 470.1h.9v.9h-.9zM368.3 474.7h.9v.9h-.9zM363.5 496.1h.9v.9h-.9zM363.8 494.6h.9v.9h-.9zM354.9 477.6h.9v.9h-.9zM353.9 482.0h.9v.9h-.9zM358.5 495.1h.9v.9h-.9zM361.1 468.2h.9v.9h-.9zM367.2 487.6h.9v.9h-.9zM358.6 496.3h.9v.9h-.9zM366.3 495.9h.9v.9h-.9zM368.6 478.6h.9v.9h-.9zM354.6 488.3h.9v.9h-.9zM362.4 469.8h.9v.9h-.9zM364.2 470.9h.9v.9h-.9zM356.9 475.5h.9v.9h-.9zM358.2 495.7h.9v.9h-.9zM358.8 472.6h.9v.9h-.9zM367.9 475.7h.9v.9h-.9zM360.8 496.5h.9v.9h-.9zM361.8 470.3h.9v.9h-.9zM357.6 494.4h.9v.9h-.9zM362.8 470.6h.9v.9h-.9zM358.3 472.2h.9v.9h-.9zM367.9 492.1h.9v.9h-.9zM359.8 471.6h.9v.9h-.9zM363.2 496.3h.9v.9h-.9zM354.4 496.9h.9v.9h-.9zM367.3 485.8h.9v.9h-.9zM355.3 491.7h.9v.9h-.9zM354.7 494.1h.9v.9h-.9zM369.0 483.4h.9v.9h-.9zM367.5 475.9h.9v.9h-.9zM368.1 489.1h.9v.9h-.9zM355.2 496.3h.9v.9h-.9zM360.3 495.9h.9v.9h-.9zM360.0 472.0h.9v.9h-.9zM356.8 472.0h.9v.9h-.9zM368.6 487.4h.9v.9h-.9zM367.3 473.7h.9v.9h-.9zM367.2 494.9h.9v.9h-.9zM354.5 479.5h.9v.9h-.9zM361.9 496.2h.9v.9h-.9zM357.2 496.2h.9v.9h-.9zM357.3 472.2h.9v.9h-.9zM364.1 494.2h.9v.9h-.9zM365.9 472.4h.9v.9h-.9zM366.9 487.7h.9v.9h-.9zM361.6 498.1h.9v.9h-.9zM368.2 480.4h.9v.9h-.9zM366.0 493.3h.9v.9h-.9zM357.8 472.4h.9v.9h-.9zM361.9 469.6h.9v.9h-.9zM354.4 483.8h.9v.9h-.9zM354.7 487.3h.9v.9h-.9zM366.1 491.2h.9v.9h-.9zM355.0 485.6h.9v.9h-.9zM356.0 476.9h.9v.9h-.9zM366.4 474.0h.9v.9h-.9zM364.9 494.8h.9v.9h-.9zM359.8 497.5h.9v.9h-.9zM356.6 472.4h.9v.9h-.9zM369.0 487.1h.9v.9h-.9zM365.6 472.6h.9v.9h-.9zM356.5 470.2h.9v.9h-.9zM354.1 491.0h.9v.9h-.9zM363.6 471.0h.9v.9h-.9zM363.1 495.7h.9v.9h-.9zM364.0 495.2h.9v.9h-.9zM367.7 477.4h.9v.9h-.9zM356.8 474.7h.9v.9h-.9zM367.3 478.3h.9v.9h-.9zM364.2 471.2h.9v.9h-.9zM362.8 501.3h.9v.9h-.9zM367.3 489.1h.9v.9h-.9zM361.9 467.3h.9v.9h-.9zM360.1 471.3h.9v.9h-.9zM365.0 493.3h.9v.9h-.9zM366.0 472.4h.9v.9h-.9zM368.4 482.5h.9v.9h-.9zM354.4 485.8h.9v.9h-.9zM361.7 469.3h.9v.9h-.9zM366.8 475.0h.9v.9h-.9zM367.8 481.0h.9v.9h-.9zM361.0 470.1h.9v.9h-.9zM367.4 489.1h.9v.9h-.9zM358.4 472.0h.9v.9h-.9zM354.9 486.5h.9v.9h-.9zM368.0 482.1h.9v.9h-.9zM366.7 473.0h.9v.9h-.9zM358.2 473.9h.9v.9h-.9zM354.4 488.5h.9v.9h-.9zM362.4 469.8h.9v.9h-.9zM368.4 470.6h.9v.9h-.9zM366.8 493.7h.9v.9h-.9zM355.1 492.2h.9v.9h-.9zM367.9 487.0h.9v.9h-.9zM356.6 476.9h.9v.9h-.9zM356.3 478.0h.9v.9h-.9zM355.0 486.2h.9v.9h-.9zM363.9 470.0h.9v.9h-.9zM358.5 470.1h.9v.9h-.9zM362.8 496.1h.9v.9h-.9zM354.2 487.3h.9v.9h-.9zM363.7 495.5h.9v.9h-.9zM358.9 496.2h.9v.9h-.9zM365.6 491.6h.9v.9h-.9zM360.2 496.7h.9v.9h-.9zM367.7 483.2h.9v.9h-.9zM366.5 490.4h.9v.9h-.9zM360.8 496.4h.9v.9h-.9zM367.9 481.0h.9v.9h-.9zM357.9 470.8h.9v.9h-.9zM366.9 474.3h.9v.9h-.9zM367.0 489.5h.9v.9h-.9zM366.8 490.2h.9v.9h-.9zM368.3 477.9h.9v.9h-.9zM360.5 470.6h.9v.9h-.9zM367.7 486.9h.9v.9h-.9zM369.7 476.9h.9v.9h-.9zM368.8 477.0h.9v.9h-.9zM355.9 478.8h.9v.9h-.9zM367.1 492.1h.9v.9h-.9zM364.4 497.0h.9v.9h-.9zM352.9 489.6h.9v.9h-.9zM359.4 471.9h.9v.9h-.9zM365.7 471.4h.9v.9h-.9zM367.7 480.0h.9v.9h-.9zM368.1 478.1h.9v.9h-.9zM354.4 483.0h.9v.9h-.9zM355.9 491.6h.9v.9h-.9zM356.1 478.3h.9v.9h-.9zM362.6 470.3h.9v.9h-.9zM367.5 477.1h.9v.9h-.9zM361.4 496.5h.9v.9h-.9zM354.8 492.5h.9v.9h-.9zM355.2 486.1h.9v.9h-.9zM356.6 493.3h.9v.9h-.9zM365.2 493.5h.9v.9h-.9zM363.5 471.3h.9v.9h-.9zM367.8 485.9h.9v.9h-.9zM367.7 471.3h.9v.9h-.9zM359.4 470.1h.9v.9h-.9zM360.7 468.8h.9v.9h-.9zM355.8 497.7h.9v.9h-.9zM359.3 470.9h.9v.9h-.9zM355.9 498.3h.9v.9h-.9zM361.9 501.3h.9v.9h-.9zM354.4 481.6h.9v.9h-.9zM367.2 490.3h.9v.9h-.9zM360.6 471.3h.9v.9h-.9zM359.8 496.8h.9v.9h-.9zM354.7 474.8h.9v.9h-.9zM354.5 484.7h.9v.9h-.9zM354.7 487.6h.9v.9h-.9zM357.1 494.2h.9v.9h-.9zM368.7 483.9h.9v.9h-.9zM365.3 492.5h.9v.9h-.9zM363.2 496.7h.9v.9h-.9zM363.0 500.8h.9v.9h-.9zM367.9 487.6h.9v.9h-.9zM358.2 495.3h.9v.9h-.9zM358.5 498.8h.9v.9h-.9zM369.5 483.9h.9v.9h-.9zM369.5 478.2h.9v.9h-.9zM359.7 471.3h.9v.9h-.9zM357.0 495.8h.9v.9h-.9zM363.6 468.7h.9v.9h-.9zM361.2 496.8h.9v.9h-.9zM362.2 496.2h.9v.9h-.9zM360.7 498.1h.9v.9h-.9zM368.1 482.6h.9v.9h-.9zM360.3 471.5h.9v.9h-.9zM367.9 476.7h.9v.9h-.9zM357.3 470.7h.9v.9h-.9zM367.3 478.0h.9v.9h-.9zM364.2 469.7h.9v.9h-.9zM366.2 473.6h.9v.9h-.9zM361.1 468.8h.9v.9h-.9zM365.9 494.2h.9v.9h-.9zM359.2 498.3h.9v.9h-.9zM360.0 496.2h.9v.9h-.9zM355.9 478.4h.9v.9h-.9zM369.1 481.6h.9v.9h-.9zM363.8 497.8h.9v.9h-.9zM359.0 473.0h.9v.9h-.9zM353.1 488.2h.9v.9h-.9zM368.1 483.6h.9v.9h-.9zM354.8 486.9h.9v.9h-.9zM356.1 475.7h.9v.9h-.9zM365.0 494.5h.9v.9h-.9zM361.8 495.8h.9v.9h-.9zM354.2 487.9h.9v.9h-.9zM366.9 489.4h.9v.9h-.9zM366.6 488.8h.9v.9h-.9zM354.2 487.4h.9v.9h-.9zM355.5 475.7h.9v.9h-.9zM358.3 495.0h.9v.9h-.9zM366.3 491.3h.9v.9h-.9zM355.2 486.1h.9v.9h-.9zM367.4 487.2h.9v.9h-.9zM364.7 471.6h.9v.9h-.9zM354.3 496.2h.9v.9h-.9zM363.0 467.4h.9v.9h-.9zM355.3 491.4h.9v.9h-.9zM364.2 494.4h.9v.9h-.9zM358.4 496.7h.9v.9h-.9zM367.9 487.5h.9v.9h-.9zM355.3 491.3h.9v.9h-.9zM357.0 476.1h.9v.9h-.9zM364.9 493.7h.9v.9h-.9zM358.7 496.8h.9v.9h-.9zM362.1 469.9h.9v.9h-.9zM358.6 496.3h.9v.9h-.9zM367.5 479.7h.9v.9h-.9zM357.8 496.4h.9v.9h-.9zM367.6 486.4h.9v.9h-.9zM364.0 471.6h.9v.9h-.9zM367.6 484.0h.9v.9h-.9zM363.6 468.4h.9v.9h-.9zM366.2 474.0h.9v.9h-.9zM365.6 494.9h.9v.9h-.9zM365.0 492.9h.9v.9h-.9zM354.3 482.9h.9v.9h-.9zM363.9 469.9h.9v.9h-.9zM368.2 482.6h.9v.9h-.9zM359.9 470.8h.9v.9h-.9zM368.1 479.3h.9v.9h-.9zM369.1 474.2h.9v.9h-.9zM369.0 476.4h.9v.9h-.9zM366.8 471.6h.9v.9h-.9zM362.1 466.6h.9v.9h-.9zM367.2 472.4h.9v.9h-.9zM363.6 470.0h.9v.9h-.9zM362.9 484.7h.9v.9h-.9zM362.5 483.9h.9v.9h-.9zM355.9 476.6h.9v.9h-.9zM362.4 484.1h.9v.9h-.9zM361.2 484.1h.9v.9h-.9zM368.4 474.1h.9v.9h-.9zM356.1 474.9h.9v.9h-.9zM368.5 475.1h.9v.9h-.9zM362.5 483.5h.9v.9h-.9zM366.9 471.7h.9v.9h-.9zM358.1 483.6h.9v.9h-.9zM364.3 469.0h.9v.9h-.9zM368.1 474.2h.9v.9h-.9zM356.3 474.0h.9v.9h-.9zM363.1 470.6h.9v.9h-.9zM364.8 469.8h.9v.9h-.9zM367.6 472.1h.9v.9h-.9zM369.1 477.2h.9v.9h-.9zM357.1 471.9h.9v.9h-.9zM355.9 474.2h.9v.9h-.9zM355.6 477.2h.9v.9h-.9zM358.9 471.7h.9v.9h-.9zM366.4 483.1h.9v.9h-.9zM369.3 473.9h.9v.9h-.9zM358.9 483.1h.9v.9h-.9zM362.7 470.3h.9v.9h-.9zM368.2 479.2h.9v.9h-.9zM355.8 479.3h.9v.9h-.9zM367.8 478.9h.9v.9h-.9zM369.7 478.8h.9v.9h-.9zM365.7 471.3h.9v.9h-.9zM360.6 470.8h.9v.9h-.9zM367.8 471.7h.9v.9h-.9zM355.9 478.2h.9v.9h-.9zM356.6 479.9h.9v.9h-.9zM367.4 473.6h.9v.9h-.9zM369.1 474.6h.9v.9h-.9zM365.5 483.0h.9v.9h-.9zM360.3 470.7h.9v.9h-.9zM357.2 472.9h.9v.9h-.9zM365.9 483.6h.9v.9h-.9zM362.5 469.7h.9v.9h-.9zM358.0 472.3h.9v.9h-.9zM356.7 473.9h.9v.9h-.9zM368.1 475.1h.9v.9h-.9zM368.9 472.6h.9v.9h-.9zM368.7 481.5h.9v.9h-.9zM367.2 472.4h.9v.9h-.9zM361.6 469.7h.9v.9h-.9zM364.1 483.5h.9v.9h-.9zM359.8 471.0h.9v.9h-.9zM361.2 483.5h.9v.9h-.9zM360.5 485.5h.9v.9h-.9zM365.3 470.9h.9v.9h-.9zM366.6 482.4h.9v.9h-.9zM356.3 479.8h.9v.9h-.9zM356.0 480.0h.9v.9h-.9zM369.1 477.7h.9v.9h-.9zM365.5 469.6h.9v.9h-.9zM367.3 482.0h.9v.9h-.9zM356.6 474.0h.9v.9h-.9zM354.0 476.8h.9v.9h-.9zM356.3 475.0h.9v.9h-.9zM356.2 477.0h.9v.9h-.9zM360.2 483.4h.9v.9h-.9zM365.4 470.0h.9v.9h-.9zM368.5 476.4h.9v.9h-.9zM355.9 480.5h.9v.9h-.9zM365.8 483.1h.9v.9h-.9zM368.6 477.1h.9v.9h-.9zM354.6 476.9h.9v.9h-.9zM356.6 474.1h.9v.9h-.9zM365.5 483.2h.9v.9h-.9zM370.4 477.1h.9v.9h-.9zM358.5 483.4h.9v.9h-.9zM365.2 471.2h.9v.9h-.9zM362.1 484.4h.9v.9h-.9zM364.2 468.3h.9v.9h-.9zM355.1 475.8h.9v.9h-.9zM367.7 480.5h.9v.9h-.9zM367.7 479.8h.9v.9h-.9zM355.8 477.1h.9v.9h-.9zM359.3 470.8h.9v.9h-.9zM363.3 484.9h.9v.9h-.9zM368.4 478.9h.9v.9h-.9zM362.9 469.7h.9v.9h-.9zM358.9 470.5h.9v.9h-.9zM355.9 474.0h.9v.9h-.9zM356.3 473.6h.9v.9h-.9zM364.3 484.2h.9v.9h-.9zM356.1 477.5h.9v.9h-.9zM368.3 478.9h.9v.9h-.9zM364.2 484.9h.9v.9h-.9zM356.0 477.5h.9v.9h-.9zM355.3 480.0h.9v.9h-.9zM355.6 475.5h.9v.9h-.9zM356.7 481.9h.9v.9h-.9zM366.3 471.1h.9v.9h-.9zM364.1 483.6h.9v.9h-.9zM355.5 473.0h.9v.9h-.9zM363.5 484.9h.9v.9h-.9zM360.6 485.0h.9v.9h-.9zM362.7 483.6h.9v.9h-.9zM367.9 478.6h.9v.9h-.9zM362.7 469.6h.9v.9h-.9zM355.6 473.4h.9v.9h-.9zM361.9 469.9h.9v.9h-.9zM364.6 483.1h.9v.9h-.9zM354.8 479.6h.9v.9h-.9zM358.0 482.2h.9v.9h-.9zM358.1 482.6h.9v.9h-.9zM359.3 485.0h.9v.9h-.9zM355.9 475.2h.9v.9h-.9zM356.1 480.1h.9v.9h-.9zM356.3 472.7h.9v.9h-.9zM366.2 470.5h.9v.9h-.9zM356.2 477.3h.9v.9h-.9zM369.2 473.5h.9v.9h-.9zM355.0 476.1h.9v.9h-.9zM355.2 476.0h.9v.9h-.9zM361.7 485.4h.9v.9h-.9zM365.4 469.2h.9v.9h-.9zM360.1 470.5h.9v.9h-.9zM366.4 469.6h.9v.9h-.9zM357.1 482.0h.9v.9h-.9zM368.8 475.1h.9v.9h-.9zM355.6 476.9h.9v.9h-.9zM368.0 479.5h.9v.9h-.9zM364.1 469.2h.9v.9h-.9zM367.6 473.5h.9v.9h-.9zM360.1 468.8h.9v.9h-.9zM355.1 480.1h.9v.9h-.9zM367.5 472.6h.9v.9h-.9zM367.4 471.9h.9v.9h-.9zM365.3 471.0h.9v.9h-.9zM357.5 470.5h.9v.9h-.9zM355.8 474.5h.9v.9h-.9zM358.3 471.8h.9v.9h-.9zM358.2 484.2h.9v.9h-.9zM361.0 470.0h.9v.9h-.9zM355.8 481.5h.9v.9h-.9zM366.5 483.0h.9v.9h-.9zM366.2 470.8h.9v.9h-.9zM365.5 470.7h.9v.9h-.9zM356.8 473.9h.9v.9h-.9zM369.4 480.4h.9v.9h-.9zM364.5 470.2h.9v.9h-.9zM367.0 483.9h.9v.9h-.9zM355.7 474.8h.9v.9h-.9zM358.7 470.9h.9v.9h-.9zM360.7 469.9h.9v.9h-.9zM355.9 475.4h.9v.9h-.9zM357.9 482.1h.9v.9h-.9zM363.5 470.5h.9v.9h-.9zM362.4 470.0h.9v.9h-.9zM366.5 481.8h.9v.9h-.9zM367.9 478.6h.9v.9h-.9zM358.4 470.7h.9v.9h-.9zM365.0 469.8h.9v.9h-.9zM358.3 471.5h.9v.9h-.9zM368.5 475.4h.9v.9h-.9zM357.4 483.9h.9v.9h-.9zM367.4 471.3h.9v.9h-.9zM368.6 473.1h.9v.9h-.9zM368.0 481.1h.9v.9h-.9zM364.4 484.8h.9v.9h-.9zM367.9 472.1h.9v.9h-.9zM357.3 472.1h.9v.9h-.9zM359.3 469.4h.9v.9h-.9zM368.7 477.9h.9v.9h-.9zM358.6 471.6h.9v.9h-.9zM363.8 470.3h.9v.9h-.9zM368.3 478.1h.9v.9h-.9zM356.4 480.1h.9v.9h-.9zM368.2 478.0h.9v.9h-.9zM355.9 477.0h.9v.9h-.9zM364.6 470.9h.9v.9h-.9zM356.7 473.1h.9v.9h-.9zM369.9 473.4h.9v.9h-.9zM368.6 477.0h.9v.9h-.9zM364.0 468.4h.9v.9h-.9zM360.1 470.0h.9v.9h-.9zM360.4 470.0h.9v.9h-.9zM364.0 470.5h.9v.9h-.9zM359.4 482.9h.9v.9h-.9zM356.1 473.8h.9v.9h-.9zM358.4 482.2h.9v.9h-.9zM356.6 480.2h.9v.9h-.9zM360.4 470.8h.9v.9h-.9zM370.1 479.3h.9v.9h-.9zM356.2 476.9h.9v.9h-.9zM364.9 470.0h.9v.9h-.9zM355.5 474.3h.9v.9h-.9zM361.4 470.6h.9v.9h-.9zM366.0 482.4h.9v.9h-.9zM356.2 476.0h.9v.9h-.9zM361.4 483.9h.9v.9h-.9zM365.3 469.8h.9v.9h-.9zM368.2 476.4h.9v.9h-.9zM368.1 473.2h.9v.9h-.9zM359.4 483.7h.9v.9h-.9zM355.6 475.0h.9v.9h-.9zM359.8 449.2h.9v.9h-.9zM357.6 445.7h.9v.9h-.9zM357.6 436.1h.9v.9h-.9zM359.3 440.5h.9v.9h-.9zM354.7 447.4h.9v.9h-.9zM367.4 444.4h.9v.9h-.9zM364.1 442.9h.9v.9h-.9zM359.2 451.4h.9v.9h-.9zM362.5 445.1h.9v.9h-.9zM356.5 447.5h.9v.9h-.9zM361.5 449.8h.9v.9h-.9zM353.6 443.9h.9v.9h-.9zM360.7 449.3h.9v.9h-.9zM361.6 441.3h.9v.9h-.9zM359.2 439.9h.9v.9h-.9zM364.5 451.5h.9v.9h-.9zM357.1 452.4h.9v.9h-.9zM361.6 449.6h.9v.9h-.9zM363.7 442.5h.9v.9h-.9zM363.5 444.5h.9v.9h-.9zM360.9 441.6h.9v.9h-.9zM369.0 441.6h.9v.9h-.9zM364.8 446.8h.9v.9h-.9zM364.1 443.8h.9v.9h-.9zM357.5 451.7h.9v.9h-.9zM361.4 438.6h.9v.9h-.9zM358.4 443.6h.9v.9h-.9zM370.9 440.2h.9v.9h-.9zM362.8 439.8h.9v.9h-.9zM357.3 455.1h.9v.9h-.9zM365.1 453.7h.9v.9h-.9zM366.3 448.1h.9v.9h-.9zM358.2 448.6h.9v.9h-.9zM361.8 449.0h.9v.9h-.9zM373.0 446.2h.9v.9h-.9zM361.2 431.0h.9v.9h-.9zM362.7 435.1h.9v.9h-.9zM376.1 448.8h.9v.9h-.9zM361.0 433.6h.9v.9h-.9zM355.3 452.8h.9v.9h-.9zM356.4 450.0h.9v.9h-.9zM361.7 447.5h.9v.9h-.9zM364.8 447.8h.9v.9h-.9zM356.8 449.4h.9v.9h-.9zM351.1 443.0h.9v.9h-.9zM363.7 454.9h.9v.9h-.9zM360.0 444.7h.9v.9h-.9zM358.6 441.5h.9v.9h-.9zM356.7 454.9h.9v.9h-.9zM366.4 446.6h.9v.9h-.9zM360.2 447.6h.9v.9h-.9zM354.6 451.8h.9v.9h-.9zM356.1 456.6h.9v.9h-.9zM358.8 445.8h.9v.9h-.9zM353.9 446.5h.9v.9h-.9zM358.5 439.2h.9v.9h-.9zM366.5 446.1h.9v.9h-.9zM365.1 454.1h.9v.9h-.9zM365.8 442.2h.9v.9h-.9zM365.7 441.5h.9v.9h-.9zM361.7 437.7h.9v.9h-.9zM362.8 439.7h.9v.9h-.9zM352.6 439.5h.9v.9h-.9zM364.6 446.0h.9v.9h-.9zM364.0 447.3h.9v.9h-.9zM362.1 436.1h.9v.9h-.9zM362.1 448.0h.9v.9h-.9zM355.8 452.3h.9v.9h-.9zM358.7 450.1h.9v.9h-.9zM353.4 442.2h.9v.9h-.9zM358.6 450.0h.9v.9h-.9zM359.7 443.5h.9v.9h-.9zM357.8 440.5h.9v.9h-.9zM366.6 439.1h.9v.9h-.9zM356.9 438.7h.9v.9h-.9zM362.6 444.3h.9v.9h-.9zM362.0 448.9h.9v.9h-.9zM360.1 437.1h.9v.9h-.9zM363.7 436.1h.9v.9h-.9zM362.9 451.7h.9v.9h-.9zM359.1 441.3h.9v.9h-.9zM367.3 456.8h.9v.9h-.9zM360.3 447.8h.9v.9h-.9zM364.0 438.9h.9v.9h-.9zM356.0 450.5h.9v.9h-.9zM356.6 450.9h.9v.9h-.9zM361.8 437.6h.9v.9h-.9zM372.2 444.7h.9v.9h-.9zM354.9 452.7h.9v.9h-.9zM355.2 438.4h.9v.9h-.9zM357.3 448.0h.9v.9h-.9zM358.9 447.6h.9v.9h-.9zM361.3 455.5h.9v.9h-.9zM366.0 452.4h.9v.9h-.9zM360.2 444.0h.9v.9h-.9zM363.9 438.9h.9v.9h-.9zM361.1 444.2h.9v.9h-.9zM358.3 446.4h.9v.9h-.9zM358.7 445.8h.9v.9h-.9zM363.4 443.8h.9v.9h-.9zM361.9 441.2h.9v.9h-.9zM367.4 452.2h.9v.9h-.9zM362.0 444.0h.9v.9h-.9zM360.5 442.3h.9v.9h-.9zM355.5 447.0h.9v.9h-.9zM357.4 446.6h.9v.9h-.9zM362.8 445.8h.9v.9h-.9zM362.6 451.8h.9v.9h-.9zM369.1 440.9h.9v.9h-.9zM358.1 447.2h.9v.9h-.9zM379.8 454.3h.9v.9h-.9zM372.6 464.6h.9v.9h-.9zM371.4 459.5h.9v.9h-.9zM376.2 456.4h.9v.9h-.9zM373.3 456.8h.9v.9h-.9zM371.3 460.5h.9v.9h-.9zM370.2 470.3h.9v.9h-.9zM368.9 467.3h.9v.9h-.9zM371.1 460.4h.9v.9h-.9zM374.7 463.7h.9v.9h-.9zM373.0 463.4h.9v.9h-.9zM371.8 465.0h.9v.9h-.9zM373.2 474.9h.9v.9h-.9zM375.8 456.6h.9v.9h-.9zM370.7 468.9h.9v.9h-.9zM372.7 448.2h.9v.9h-.9zM376.7 439.3h.9v.9h-.9zM377.3 455.4h.9v.9h-.9zM372.1 456.9h.9v.9h-.9zM376.8 466.8h.9v.9h-.9zM371.2 468.4h.9v.9h-.9zM369.7 463.5h.9v.9h-.9zM374.0 453.0h.9v.9h-.9zM376.4 461.3h.9v.9h-.9zM369.3 473.2h.9v.9h-.9zM375.6 455.0h.9v.9h-.9zM374.1 465.1h.9v.9h-.9zM373.5 454.4h.9v.9h-.9zM375.6 461.4h.9v.9h-.9zM375.0 467.6h.9v.9h-.9zM374.2 464.8h.9v.9h-.9zM370.7 454.5h.9v.9h-.9zM373.0 465.5h.9v.9h-.9zM377.1 451.0h.9v.9h-.9zM373.9 467.4h.9v.9h-.9zM379.6 450.7h.9v.9h-.9zM371.8 471.3h.9v.9h-.9zM371.7 469.3h.9v.9h-.9zM369.9 455.4h.9v.9h-.9zM373.3 448.9h.9v.9h-.9zM375.2 463.8h.9v.9h-.9zM372.2 454.4h.9v.9h-.9zM371.3 468.0h.9v.9h-.9zM368.1 467.9h.9v.9h-.9zM372.7 460.7h.9v.9h-.9zM374.2 443.9h.9v.9h-.9zM373.9 463.3h.9v.9h-.9zM370.5 473.3h.9v.9h-.9zM370.0 480.1h.9v.9h-.9zM369.9 461.0h.9v.9h-.9zM373.8 456.3h.9v.9h-.9zM374.5 464.2h.9v.9h-.9zM366.8 458.4h.9v.9h-.9zM370.7 466.8h.9v.9h-.9zM375.1 451.4h.9v.9h-.9zM375.8 457.7h.9v.9h-.9zM372.2 472.2h.9v.9h-.9zM373.6 466.2h.9v.9h-.9zM376.0 452.0h.9v.9h-.9zM374.9 461.8h.9v.9h-.9zM369.0 479.3h.9v.9h-.9zM372.3 464.3h.9v.9h-.9zM369.9 464.6h.9v.9h-.9zM368.3 482.1h.9v.9h-.9zM373.4 457.7h.9v.9h-.9zM378.8 451.4h.9v.9h-.9zM369.9 465.1h.9v.9h-.9zM372.3 468.4h.9v.9h-.9zM372.2 463.0h.9v.9h-.9zM372.5 465.2h.9v.9h-.9zM375.4 462.6h.9v.9h-.9zM373.9 457.5h.9v.9h-.9zM368.6 473.3h.9v.9h-.9zM372.9 464.2h.9v.9h-.9zM378.4 447.4h.9v.9h-.9zM373.7 462.8h.9v.9h-.9zM374.9 461.1h.9v.9h-.9zM370.9 458.4h.9v.9h-.9zM373.9 468.4h.9v.9h-.9zM369.9 472.2h.9v.9h-.9zM356.7 493.4h.9v.9h-.9zM364.3 498.6h.9v.9h-.9zM355.6 495.1h.9v.9h-.9zM364.1 501.6h.9v.9h-.9zM370.6 495.6h.9v.9h-.9zM360.0 492.8h.9v.9h-.9zM358.3 495.7h.9v.9h-.9zM368.3 494.8h.9v.9h-.9zM366.0 496.2h.9v.9h-.9zM367.0 492.4h.9v.9h-.9zM353.2 496.4h.9v.9h-.9zM358.6 489.4h.9v.9h-.9zM372.0 497.5h.9v.9h-.9zM358.7 496.4h.9v.9h-.9zM360.5 496.3h.9v.9h-.9zM363.4 493.7h.9v.9h-.9zM363.8 496.7h.9v.9h-.9zM361.8 497.8h.9v.9h-.9zM349.7 490.0h.9v.9h-.9zM365.5 500.9h.9v.9h-.9zM357.0 496.4h.9v.9h-.9zM367.5 498.9h.9v.9h-.9zM369.0 503.1h.9v.9h-.9zM357.3 492.0h.9v.9h-.9zM363.4 493.0h.9v.9h-.9zM370.9 493.1h.9v.9h-.9zM371.3 497.1h.9v.9h-.9zM367.6 493.0h.9v.9h-.9zM360.2 493.5h.9v.9h-.9zM358.1 496.0h.9v.9h-.9zM370.3 498.6h.9v.9h-.9zM364.6 501.0h.9v.9h-.9zM369.8 502.9h.9v.9h-.9zM350.3 491.3h.9v.9h-.9zM360.0 498.6h.9v.9h-.9zM360.2 500.1h.9v.9h-.9zM360.8 501.5h.9v.9h-.9zM356.6 494.4h.9v.9h-.9zM365.1 495.3h.9v.9h-.9zM358.5 497.8h.9v.9h-.9zM372.1 497.2h.9v.9h-.9zM360.9 495.7h.9v.9h-.9zM360.5 494.6h.9v.9h-.9zM359.3 496.5h.9v.9h-.9zM365.7 495.9h.9v.9h-.9zM364.5 498.0h.9v.9h-.9zM358.0 494.5h.9v.9h-.9zM347.8 492.9h.9v.9h-.9zM361.0 495.2h.9v.9h-.9zM358.6 496.2h.9v.9h-.9zM362.8 501.3h.9v.9h-.9zM358.4 495.4h.9v.9h-.9zM364.3 488.6h.9v.9h-.9zM364.1 501.9h.9v.9h-.9zM361.6 499.4h.9v.9h-.9zM367.6 499.0h.9v.9h-.9zM362.1 497.2h.9v.9h-.9zM361.3 492.2h.9v.9h-.9zM361.8 500.1h.9v.9h-.9zM359.4 500.1h.9v.9h-.9zM363.7 496.7h.9v.9h-.9zM362.7 503.3h.9v.9h-.9zM370.7 498.8h.9v.9h-.9zM365.1 493.1h.9v.9h-.9zM372.1 492.7h.9v.9h-.9zM372.5 501.9h.9v.9h-.9zM364.2 492.3h.9v.9h-.9zM357.8 495.9h.9v.9h-.9zM368.0 493.3h.9v.9h-.9zM362.6 499.4h.9v.9h-.9zM361.1 503.4h.9v.9h-.9zM363.4 500.3h.9v.9h-.9zM367.6 494.2h.9v.9h-.9zM364.6 499.2h.9v.9h-.9zM364.2 497.4h.9v.9h-.9zM365.9 492.8h.9v.9h-.9zM362.6 488.4h.9v.9h-.9zM368.0 498.7h.9v.9h-.9zM360.1 495.3h.9v.9h-.9zM378.1 490.2h.9v.9h-.9zM364.2 500.8h.9v.9h-.9zM358.9 498.1h.9v.9h-.9zM354.9 494.7h.9v.9h-.9zM373.7 491.5h.9v.9h-.9zM377.1 483.1h.9v.9h-.9zM377.0 495.4h.9v.9h-.9zM371.9 472.2h.9v.9h-.9zM378.4 488.8h.9v.9h-.9zM374.4 474.1h.9v.9h-.9zM371.6 452.2h.9v.9h-.9zM374.7 485.3h.9v.9h-.9zM375.3 470.0h.9v.9h-.9zM379.2 484.9h.9v.9h-.9zM377.5 475.8h.9v.9h-.9zM367.2 489.8h.9v.9h-.9zM370.8 466.2h.9v.9h-.9zM377.9 464.4h.9v.9h-.9zM376.1 492.0h.9v.9h-.9zM371.7 488.3h.9v.9h-.9zM373.3 479.4h.9v.9h-.9zM380.8 463.9h.9v.9h-.9zM366.8 486.2h.9v.9h-.9zM379.5 500.6h.9v.9h-.9zM378.9 475.2h.9v.9h-.9zM373.0 474.9h.9v.9h-.9zM374.2 470.9h.9v.9h-.9zM376.4 482.5h.9v.9h-.9zM375.4 477.7h.9v.9h-.9zM376.6 464.5h.9v.9h-.9zM379.3 471.8h.9v.9h-.9zM372.9 486.9h.9v.9h-.9zM375.1 468.1h.9v.9h-.9zM376.7 480.5h.9v.9h-.9zM373.6 487.5h.9v.9h-.9zM375.0 485.0h.9v.9h-.9zM380.3 462.1h.9v.9h-.9zM367.9 483.4h.9v.9h-.9zM376.1 468.1h.9v.9h-.9zM373.2 460.0h.9v.9h-.9zM371.1 480.8h.9v.9h-.9zM374.3 463.4h.9v.9h-.9zM376.4 475.9h.9v.9h-.9zM378.0 489.2h.9v.9h-.9zM372.5 483.0h.9v.9h-.9zM377.4 476.8h.9v.9h-.9zM380.2 486.4h.9v.9h-.9zM375.8 478.5h.9v.9h-.9zM377.7 485.2h.9v.9h-.9zM376.8 488.1h.9v.9h-.9zM377.5 468.9h.9v.9h-.9zM371.8 492.9h.9v.9h-.9zM379.4 476.7h.9v.9h-.9zM376.8 478.5h.9v.9h-.9zM381.6 479.6h.9v.9h-.9zM378.0 475.4h.9v.9h-.9zM372.1 473.9h.9v.9h-.9zM379.3 482.7h.9v.9h-.9zM380.0 472.4h.9v.9h-.9zM378.9 482.2h.9v.9h-.9zM374.2 484.5h.9v.9h-.9zM373.7 472.7h.9v.9h-.9zM379.9 474.9h.9v.9h-.9zM372.5 482.6h.9v.9h-.9zM378.3 477.6h.9v.9h-.9zM375.7 483.5h.9v.9h-.9zM372.9 477.3h.9v.9h-.9zM373.9 474.9h.9v.9h-.9zM373.3 475.9h.9v.9h-.9zM377.0 480.7h.9v.9h-.9zM372.9 488.4h.9v.9h-.9zM374.9 462.7h.9v.9h-.9zM374.4 473.5h.9v.9h-.9zM376.6 474.3h.9v.9h-.9zM378.7 470.7h.9v.9h-.9zM370.0 473.6h.9v.9h-.9zM376.7 488.4h.9v.9h-.9zM372.8 487.0h.9v.9h-.9zM374.5 472.5h.9v.9h-.9zM374.7 464.9h.9v.9h-.9zM380.7 481.6h.9v.9h-.9zM380.5 482.2h.9v.9h-.9zM374.4 467.3h.9v.9h-.9zM374.4 479.7h.9v.9h-.9z" fill="#ee1218"/>
<rect x="347.3" y="502.8" width="38" height="1.5" fill="#f29a9a"/>
</g>
<rect x="305.3" y="409.8" width="92.3" height="95" fill="none" stroke="#333" stroke-width="1"/>
<path d="M305.3 460.2L397.6 460.2" stroke="#333" stroke-width="0.9" fill="none"/>
<path d="M359.8 408.7L364.3 408.7" stroke="#444" stroke-width="1" fill="none"/>
<path d="M308.6 504.8v3.7M310.8 504.8v3.7M312.6 504.8v3.7M314.2 504.8v3.7M315.5 504.8v3.7M316.7 504.8v3.7M324.6 504.8v3.7M328.6 504.8v3.7M331.4 504.8v3.7M333.6 504.8v3.7M335.4 504.8v3.7M337.0 504.8v3.7M338.3 504.8v3.7M339.5 504.8v3.7M347.4 504.8v3.7M351.4 504.8v3.7M354.2 504.8v3.7M356.4 504.8v3.7M358.2 504.8v3.7M359.8 504.8v3.7M361.1 504.8v3.7M362.3 504.8v3.7M370.2 504.8v3.7M374.2 504.8v3.7M377.0 504.8v3.7M379.2 504.8v3.7M381.0 504.8v3.7M382.6 504.8v3.7M383.9 504.8v3.7M385.1 504.8v3.7M393.0 504.8v3.7M397.0 504.8v3.7M305.3 412.6h-3M305.3 436.4h-3M305.3 432.2h-3M305.3 429.3h-3M305.3 427.0h-3M305.3 425.1h-3M305.3 423.5h-3M305.3 422.1h-3M305.3 420.9h-3M305.3 460.2h-3M305.3 456.0h-3M305.3 453.1h-3M305.3 450.8h-3M305.3 448.9h-3M305.3 447.3h-3M305.3 445.9h-3M305.3 444.7h-3M305.3 484.0h-3M305.3 479.8h-3M305.3 476.9h-3M305.3 474.6h-3M305.3 472.7h-3M305.3 471.1h-3M305.3 469.7h-3M305.3 468.5h-3M305.3 503.6h-3M305.3 500.7h-3M305.3 498.4h-3M305.3 496.5h-3M305.3 494.9h-3M305.3 493.5h-3M305.3 492.3h-3" stroke="#2a2a2a" stroke-width="0.85" fill="none"/>
<path d="M317.7 504.8v7.2M340.5 504.8v7.2M363.3 504.8v7.2M386.1 504.8v7.2M305.3 419.8h-6.4M305.3 443.6h-6.4M305.3 467.4h-6.4M305.3 491.2h-6.4" stroke="#555" stroke-width="0.8" fill="none"/>
<text x="317.7" y="518.9" font-size="6" font-weight="bold" fill="#2a2a2a" text-anchor="middle">10<tspan dy="-2.6" font-size="4">2</tspan></text>
<text x="298.7" y="490.7" font-size="6" font-weight="bold" fill="#2a2a2a" text-anchor="middle" transform="rotate(-90 298.7 490.7)">10<tspan dy="-2.6" font-size="4">2</tspan></text>
<text x="340.5" y="518.9" font-size="6" font-weight="bold" fill="#2a2a2a" text-anchor="middle">10<tspan dy="-2.6" font-size="4">3</tspan></text>
<text x="298.7" y="466.9" font-size="6" font-weight="bold" fill="#2a2a2a" text-anchor="middle" transform="rotate(-90 298.7 466.9)">10<tspan dy="-2.6" font-size="4">3</tspan></text>
<text x="363.6" y="518.9" font-size="6" font-weight="bold" fill="#2a2a2a" text-anchor="middle">10<tspan dy="-2.6" font-size="4">4</tspan></text>
<text x="298.7" y="443.1" font-size="6" font-weight="bold" fill="#2a2a2a" text-anchor="middle" transform="rotate(-90 298.7 443.1)">10<tspan dy="-2.6" font-size="4">4</tspan></text>
<text x="387.2" y="518.9" font-size="6" font-weight="bold" fill="#2a2a2a" text-anchor="middle">10<tspan dy="-2.6" font-size="4">5</tspan></text>
<text x="298.7" y="419.3" font-size="6" font-weight="bold" fill="#2a2a2a" text-anchor="middle" transform="rotate(-90 298.7 419.3)">10<tspan dy="-2.6" font-size="4">5</tspan></text>
<text x="310.6" y="427.6" font-size="13" fill="#3b3ba3" stroke="#3b3ba3" stroke-width="0.3">Ad-TFAM</text>
<text x="373" y="484" font-size="5.6" fill="#222">Q3</text>
<text x="375.5" y="447.5" font-size="5.6" fill="#500">Q1</text>
<clipPath id="cf423"><rect x="423.9" y="409.2" width="90.8" height="96.9"/></clipPath>
<g clip-path="url(#cf423)">
<ellipse cx="496.3" cy="438" rx="13.95" ry="5.06" transform="rotate(-78 496.3 438)" fill="#ee1218" filter="url(#b05)"/>
<ellipse cx="493.4" cy="452.5" rx="7.44" ry="3.31" transform="rotate(-78 493.4 452.5)" fill="#ee1218" filter="url(#b05)"/>
<ellipse cx="479.8" cy="479" rx="13.02" ry="5.7" transform="rotate(-68 479.8 479)" fill="#ee1218" filter="url(#b05)"/>
<ellipse cx="482" cy="472.5" rx="6.98" ry="5.34" transform="rotate(-62 482 472.5)" fill="#ee1218" filter="url(#b05)"/>
<path d="M494.6 426.7h.9v.9h-.9zM501.4 424.8h.9v.9h-.9zM494.5 428.1h.9v.9h-.9zM489.4 438.7h.9v.9h-.9zM491.6 431.2h.9v.9h-.9zM503.1 432.2h.9v.9h-.9zM496.0 424.7h.9v.9h-.9zM496.4 451.6h.9v.9h-.9zM496.4 424.9h.9v.9h-.9zM490.2 444.7h.9v.9h-.9zM498.7 421.4h.9v.9h-.9zM496.8 424.7h.9v.9h-.9zM500.4 420.6h.9v.9h-.9zM493.2 452.5h.9v.9h-.9zM490.3 449.2h.9v.9h-.9zM499.3 422.3h.9v.9h-.9zM495.7 426.0h.9v.9h-.9zM490.4 449.5h.9v.9h-.9zM496.7 423.1h.9v.9h-.9zM497.9 421.5h.9v.9h-.9zM492.3 430.9h.9v.9h-.9zM502.2 430.7h.9v.9h-.9zM499.6 423.6h.9v.9h-.9zM497.3 451.0h.9v.9h-.9zM493.9 454.3h.9v.9h-.9zM490.3 449.8h.9v.9h-.9zM499.0 448.4h.9v.9h-.9zM502.1 444.6h.9v.9h-.9zM494.0 451.9h.9v.9h-.9zM500.3 421.1h.9v.9h-.9zM494.4 453.1h.9v.9h-.9zM494.3 455.3h.9v.9h-.9zM501.5 422.4h.9v.9h-.9zM502.1 427.0h.9v.9h-.9zM501.2 422.4h.9v.9h-.9zM502.9 424.6h.9v.9h-.9zM501.1 440.7h.9v.9h-.9zM490.3 447.6h.9v.9h-.9zM491.6 434.8h.9v.9h-.9zM488.1 448.3h.9v.9h-.9zM492.5 454.3h.9v.9h-.9zM494.5 454.9h.9v.9h-.9zM493.1 425.6h.9v.9h-.9zM495.5 424.6h.9v.9h-.9zM499.7 424.4h.9v.9h-.9zM492.3 451.2h.9v.9h-.9zM496.4 452.5h.9v.9h-.9zM498.8 421.5h.9v.9h-.9zM490.1 441.8h.9v.9h-.9zM491.3 452.0h.9v.9h-.9zM502.7 431.1h.9v.9h-.9zM498.4 423.7h.9v.9h-.9zM502.3 432.2h.9v.9h-.9zM490.9 450.7h.9v.9h-.9zM502.0 425.9h.9v.9h-.9zM504.0 427.8h.9v.9h-.9zM501.9 436.4h.9v.9h-.9zM497.6 424.6h.9v.9h-.9zM489.8 446.7h.9v.9h-.9zM490.0 443.4h.9v.9h-.9zM500.3 424.0h.9v.9h-.9zM489.9 433.4h.9v.9h-.9zM490.0 453.3h.9v.9h-.9zM491.7 434.2h.9v.9h-.9zM490.1 446.1h.9v.9h-.9zM491.4 450.8h.9v.9h-.9zM501.0 423.8h.9v.9h-.9zM495.0 452.7h.9v.9h-.9zM495.5 453.7h.9v.9h-.9zM491.7 433.8h.9v.9h-.9zM498.7 449.3h.9v.9h-.9zM492.4 431.8h.9v.9h-.9zM490.4 436.4h.9v.9h-.9zM503.0 426.0h.9v.9h-.9zM501.8 428.1h.9v.9h-.9zM489.4 444.9h.9v.9h-.9zM495.3 453.2h.9v.9h-.9zM489.3 437.6h.9v.9h-.9zM502.7 435.9h.9v.9h-.9zM489.9 439.2h.9v.9h-.9zM502.0 435.4h.9v.9h-.9zM503.1 433.0h.9v.9h-.9zM493.1 426.0h.9v.9h-.9zM493.6 428.0h.9v.9h-.9zM491.2 450.5h.9v.9h-.9zM499.0 423.4h.9v.9h-.9zM498.7 421.7h.9v.9h-.9zM489.9 441.2h.9v.9h-.9zM490.7 438.8h.9v.9h-.9zM489.8 438.6h.9v.9h-.9zM489.5 444.4h.9v.9h-.9zM501.6 423.1h.9v.9h-.9zM493.5 427.9h.9v.9h-.9zM490.5 439.3h.9v.9h-.9zM501.3 441.1h.9v.9h-.9zM495.4 424.7h.9v.9h-.9zM490.0 445.9h.9v.9h-.9zM500.7 423.2h.9v.9h-.9zM502.2 432.8h.9v.9h-.9zM490.4 444.5h.9v.9h-.9zM498.4 448.2h.9v.9h-.9zM502.1 430.0h.9v.9h-.9zM501.0 424.7h.9v.9h-.9zM490.6 451.4h.9v.9h-.9zM492.6 429.3h.9v.9h-.9zM498.8 420.3h.9v.9h-.9zM502.0 429.5h.9v.9h-.9zM500.4 444.8h.9v.9h-.9zM499.7 445.7h.9v.9h-.9zM490.6 455.2h.9v.9h-.9zM502.0 426.9h.9v.9h-.9zM498.0 424.3h.9v.9h-.9zM500.6 425.0h.9v.9h-.9zM493.1 452.2h.9v.9h-.9zM499.0 422.8h.9v.9h-.9zM489.7 450.9h.9v.9h-.9zM492.2 454.6h.9v.9h-.9zM494.2 456.2h.9v.9h-.9zM490.2 440.2h.9v.9h-.9zM490.5 449.4h.9v.9h-.9zM490.5 435.2h.9v.9h-.9zM489.9 439.1h.9v.9h-.9zM490.3 438.4h.9v.9h-.9zM490.5 451.3h.9v.9h-.9zM498.3 423.2h.9v.9h-.9zM502.7 437.8h.9v.9h-.9zM493.8 453.0h.9v.9h-.9zM503.2 431.4h.9v.9h-.9zM490.0 442.3h.9v.9h-.9zM499.2 424.1h.9v.9h-.9zM490.4 437.9h.9v.9h-.9zM501.6 440.1h.9v.9h-.9zM495.8 425.8h.9v.9h-.9zM500.8 423.7h.9v.9h-.9zM490.6 436.7h.9v.9h-.9zM492.0 451.5h.9v.9h-.9zM501.1 426.3h.9v.9h-.9zM501.5 425.1h.9v.9h-.9zM502.1 431.4h.9v.9h-.9zM494.1 428.2h.9v.9h-.9zM501.4 425.4h.9v.9h-.9zM496.5 450.8h.9v.9h-.9zM493.3 452.1h.9v.9h-.9zM500.6 445.8h.9v.9h-.9zM499.7 423.4h.9v.9h-.9zM501.4 425.4h.9v.9h-.9zM490.7 434.9h.9v.9h-.9zM501.4 419.3h.9v.9h-.9zM497.3 423.2h.9v.9h-.9zM492.1 432.3h.9v.9h-.9zM503.6 430.9h.9v.9h-.9zM503.4 432.1h.9v.9h-.9zM491.9 452.7h.9v.9h-.9zM502.4 429.0h.9v.9h-.9zM489.1 452.0h.9v.9h-.9zM502.9 428.3h.9v.9h-.9zM498.2 424.1h.9v.9h-.9zM492.5 432.7h.9v.9h-.9zM502.0 427.4h.9v.9h-.9zM502.8 435.9h.9v.9h-.9zM491.5 451.3h.9v.9h-.9zM502.4 438.1h.9v.9h-.9zM495.2 451.5h.9v.9h-.9zM496.0 424.4h.9v.9h-.9zM492.6 431.6h.9v.9h-.9zM502.4 436.0h.9v.9h-.9zM500.1 444.1h.9v.9h-.9zM494.2 426.9h.9v.9h-.9zM492.4 452.5h.9v.9h-.9zM491.0 453.6h.9v.9h-.9zM491.3 450.2h.9v.9h-.9zM491.2 435.6h.9v.9h-.9zM500.7 424.9h.9v.9h-.9zM501.6 437.3h.9v.9h-.9zM502.3 430.4h.9v.9h-.9zM490.3 445.6h.9v.9h-.9zM489.8 447.8h.9v.9h-.9zM500.4 423.3h.9v.9h-.9zM502.9 434.3h.9v.9h-.9zM501.2 426.2h.9v.9h-.9zM498.5 423.5h.9v.9h-.9zM502.2 428.7h.9v.9h-.9zM502.2 440.6h.9v.9h-.9zM493.3 427.9h.9v.9h-.9zM498.0 422.6h.9v.9h-.9zM502.3 435.6h.9v.9h-.9zM490.7 437.2h.9v.9h-.9zM499.9 446.6h.9v.9h-.9zM501.8 426.1h.9v.9h-.9zM503.2 428.6h.9v.9h-.9zM499.4 448.1h.9v.9h-.9zM500.0 424.2h.9v.9h-.9zM495.0 423.5h.9v.9h-.9zM493.2 429.5h.9v.9h-.9zM492.4 430.2h.9v.9h-.9zM502.2 427.3h.9v.9h-.9zM495.5 425.5h.9v.9h-.9zM491.6 451.7h.9v.9h-.9zM501.1 424.0h.9v.9h-.9zM490.8 449.8h.9v.9h-.9zM497.6 450.0h.9v.9h-.9zM492.7 454.8h.9v.9h-.9zM501.2 424.0h.9v.9h-.9zM493.6 429.1h.9v.9h-.9zM495.3 422.5h.9v.9h-.9zM492.7 431.1h.9v.9h-.9zM502.6 429.1h.9v.9h-.9zM501.1 425.4h.9v.9h-.9zM489.5 443.7h.9v.9h-.9zM492.8 431.4h.9v.9h-.9zM495.1 456.9h.9v.9h-.9zM493.0 426.2h.9v.9h-.9zM491.5 450.0h.9v.9h-.9zM490.0 449.3h.9v.9h-.9zM496.1 453.1h.9v.9h-.9zM496.1 452.7h.9v.9h-.9zM498.4 423.8h.9v.9h-.9zM501.7 424.1h.9v.9h-.9zM502.8 433.9h.9v.9h-.9zM491.5 451.3h.9v.9h-.9zM501.9 428.6h.9v.9h-.9zM503.2 432.5h.9v.9h-.9zM491.6 434.7h.9v.9h-.9zM495.2 451.4h.9v.9h-.9zM491.8 430.3h.9v.9h-.9zM491.3 434.2h.9v.9h-.9zM491.7 450.9h.9v.9h-.9zM492.9 453.4h.9v.9h-.9zM498.1 448.5h.9v.9h-.9zM491.4 436.3h.9v.9h-.9zM502.7 432.6h.9v.9h-.9zM490.5 436.9h.9v.9h-.9zM501.3 443.2h.9v.9h-.9zM501.5 422.9h.9v.9h-.9zM497.2 449.8h.9v.9h-.9zM496.1 453.2h.9v.9h-.9zM490.5 446.4h.9v.9h-.9zM503.7 434.3h.9v.9h-.9zM492.7 452.4h.9v.9h-.9zM495.6 452.1h.9v.9h-.9zM495.0 452.2h.9v.9h-.9zM498.3 449.2h.9v.9h-.9zM493.2 429.9h.9v.9h-.9zM501.7 440.4h.9v.9h-.9zM502.5 428.2h.9v.9h-.9zM493.2 452.5h.9v.9h-.9zM501.8 426.6h.9v.9h-.9zM497.3 423.2h.9v.9h-.9zM500.7 443.8h.9v.9h-.9zM499.4 423.8h.9v.9h-.9zM490.3 443.4h.9v.9h-.9zM501.5 426.1h.9v.9h-.9zM491.1 449.3h.9v.9h-.9zM493.9 427.5h.9v.9h-.9zM492.3 431.3h.9v.9h-.9zM501.8 427.0h.9v.9h-.9zM500.9 424.2h.9v.9h-.9zM499.9 444.1h.9v.9h-.9zM497.2 451.1h.9v.9h-.9zM489.5 441.4h.9v.9h-.9zM491.5 434.0h.9v.9h-.9zM503.0 428.1h.9v.9h-.9zM498.0 448.8h.9v.9h-.9zM490.1 450.6h.9v.9h-.9zM489.3 440.2h.9v.9h-.9zM489.5 443.5h.9v.9h-.9zM501.3 444.7h.9v.9h-.9zM492.2 452.9h.9v.9h-.9zM496.5 453.0h.9v.9h-.9zM502.0 423.7h.9v.9h-.9zM502.5 432.2h.9v.9h-.9zM491.2 450.4h.9v.9h-.9zM496.0 420.8h.9v.9h-.9zM498.6 447.9h.9v.9h-.9zM500.8 441.7h.9v.9h-.9zM502.9 425.4h.9v.9h-.9zM495.7 426.3h.9v.9h-.9zM502.4 428.1h.9v.9h-.9zM502.6 434.8h.9v.9h-.9zM497.1 424.7h.9v.9h-.9zM501.9 437.1h.9v.9h-.9zM496.5 450.9h.9v.9h-.9zM501.8 439.2h.9v.9h-.9zM502.2 425.6h.9v.9h-.9zM502.3 436.9h.9v.9h-.9zM489.9 436.4h.9v.9h-.9zM497.2 450.1h.9v.9h-.9zM502.8 435.6h.9v.9h-.9zM490.2 441.5h.9v.9h-.9zM502.9 432.1h.9v.9h-.9zM501.8 440.7h.9v.9h-.9zM496.3 454.9h.9v.9h-.9zM495.4 452.4h.9v.9h-.9zM498.1 419.6h.9v.9h-.9zM497.1 424.7h.9v.9h-.9zM490.3 442.2h.9v.9h-.9zM500.9 443.9h.9v.9h-.9zM489.3 438.8h.9v.9h-.9zM491.9 451.3h.9v.9h-.9zM497.7 423.9h.9v.9h-.9zM501.9 421.2h.9v.9h-.9zM489.9 440.8h.9v.9h-.9zM487.8 444.6h.9v.9h-.9zM501.2 425.7h.9v.9h-.9zM500.6 422.9h.9v.9h-.9zM501.3 424.4h.9v.9h-.9zM497.4 424.5h.9v.9h-.9zM492.7 452.7h.9v.9h-.9zM497.9 449.1h.9v.9h-.9zM488.6 443.7h.9v.9h-.9zM491.9 429.9h.9v.9h-.9zM501.6 426.9h.9v.9h-.9zM491.1 451.0h.9v.9h-.9zM489.3 448.9h.9v.9h-.9zM494.5 454.2h.9v.9h-.9zM503.1 428.9h.9v.9h-.9zM494.4 426.5h.9v.9h-.9zM500.2 421.8h.9v.9h-.9zM494.1 427.9h.9v.9h-.9zM492.9 454.6h.9v.9h-.9zM489.3 445.2h.9v.9h-.9zM496.7 450.7h.9v.9h-.9zM497.6 450.4h.9v.9h-.9zM503.4 429.9h.9v.9h-.9zM502.7 436.5h.9v.9h-.9zM498.3 448.0h.9v.9h-.9zM499.2 448.1h.9v.9h-.9zM503.0 434.7h.9v.9h-.9zM497.2 422.4h.9v.9h-.9zM502.3 431.3h.9v.9h-.9zM503.8 422.0h.9v.9h-.9zM500.5 446.9h.9v.9h-.9zM495.7 454.2h.9v.9h-.9zM493.8 454.5h.9v.9h-.9zM490.5 441.1h.9v.9h-.9zM494.2 453.3h.9v.9h-.9zM490.5 449.0h.9v.9h-.9zM489.4 446.6h.9v.9h-.9zM493.3 425.5h.9v.9h-.9zM502.3 436.4h.9v.9h-.9zM502.9 435.1h.9v.9h-.9zM502.8 431.6h.9v.9h-.9zM495.0 426.3h.9v.9h-.9zM491.6 451.0h.9v.9h-.9zM501.2 423.3h.9v.9h-.9zM492.3 433.1h.9v.9h-.9zM502.6 431.2h.9v.9h-.9zM501.3 438.8h.9v.9h-.9zM502.2 435.6h.9v.9h-.9zM493.6 451.7h.9v.9h-.9zM490.3 436.9h.9v.9h-.9zM489.9 440.9h.9v.9h-.9zM490.1 444.3h.9v.9h-.9zM490.9 436.2h.9v.9h-.9zM499.5 446.3h.9v.9h-.9zM501.6 425.7h.9v.9h-.9zM490.3 447.8h.9v.9h-.9zM502.6 428.1h.9v.9h-.9zM498.3 421.4h.9v.9h-.9zM494.8 427.5h.9v.9h-.9zM495.0 451.7h.9v.9h-.9zM490.3 448.9h.9v.9h-.9zM491.2 436.5h.9v.9h-.9zM490.0 448.4h.9v.9h-.9zM494.6 427.5h.9v.9h-.9zM498.7 420.7h.9v.9h-.9zM490.4 448.7h.9v.9h-.9zM495.1 452.3h.9v.9h-.9zM495.7 451.2h.9v.9h-.9zM501.5 423.6h.9v.9h-.9zM493.9 428.4h.9v.9h-.9zM490.5 444.7h.9v.9h-.9zM500.4 422.7h.9v.9h-.9zM501.1 425.7h.9v.9h-.9zM497.9 449.9h.9v.9h-.9zM495.7 422.5h.9v.9h-.9zM498.4 422.0h.9v.9h-.9zM499.1 422.3h.9v.9h-.9zM497.4 450.5h.9v.9h-.9zM494.2 453.2h.9v.9h-.9zM491.7 432.6h.9v.9h-.9zM497.6 450.5h.9v.9h-.9zM490.1 437.7h.9v.9h-.9zM503.5 433.2h.9v.9h-.9zM490.3 449.7h.9v.9h-.9zM496.7 422.5h.9v.9h-.9zM499.5 420.9h.9v.9h-.9zM493.7 429.0h.9v.9h-.9zM489.5 454.0h.9v.9h-.9zM497.4 447.7h.9v.9h-.9zM496.1 444.1h.9v.9h-.9zM497.1 450.1h.9v.9h-.9zM497.2 452.9h.9v.9h-.9zM493.0 464.1h.9v.9h-.9zM496.1 457.4h.9v.9h-.9zM497.0 448.9h.9v.9h-.9zM493.7 442.0h.9v.9h-.9zM493.2 459.7h.9v.9h-.9zM489.2 454.8h.9v.9h-.9zM496.8 447.7h.9v.9h-.9zM497.7 452.0h.9v.9h-.9zM496.6 447.0h.9v.9h-.9zM492.4 460.4h.9v.9h-.9zM494.3 458.7h.9v.9h-.9zM489.4 459.9h.9v.9h-.9zM496.6 453.5h.9v.9h-.9zM494.1 444.2h.9v.9h-.9zM494.7 442.2h.9v.9h-.9zM488.7 459.0h.9v.9h-.9zM491.9 447.2h.9v.9h-.9zM491.2 460.9h.9v.9h-.9zM489.4 454.6h.9v.9h-.9zM496.8 455.6h.9v.9h-.9zM491.8 446.7h.9v.9h-.9zM497.2 448.3h.9v.9h-.9zM490.0 459.3h.9v.9h-.9zM497.0 447.5h.9v.9h-.9zM494.3 445.1h.9v.9h-.9zM491.2 445.3h.9v.9h-.9zM495.1 457.5h.9v.9h-.9zM495.8 444.9h.9v.9h-.9zM494.4 459.4h.9v.9h-.9zM493.3 445.0h.9v.9h-.9zM497.1 455.4h.9v.9h-.9zM496.2 444.8h.9v.9h-.9zM496.3 446.1h.9v.9h-.9zM497.6 448.7h.9v.9h-.9zM495.4 444.4h.9v.9h-.9zM495.2 458.5h.9v.9h-.9zM489.8 458.0h.9v.9h-.9zM496.4 444.9h.9v.9h-.9zM497.3 455.5h.9v.9h-.9zM495.4 457.0h.9v.9h-.9zM496.1 444.6h.9v.9h-.9zM491.3 448.0h.9v.9h-.9zM489.7 457.3h.9v.9h-.9zM493.8 459.3h.9v.9h-.9zM494.8 459.1h.9v.9h-.9zM497.4 451.7h.9v.9h-.9zM491.7 460.2h.9v.9h-.9zM497.4 447.5h.9v.9h-.9zM489.0 457.9h.9v.9h-.9zM498.4 448.6h.9v.9h-.9zM493.2 459.5h.9v.9h-.9zM489.5 461.4h.9v.9h-.9zM492.1 462.2h.9v.9h-.9zM490.6 449.7h.9v.9h-.9zM494.1 459.9h.9v.9h-.9zM493.9 443.6h.9v.9h-.9zM494.7 458.0h.9v.9h-.9zM488.9 457.1h.9v.9h-.9zM497.2 447.9h.9v.9h-.9zM492.9 460.2h.9v.9h-.9zM491.8 461.3h.9v.9h-.9zM491.8 460.6h.9v.9h-.9zM493.6 460.4h.9v.9h-.9zM498.4 448.7h.9v.9h-.9zM489.7 454.3h.9v.9h-.9zM497.4 449.0h.9v.9h-.9zM493.0 445.8h.9v.9h-.9zM495.5 457.6h.9v.9h-.9zM497.2 452.2h.9v.9h-.9zM493.8 460.0h.9v.9h-.9zM490.0 460.3h.9v.9h-.9zM497.1 449.4h.9v.9h-.9zM494.9 444.7h.9v.9h-.9zM490.9 448.2h.9v.9h-.9zM489.4 455.9h.9v.9h-.9zM494.9 459.1h.9v.9h-.9zM495.8 456.5h.9v.9h-.9zM495.9 444.0h.9v.9h-.9zM494.4 445.0h.9v.9h-.9zM498.0 448.7h.9v.9h-.9zM496.4 454.7h.9v.9h-.9zM492.4 459.9h.9v.9h-.9zM493.2 444.9h.9v.9h-.9zM489.6 456.8h.9v.9h-.9zM496.8 445.4h.9v.9h-.9zM495.4 458.3h.9v.9h-.9zM490.6 448.0h.9v.9h-.9zM489.7 453.3h.9v.9h-.9zM497.4 452.6h.9v.9h-.9zM489.9 458.1h.9v.9h-.9zM489.6 458.1h.9v.9h-.9zM495.5 457.2h.9v.9h-.9zM492.9 446.0h.9v.9h-.9zM489.4 452.7h.9v.9h-.9zM491.2 446.6h.9v.9h-.9zM493.6 444.9h.9v.9h-.9zM489.2 452.1h.9v.9h-.9zM493.9 460.7h.9v.9h-.9zM494.1 444.1h.9v.9h-.9zM489.6 453.4h.9v.9h-.9zM489.8 451.3h.9v.9h-.9zM489.7 457.3h.9v.9h-.9zM496.8 452.6h.9v.9h-.9zM491.2 460.1h.9v.9h-.9zM497.8 446.1h.9v.9h-.9zM493.5 444.8h.9v.9h-.9zM496.0 456.2h.9v.9h-.9zM495.9 444.7h.9v.9h-.9zM497.7 450.0h.9v.9h-.9zM497.5 452.4h.9v.9h-.9zM497.3 447.9h.9v.9h-.9zM497.2 450.8h.9v.9h-.9zM497.9 449.8h.9v.9h-.9zM489.2 460.6h.9v.9h-.9zM497.9 452.5h.9v.9h-.9zM489.7 454.0h.9v.9h-.9zM497.0 446.4h.9v.9h-.9zM494.5 445.1h.9v.9h-.9zM493.0 459.7h.9v.9h-.9zM496.9 451.9h.9v.9h-.9zM489.2 458.8h.9v.9h-.9zM492.0 446.5h.9v.9h-.9zM497.6 449.2h.9v.9h-.9zM498.6 452.2h.9v.9h-.9zM497.1 451.5h.9v.9h-.9zM491.0 448.7h.9v.9h-.9zM489.7 459.7h.9v.9h-.9zM491.3 448.4h.9v.9h-.9zM489.6 451.4h.9v.9h-.9zM495.5 445.2h.9v.9h-.9zM483.7 485.0h.9v.9h-.9zM475.3 474.9h.9v.9h-.9zM482.9 466.5h.9v.9h-.9zM484.9 466.0h.9v.9h-.9zM487.5 465.2h.9v.9h-.9zM487.2 472.4h.9v.9h-.9zM480.1 468.4h.9v.9h-.9zM472.3 484.1h.9v.9h-.9zM486.8 467.9h.9v.9h-.9zM475.6 471.7h.9v.9h-.9zM470.5 489.9h.9v.9h-.9zM486.9 475.9h.9v.9h-.9zM486.5 480.8h.9v.9h-.9zM479.2 490.1h.9v.9h-.9zM483.3 486.4h.9v.9h-.9zM489.1 467.4h.9v.9h-.9zM486.1 478.6h.9v.9h-.9zM483.6 465.7h.9v.9h-.9zM481.5 487.8h.9v.9h-.9zM487.3 473.9h.9v.9h-.9zM482.1 466.7h.9v.9h-.9zM485.6 466.9h.9v.9h-.9zM484.6 464.4h.9v.9h-.9zM488.3 476.2h.9v.9h-.9zM477.4 491.3h.9v.9h-.9zM480.5 466.4h.9v.9h-.9zM474.0 476.4h.9v.9h-.9zM474.1 490.6h.9v.9h-.9zM474.9 491.7h.9v.9h-.9zM475.0 495.5h.9v.9h-.9zM477.2 491.2h.9v.9h-.9zM481.3 466.3h.9v.9h-.9zM489.5 467.9h.9v.9h-.9zM487.1 476.2h.9v.9h-.9zM486.8 476.4h.9v.9h-.9zM469.6 488.0h.9v.9h-.9zM487.9 470.4h.9v.9h-.9zM472.1 485.0h.9v.9h-.9zM474.9 473.2h.9v.9h-.9zM473.2 476.5h.9v.9h-.9zM473.3 490.7h.9v.9h-.9zM475.6 491.9h.9v.9h-.9zM486.3 477.7h.9v.9h-.9zM486.4 468.6h.9v.9h-.9zM479.0 469.0h.9v.9h-.9zM486.5 469.1h.9v.9h-.9zM488.8 471.3h.9v.9h-.9zM488.3 465.9h.9v.9h-.9zM473.7 478.7h.9v.9h-.9zM487.4 466.0h.9v.9h-.9zM484.6 484.9h.9v.9h-.9zM487.9 477.3h.9v.9h-.9zM481.9 489.9h.9v.9h-.9zM478.6 492.4h.9v.9h-.9zM488.7 471.1h.9v.9h-.9zM477.8 469.8h.9v.9h-.9zM474.5 473.9h.9v.9h-.9zM478.9 490.6h.9v.9h-.9zM473.5 491.3h.9v.9h-.9zM486.5 483.5h.9v.9h-.9zM483.5 488.4h.9v.9h-.9zM483.7 464.7h.9v.9h-.9zM472.0 481.2h.9v.9h-.9zM478.2 469.7h.9v.9h-.9zM480.8 490.4h.9v.9h-.9zM486.0 467.4h.9v.9h-.9zM487.1 468.3h.9v.9h-.9zM471.8 486.2h.9v.9h-.9zM486.1 467.9h.9v.9h-.9zM475.7 473.8h.9v.9h-.9zM477.4 471.2h.9v.9h-.9zM476.0 473.3h.9v.9h-.9zM477.4 491.1h.9v.9h-.9zM475.0 474.3h.9v.9h-.9zM472.8 480.3h.9v.9h-.9zM476.1 470.1h.9v.9h-.9zM479.1 465.5h.9v.9h-.9zM482.0 488.3h.9v.9h-.9zM477.0 493.1h.9v.9h-.9zM481.9 487.6h.9v.9h-.9zM479.8 489.7h.9v.9h-.9zM485.1 464.0h.9v.9h-.9zM487.6 467.9h.9v.9h-.9zM486.4 477.5h.9v.9h-.9zM474.0 494.1h.9v.9h-.9zM489.5 473.5h.9v.9h-.9zM482.8 486.5h.9v.9h-.9zM485.7 464.9h.9v.9h-.9zM473.9 492.6h.9v.9h-.9zM471.3 486.2h.9v.9h-.9zM472.1 480.0h.9v.9h-.9zM487.6 468.7h.9v.9h-.9zM483.1 466.2h.9v.9h-.9zM484.2 466.2h.9v.9h-.9zM485.1 482.4h.9v.9h-.9zM489.2 471.6h.9v.9h-.9zM483.1 464.9h.9v.9h-.9zM474.3 490.8h.9v.9h-.9zM474.4 474.5h.9v.9h-.9zM471.8 489.7h.9v.9h-.9zM481.6 488.3h.9v.9h-.9zM475.6 493.5h.9v.9h-.9zM472.4 482.3h.9v.9h-.9zM475.8 492.4h.9v.9h-.9zM476.0 473.3h.9v.9h-.9zM487.5 475.8h.9v.9h-.9zM480.0 466.8h.9v.9h-.9zM486.8 480.4h.9v.9h-.9zM487.2 473.6h.9v.9h-.9zM473.8 491.5h.9v.9h-.9zM485.1 482.6h.9v.9h-.9zM481.9 466.9h.9v.9h-.9zM472.7 488.5h.9v.9h-.9zM484.2 465.5h.9v.9h-.9zM476.1 492.7h.9v.9h-.9zM472.4 492.1h.9v.9h-.9zM471.5 489.0h.9v.9h-.9zM482.8 465.6h.9v.9h-.9zM483.8 484.2h.9v.9h-.9zM477.1 470.3h.9v.9h-.9zM474.5 491.3h.9v.9h-.9zM476.6 470.4h.9v.9h-.9zM481.4 490.0h.9v.9h-.9zM481.7 488.9h.9v.9h-.9zM486.3 463.7h.9v.9h-.9zM477.8 494.5h.9v.9h-.9zM472.7 494.8h.9v.9h-.9zM484.4 465.2h.9v.9h-.9zM470.4 480.5h.9v.9h-.9zM487.8 474.4h.9v.9h-.9zM475.4 473.9h.9v.9h-.9zM474.5 492.1h.9v.9h-.9zM488.5 467.9h.9v.9h-.9zM471.9 488.0h.9v.9h-.9zM474.4 490.9h.9v.9h-.9zM486.9 469.5h.9v.9h-.9zM470.1 497.0h.9v.9h-.9zM483.9 464.3h.9v.9h-.9zM479.0 491.3h.9v.9h-.9zM480.7 489.3h.9v.9h-.9zM484.8 466.1h.9v.9h-.9zM486.4 465.3h.9v.9h-.9zM486.2 481.1h.9v.9h-.9zM478.6 491.6h.9v.9h-.9zM487.0 471.1h.9v.9h-.9zM479.3 493.1h.9v.9h-.9zM481.0 488.4h.9v.9h-.9zM478.8 467.6h.9v.9h-.9zM484.4 485.8h.9v.9h-.9zM484.7 482.3h.9v.9h-.9zM485.7 481.5h.9v.9h-.9zM489.0 469.0h.9v.9h-.9zM475.9 492.1h.9v.9h-.9zM477.0 470.1h.9v.9h-.9zM486.9 469.9h.9v.9h-.9zM487.3 475.3h.9v.9h-.9zM482.9 466.6h.9v.9h-.9zM487.2 475.3h.9v.9h-.9zM483.5 485.8h.9v.9h-.9zM484.0 465.1h.9v.9h-.9zM479.9 467.7h.9v.9h-.9zM476.9 492.1h.9v.9h-.9zM472.4 479.3h.9v.9h-.9zM472.8 493.0h.9v.9h-.9zM476.5 472.7h.9v.9h-.9zM478.3 491.2h.9v.9h-.9zM470.3 485.4h.9v.9h-.9zM488.7 464.7h.9v.9h-.9zM487.4 469.3h.9v.9h-.9zM479.8 489.6h.9v.9h-.9zM474.0 492.5h.9v.9h-.9zM470.6 487.7h.9v.9h-.9zM474.7 475.1h.9v.9h-.9zM485.2 466.4h.9v.9h-.9zM473.5 478.6h.9v.9h-.9zM472.2 483.2h.9v.9h-.9zM475.9 491.7h.9v.9h-.9zM472.8 494.3h.9v.9h-.9zM473.5 491.4h.9v.9h-.9zM473.2 494.0h.9v.9h-.9zM474.6 475.6h.9v.9h-.9zM486.4 466.4h.9v.9h-.9zM476.2 470.6h.9v.9h-.9zM472.9 489.3h.9v.9h-.9zM485.2 465.2h.9v.9h-.9zM484.4 484.4h.9v.9h-.9zM479.6 491.6h.9v.9h-.9zM480.8 489.7h.9v.9h-.9zM472.5 489.4h.9v.9h-.9zM483.9 465.6h.9v.9h-.9zM485.0 466.4h.9v.9h-.9zM472.6 477.7h.9v.9h-.9zM474.9 494.2h.9v.9h-.9zM487.4 475.9h.9v.9h-.9zM472.3 488.6h.9v.9h-.9zM473.4 478.3h.9v.9h-.9zM481.5 489.0h.9v.9h-.9zM481.0 489.3h.9v.9h-.9zM487.4 474.5h.9v.9h-.9zM474.2 494.1h.9v.9h-.9zM488.4 476.1h.9v.9h-.9zM475.7 472.3h.9v.9h-.9zM482.5 486.4h.9v.9h-.9zM481.3 466.5h.9v.9h-.9zM486.5 467.8h.9v.9h-.9zM487.0 465.5h.9v.9h-.9zM486.1 466.0h.9v.9h-.9zM481.5 490.0h.9v.9h-.9zM487.7 473.5h.9v.9h-.9zM473.1 491.4h.9v.9h-.9zM477.3 492.6h.9v.9h-.9zM477.7 491.5h.9v.9h-.9zM477.2 470.2h.9v.9h-.9zM482.9 465.8h.9v.9h-.9zM472.0 484.6h.9v.9h-.9zM481.9 488.4h.9v.9h-.9zM472.7 487.3h.9v.9h-.9zM472.6 487.4h.9v.9h-.9zM476.0 492.6h.9v.9h-.9zM472.4 484.8h.9v.9h-.9zM475.6 473.7h.9v.9h-.9zM488.9 463.6h.9v.9h-.9zM487.8 473.1h.9v.9h-.9zM481.5 466.6h.9v.9h-.9zM472.9 493.8h.9v.9h-.9zM472.8 477.8h.9v.9h-.9zM473.4 477.6h.9v.9h-.9zM473.7 492.8h.9v.9h-.9zM488.8 469.9h.9v.9h-.9zM474.9 473.1h.9v.9h-.9zM479.2 468.4h.9v.9h-.9zM489.5 468.1h.9v.9h-.9zM487.4 470.3h.9v.9h-.9zM481.4 464.8h.9v.9h-.9zM487.2 472.5h.9v.9h-.9zM477.7 492.0h.9v.9h-.9zM488.0 471.2h.9v.9h-.9zM487.1 469.0h.9v.9h-.9zM486.5 467.8h.9v.9h-.9zM481.5 490.3h.9v.9h-.9zM487.7 473.0h.9v.9h-.9zM481.8 466.3h.9v.9h-.9zM475.8 470.8h.9v.9h-.9zM481.5 467.0h.9v.9h-.9zM470.6 484.1h.9v.9h-.9zM476.2 473.1h.9v.9h-.9zM472.2 482.7h.9v.9h-.9zM488.2 473.9h.9v.9h-.9zM472.5 491.8h.9v.9h-.9zM486.9 465.2h.9v.9h-.9zM471.3 490.1h.9v.9h-.9zM487.0 470.8h.9v.9h-.9zM488.7 463.7h.9v.9h-.9zM477.6 493.1h.9v.9h-.9zM484.5 485.0h.9v.9h-.9zM476.9 467.9h.9v.9h-.9zM471.9 485.8h.9v.9h-.9zM486.6 476.6h.9v.9h-.9zM474.7 494.1h.9v.9h-.9zM476.3 472.6h.9v.9h-.9zM482.6 463.6h.9v.9h-.9zM487.2 467.2h.9v.9h-.9zM474.8 494.0h.9v.9h-.9zM481.9 489.0h.9v.9h-.9zM471.7 484.2h.9v.9h-.9zM478.8 491.1h.9v.9h-.9zM480.6 466.6h.9v.9h-.9zM472.5 483.1h.9v.9h-.9zM486.2 465.9h.9v.9h-.9zM487.0 473.7h.9v.9h-.9zM479.3 468.4h.9v.9h-.9zM487.8 471.8h.9v.9h-.9zM472.8 479.8h.9v.9h-.9zM473.5 493.8h.9v.9h-.9zM484.3 463.9h.9v.9h-.9zM489.4 470.2h.9v.9h-.9zM476.8 492.5h.9v.9h-.9zM483.5 488.0h.9v.9h-.9zM476.8 491.7h.9v.9h-.9zM484.0 483.8h.9v.9h-.9zM480.8 466.9h.9v.9h-.9zM479.5 491.6h.9v.9h-.9zM470.2 489.4h.9v.9h-.9zM472.0 490.7h.9v.9h-.9zM472.4 477.3h.9v.9h-.9zM477.4 469.6h.9v.9h-.9zM486.7 477.6h.9v.9h-.9zM481.7 488.8h.9v.9h-.9zM481.0 489.1h.9v.9h-.9zM479.2 490.7h.9v.9h-.9zM472.7 489.9h.9v.9h-.9zM476.5 472.3h.9v.9h-.9zM473.5 493.8h.9v.9h-.9zM476.5 471.9h.9v.9h-.9zM473.7 491.0h.9v.9h-.9zM483.3 464.2h.9v.9h-.9zM485.3 483.2h.9v.9h-.9zM487.6 467.7h.9v.9h-.9zM480.4 489.7h.9v.9h-.9zM472.3 483.0h.9v.9h-.9zM473.4 478.7h.9v.9h-.9zM476.3 473.0h.9v.9h-.9zM473.4 496.7h.9v.9h-.9zM471.9 481.9h.9v.9h-.9zM483.8 485.7h.9v.9h-.9zM474.8 475.6h.9v.9h-.9zM487.7 469.9h.9v.9h-.9zM481.6 465.8h.9v.9h-.9zM474.0 475.3h.9v.9h-.9zM474.5 476.5h.9v.9h-.9zM472.3 488.2h.9v.9h-.9zM483.1 466.7h.9v.9h-.9zM477.8 470.8h.9v.9h-.9zM471.8 495.4h.9v.9h-.9zM476.0 473.6h.9v.9h-.9zM487.6 469.9h.9v.9h-.9zM473.6 490.2h.9v.9h-.9zM472.2 488.6h.9v.9h-.9zM472.1 483.6h.9v.9h-.9zM470.8 484.8h.9v.9h-.9zM488.1 467.1h.9v.9h-.9zM478.5 493.0h.9v.9h-.9zM473.3 478.8h.9v.9h-.9zM471.2 493.0h.9v.9h-.9zM484.2 466.5h.9v.9h-.9zM478.6 465.7h.9v.9h-.9zM484.7 463.6h.9v.9h-.9zM473.2 479.0h.9v.9h-.9zM486.5 468.4h.9v.9h-.9zM472.8 489.6h.9v.9h-.9zM480.3 490.6h.9v.9h-.9zM472.6 482.5h.9v.9h-.9zM487.5 466.5h.9v.9h-.9zM473.0 489.5h.9v.9h-.9zM475.9 492.8h.9v.9h-.9zM482.6 487.9h.9v.9h-.9zM470.7 494.0h.9v.9h-.9zM483.7 484.4h.9v.9h-.9zM489.9 466.9h.9v.9h-.9zM487.6 469.6h.9v.9h-.9zM482.5 466.4h.9v.9h-.9zM484.1 484.8h.9v.9h-.9zM481.3 489.2h.9v.9h-.9zM481.7 491.2h.9v.9h-.9zM484.9 482.9h.9v.9h-.9zM480.6 467.1h.9v.9h-.9zM475.6 474.4h.9v.9h-.9zM475.8 493.0h.9v.9h-.9zM476.8 470.4h.9v.9h-.9zM474.9 492.1h.9v.9h-.9zM480.9 489.5h.9v.9h-.9zM483.3 486.4h.9v.9h-.9zM471.9 482.8h.9v.9h-.9zM481.5 467.4h.9v.9h-.9zM473.6 477.8h.9v.9h-.9zM487.9 475.9h.9v.9h-.9zM488.1 469.0h.9v.9h-.9zM477.4 493.2h.9v.9h-.9zM488.3 470.7h.9v.9h-.9zM486.0 465.6h.9v.9h-.9zM488.2 463.3h.9v.9h-.9zM479.7 490.4h.9v.9h-.9zM484.9 466.3h.9v.9h-.9zM471.6 482.3h.9v.9h-.9zM480.5 491.5h.9v.9h-.9zM472.7 491.9h.9v.9h-.9zM483.2 464.7h.9v.9h-.9zM475.3 474.9h.9v.9h-.9zM475.1 474.1h.9v.9h-.9zM485.3 483.7h.9v.9h-.9zM481.5 490.7h.9v.9h-.9zM480.5 490.2h.9v.9h-.9zM481.3 488.2h.9v.9h-.9zM473.7 476.8h.9v.9h-.9zM472.0 482.3h.9v.9h-.9zM479.7 494.0h.9v.9h-.9zM471.7 486.3h.9v.9h-.9zM477.7 469.1h.9v.9h-.9zM474.0 493.3h.9v.9h-.9zM485.8 466.3h.9v.9h-.9zM482.9 486.8h.9v.9h-.9zM475.4 494.5h.9v.9h-.9zM471.4 479.9h.9v.9h-.9zM488.6 473.6h.9v.9h-.9zM488.6 474.5h.9v.9h-.9zM487.8 469.0h.9v.9h-.9zM487.6 474.7h.9v.9h-.9zM478.2 468.0h.9v.9h-.9zM471.9 481.6h.9v.9h-.9zM481.4 488.9h.9v.9h-.9zM477.9 470.5h.9v.9h-.9zM480.2 490.7h.9v.9h-.9zM472.9 481.7h.9v.9h-.9zM474.1 476.4h.9v.9h-.9zM472.1 486.9h.9v.9h-.9zM470.7 487.6h.9v.9h-.9zM476.7 471.4h.9v.9h-.9zM477.1 493.1h.9v.9h-.9zM486.2 465.5h.9v.9h-.9zM486.5 479.6h.9v.9h-.9zM487.9 477.9h.9v.9h-.9zM473.2 479.4h.9v.9h-.9zM483.1 486.5h.9v.9h-.9zM477.5 470.9h.9v.9h-.9zM479.8 468.7h.9v.9h-.9zM482.5 490.5h.9v.9h-.9zM486.8 479.2h.9v.9h-.9zM485.6 480.3h.9v.9h-.9zM484.9 479.3h.9v.9h-.9zM480.2 466.5h.9v.9h-.9zM486.6 475.5h.9v.9h-.9zM476.2 472.0h.9v.9h-.9zM475.6 477.1h.9v.9h-.9zM480.8 464.9h.9v.9h-.9zM484.0 478.6h.9v.9h-.9zM487.7 467.1h.9v.9h-.9zM482.4 479.5h.9v.9h-.9zM478.2 467.2h.9v.9h-.9zM485.5 465.3h.9v.9h-.9zM477.2 477.8h.9v.9h-.9zM487.9 474.4h.9v.9h-.9zM479.6 480.5h.9v.9h-.9zM477.3 467.2h.9v.9h-.9zM477.1 478.9h.9v.9h-.9zM480.8 464.3h.9v.9h-.9zM481.0 480.4h.9v.9h-.9zM482.6 464.0h.9v.9h-.9zM488.4 472.1h.9v.9h-.9zM474.6 472.9h.9v.9h-.9zM476.3 473.1h.9v.9h-.9zM477.0 477.1h.9v.9h-.9zM486.3 465.6h.9v.9h-.9zM487.1 477.3h.9v.9h-.9zM484.1 478.7h.9v.9h-.9zM478.9 467.4h.9v.9h-.9zM476.9 479.8h.9v.9h-.9zM486.0 476.4h.9v.9h-.9zM490.2 471.1h.9v.9h-.9zM488.7 467.6h.9v.9h-.9zM479.6 479.8h.9v.9h-.9zM488.0 470.1h.9v.9h-.9zM482.4 479.2h.9v.9h-.9zM476.3 478.9h.9v.9h-.9zM487.9 475.6h.9v.9h-.9zM487.4 468.0h.9v.9h-.9zM474.5 471.4h.9v.9h-.9zM480.4 465.6h.9v.9h-.9zM476.9 477.6h.9v.9h-.9zM475.5 470.4h.9v.9h-.9zM484.4 478.2h.9v.9h-.9zM475.4 479.3h.9v.9h-.9zM485.9 466.1h.9v.9h-.9zM477.9 478.5h.9v.9h-.9zM481.0 464.5h.9v.9h-.9zM478.4 480.2h.9v.9h-.9zM480.8 479.9h.9v.9h-.9zM479.5 479.6h.9v.9h-.9zM479.0 479.6h.9v.9h-.9zM476.3 471.2h.9v.9h-.9zM477.8 468.5h.9v.9h-.9zM480.8 481.4h.9v.9h-.9zM476.3 475.8h.9v.9h-.9zM482.0 464.6h.9v.9h-.9zM481.0 466.1h.9v.9h-.9zM486.7 465.8h.9v.9h-.9zM481.2 464.6h.9v.9h-.9zM476.1 473.2h.9v.9h-.9zM481.3 463.6h.9v.9h-.9zM482.2 465.1h.9v.9h-.9zM487.0 465.1h.9v.9h-.9zM478.7 467.3h.9v.9h-.9zM476.1 477.9h.9v.9h-.9zM488.8 467.7h.9v.9h-.9zM477.1 478.3h.9v.9h-.9zM476.3 474.0h.9v.9h-.9zM475.4 473.3h.9v.9h-.9zM477.4 478.8h.9v.9h-.9zM476.4 470.1h.9v.9h-.9zM477.3 478.1h.9v.9h-.9zM484.8 478.5h.9v.9h-.9zM484.0 464.6h.9v.9h-.9zM477.9 468.6h.9v.9h-.9zM480.4 466.4h.9v.9h-.9zM476.2 476.5h.9v.9h-.9zM480.5 479.6h.9v.9h-.9zM474.3 475.8h.9v.9h-.9zM477.7 478.1h.9v.9h-.9zM485.3 477.9h.9v.9h-.9zM488.3 468.5h.9v.9h-.9zM479.6 479.3h.9v.9h-.9zM490.2 469.9h.9v.9h-.9zM476.3 474.6h.9v.9h-.9zM477.3 478.0h.9v.9h-.9zM487.6 474.6h.9v.9h-.9zM487.9 468.9h.9v.9h-.9zM475.2 473.4h.9v.9h-.9zM478.7 467.9h.9v.9h-.9zM488.1 476.1h.9v.9h-.9zM488.8 469.7h.9v.9h-.9zM477.5 468.5h.9v.9h-.9zM483.3 478.9h.9v.9h-.9zM486.0 476.3h.9v.9h-.9zM487.9 468.3h.9v.9h-.9zM483.2 479.7h.9v.9h-.9zM478.4 468.1h.9v.9h-.9zM487.3 466.7h.9v.9h-.9zM476.6 469.2h.9v.9h-.9zM485.3 477.8h.9v.9h-.9zM476.1 474.2h.9v.9h-.9zM477.4 469.6h.9v.9h-.9zM482.4 480.9h.9v.9h-.9zM487.9 473.1h.9v.9h-.9zM476.8 470.7h.9v.9h-.9zM486.0 476.4h.9v.9h-.9zM484.9 465.2h.9v.9h-.9zM485.1 479.5h.9v.9h-.9zM482.7 479.1h.9v.9h-.9zM486.1 476.1h.9v.9h-.9zM482.8 465.1h.9v.9h-.9zM479.5 481.5h.9v.9h-.9zM484.8 465.9h.9v.9h-.9zM477.6 479.2h.9v.9h-.9zM477.1 478.4h.9v.9h-.9zM476.8 477.8h.9v.9h-.9zM487.7 473.9h.9v.9h-.9zM476.7 477.0h.9v.9h-.9zM488.8 471.1h.9v.9h-.9zM480.4 465.9h.9v.9h-.9zM489.4 472.1h.9v.9h-.9zM484.9 478.0h.9v.9h-.9zM479.4 479.2h.9v.9h-.9zM485.6 477.5h.9v.9h-.9zM476.5 477.5h.9v.9h-.9zM486.2 475.9h.9v.9h-.9zM487.4 473.6h.9v.9h-.9zM487.8 471.1h.9v.9h-.9zM476.4 478.1h.9v.9h-.9zM481.7 465.0h.9v.9h-.9zM480.5 466.0h.9v.9h-.9zM478.6 467.1h.9v.9h-.9zM488.4 469.2h.9v.9h-.9zM487.3 467.4h.9v.9h-.9zM476.8 468.9h.9v.9h-.9zM480.1 480.8h.9v.9h-.9zM475.3 473.5h.9v.9h-.9zM481.9 465.3h.9v.9h-.9zM475.5 473.4h.9v.9h-.9zM490.6 472.7h.9v.9h-.9zM486.6 464.2h.9v.9h-.9zM482.7 465.7h.9v.9h-.9zM488.2 475.7h.9v.9h-.9zM485.8 478.6h.9v.9h-.9zM478.1 467.5h.9v.9h-.9zM478.4 479.9h.9v.9h-.9zM480.8 480.2h.9v.9h-.9zM481.3 466.1h.9v.9h-.9zM476.7 470.4h.9v.9h-.9zM488.2 467.4h.9v.9h-.9zM487.1 463.5h.9v.9h-.9zM478.4 468.3h.9v.9h-.9zM476.2 474.9h.9v.9h-.9zM486.9 466.9h.9v.9h-.9zM476.6 476.2h.9v.9h-.9zM487.1 467.7h.9v.9h-.9zM488.3 470.8h.9v.9h-.9zM485.3 477.2h.9v.9h-.9zM484.6 478.3h.9v.9h-.9zM485.7 478.8h.9v.9h-.9zM478.7 467.4h.9v.9h-.9zM476.1 471.2h.9v.9h-.9zM482.5 479.5h.9v.9h-.9zM475.3 474.1h.9v.9h-.9zM487.0 476.7h.9v.9h-.9zM480.6 465.2h.9v.9h-.9zM487.9 470.6h.9v.9h-.9zM485.1 478.8h.9v.9h-.9zM488.4 471.6h.9v.9h-.9zM477.9 468.6h.9v.9h-.9zM489.7 470.3h.9v.9h-.9zM480.2 464.6h.9v.9h-.9zM483.3 478.7h.9v.9h-.9zM476.9 468.7h.9v.9h-.9zM483.0 465.8h.9v.9h-.9zM484.0 478.2h.9v.9h-.9zM485.6 466.1h.9v.9h-.9zM479.5 463.9h.9v.9h-.9zM481.5 465.9h.9v.9h-.9zM476.0 472.9h.9v.9h-.9zM480.3 480.3h.9v.9h-.9zM485.9 476.5h.9v.9h-.9zM479.9 479.8h.9v.9h-.9zM487.1 476.9h.9v.9h-.9zM486.3 476.0h.9v.9h-.9zM476.3 470.2h.9v.9h-.9zM484.7 463.6h.9v.9h-.9zM489.2 473.1h.9v.9h-.9zM476.1 478.1h.9v.9h-.9zM485.3 478.3h.9v.9h-.9zM476.8 470.8h.9v.9h-.9zM488.0 472.9h.9v.9h-.9zM482.8 464.5h.9v.9h-.9zM478.9 467.4h.9v.9h-.9zM483.9 478.3h.9v.9h-.9zM483.9 465.6h.9v.9h-.9zM478.1 467.0h.9v.9h-.9zM477.5 478.2h.9v.9h-.9zM479.8 479.4h.9v.9h-.9zM484.0 478.7h.9v.9h-.9zM480.8 480.2h.9v.9h-.9zM479.8 479.5h.9v.9h-.9zM477.6 468.8h.9v.9h-.9zM476.8 477.3h.9v.9h-.9zM479.2 456.0h.9v.9h-.9zM482.9 449.6h.9v.9h-.9zM488.3 454.3h.9v.9h-.9zM475.7 454.2h.9v.9h-.9zM470.7 453.5h.9v.9h-.9zM493.9 450.1h.9v.9h-.9zM476.1 448.3h.9v.9h-.9zM474.1 447.9h.9v.9h-.9zM481.5 452.6h.9v.9h-.9zM481.6 442.4h.9v.9h-.9zM480.1 449.3h.9v.9h-.9zM480.8 452.1h.9v.9h-.9zM472.2 451.7h.9v.9h-.9zM475.1 459.0h.9v.9h-.9zM470.7 452.3h.9v.9h-.9zM488.3 445.6h.9v.9h-.9zM483.2 444.9h.9v.9h-.9zM465.9 455.1h.9v.9h-.9zM478.2 453.2h.9v.9h-.9zM478.0 448.1h.9v.9h-.9zM489.0 446.4h.9v.9h-.9zM481.9 453.7h.9v.9h-.9zM495.6 450.0h.9v.9h-.9zM479.3 452.9h.9v.9h-.9zM476.9 450.9h.9v.9h-.9zM482.4 450.3h.9v.9h-.9zM470.7 451.5h.9v.9h-.9zM474.4 451.3h.9v.9h-.9zM479.8 447.2h.9v.9h-.9zM482.3 445.2h.9v.9h-.9zM471.7 452.9h.9v.9h-.9zM463.5 451.2h.9v.9h-.9zM474.8 455.0h.9v.9h-.9zM488.4 458.3h.9v.9h-.9zM484.8 449.0h.9v.9h-.9zM474.4 445.2h.9v.9h-.9zM487.6 452.8h.9v.9h-.9zM474.1 457.7h.9v.9h-.9zM479.0 449.7h.9v.9h-.9zM482.0 452.5h.9v.9h-.9zM498.0 449.2h.9v.9h-.9zM485.4 450.4h.9v.9h-.9zM481.1 448.0h.9v.9h-.9zM475.0 456.0h.9v.9h-.9zM485.1 449.3h.9v.9h-.9zM480.8 445.6h.9v.9h-.9zM477.4 459.5h.9v.9h-.9zM480.0 452.2h.9v.9h-.9zM475.1 443.0h.9v.9h-.9zM480.6 447.9h.9v.9h-.9zM473.2 451.4h.9v.9h-.9zM480.1 455.4h.9v.9h-.9zM483.0 454.4h.9v.9h-.9zM489.4 449.4h.9v.9h-.9zM478.0 449.3h.9v.9h-.9zM475.7 457.5h.9v.9h-.9zM470.2 446.2h.9v.9h-.9zM477.5 450.0h.9v.9h-.9zM480.4 448.9h.9v.9h-.9zM473.4 456.7h.9v.9h-.9zM486.8 459.0h.9v.9h-.9zM482.5 453.7h.9v.9h-.9zM474.5 453.9h.9v.9h-.9zM472.5 446.3h.9v.9h-.9zM465.5 453.1h.9v.9h-.9zM470.1 457.5h.9v.9h-.9zM475.2 455.3h.9v.9h-.9zM478.3 446.2h.9v.9h-.9zM483.5 455.3h.9v.9h-.9zM484.8 456.7h.9v.9h-.9zM488.4 447.8h.9v.9h-.9zM481.7 448.3h.9v.9h-.9zM501.4 446.6h.9v.9h-.9zM478.3 449.6h.9v.9h-.9zM483.2 452.9h.9v.9h-.9zM486.8 457.0h.9v.9h-.9zM484.2 448.2h.9v.9h-.9zM486.7 456.8h.9v.9h-.9zM483.2 454.8h.9v.9h-.9zM476.1 459.6h.9v.9h-.9zM492.6 460.0h.9v.9h-.9zM492.6 461.6h.9v.9h-.9zM491.2 461.4h.9v.9h-.9zM490.0 471.2h.9v.9h-.9zM492.4 461.8h.9v.9h-.9zM492.7 457.0h.9v.9h-.9zM488.5 468.8h.9v.9h-.9zM493.6 466.0h.9v.9h-.9zM498.1 455.7h.9v.9h-.9zM495.4 461.5h.9v.9h-.9zM491.5 461.0h.9v.9h-.9zM493.3 465.1h.9v.9h-.9zM492.2 466.6h.9v.9h-.9zM494.6 468.2h.9v.9h-.9zM485.6 470.2h.9v.9h-.9zM497.9 456.5h.9v.9h-.9zM491.1 473.1h.9v.9h-.9zM495.3 458.1h.9v.9h-.9zM487.6 468.6h.9v.9h-.9zM490.6 475.3h.9v.9h-.9zM491.9 467.8h.9v.9h-.9zM489.1 474.7h.9v.9h-.9zM495.6 468.6h.9v.9h-.9zM488.5 469.0h.9v.9h-.9zM488.1 472.4h.9v.9h-.9zM490.2 463.1h.9v.9h-.9zM492.5 467.3h.9v.9h-.9zM489.9 476.0h.9v.9h-.9zM490.3 477.9h.9v.9h-.9zM491.1 461.9h.9v.9h-.9zM492.0 465.6h.9v.9h-.9zM490.3 477.0h.9v.9h-.9zM494.9 460.5h.9v.9h-.9zM492.9 465.3h.9v.9h-.9zM488.0 472.9h.9v.9h-.9zM495.0 462.7h.9v.9h-.9zM485.6 470.4h.9v.9h-.9zM494.2 470.3h.9v.9h-.9zM489.4 464.6h.9v.9h-.9zM492.8 463.2h.9v.9h-.9zM490.4 468.2h.9v.9h-.9zM490.8 462.7h.9v.9h-.9zM496.7 463.4h.9v.9h-.9zM489.1 462.7h.9v.9h-.9zM486.4 471.1h.9v.9h-.9zM495.5 458.0h.9v.9h-.9zM489.7 475.4h.9v.9h-.9zM489.3 465.5h.9v.9h-.9zM492.1 462.6h.9v.9h-.9zM489.6 468.8h.9v.9h-.9zM491.3 461.5h.9v.9h-.9zM492.2 458.7h.9v.9h-.9zM488.1 467.6h.9v.9h-.9zM487.9 466.5h.9v.9h-.9zM495.9 458.5h.9v.9h-.9zM491.8 457.3h.9v.9h-.9zM495.0 458.3h.9v.9h-.9zM494.0 467.9h.9v.9h-.9zM491.3 467.4h.9v.9h-.9zM488.1 463.6h.9v.9h-.9zM489.5 473.9h.9v.9h-.9zM490.6 471.4h.9v.9h-.9zM490.8 468.2h.9v.9h-.9zM483.5 475.2h.9v.9h-.9zM483.6 478.4h.9v.9h-.9zM493.6 461.8h.9v.9h-.9zM490.4 466.2h.9v.9h-.9zM489.9 471.3h.9v.9h-.9zM496.0 456.4h.9v.9h-.9zM487.0 473.6h.9v.9h-.9zM495.2 493.8h.9v.9h-.9zM491.4 491.9h.9v.9h-.9zM486.7 491.1h.9v.9h-.9zM489.0 491.5h.9v.9h-.9zM490.9 495.1h.9v.9h-.9zM490.6 490.4h.9v.9h-.9zM487.3 495.5h.9v.9h-.9zM483.0 495.3h.9v.9h-.9zM481.5 490.4h.9v.9h-.9zM488.5 486.7h.9v.9h-.9zM489.9 501.5h.9v.9h-.9zM494.6 490.6h.9v.9h-.9zM474.7 500.2h.9v.9h-.9zM490.6 498.9h.9v.9h-.9zM494.7 492.3h.9v.9h-.9zM486.7 497.8h.9v.9h-.9zM474.7 492.4h.9v.9h-.9zM485.4 496.9h.9v.9h-.9zM495.6 493.9h.9v.9h-.9zM502.3 499.7h.9v.9h-.9zM486.8 494.1h.9v.9h-.9zM488.8 496.5h.9v.9h-.9zM498.1 500.8h.9v.9h-.9zM476.5 499.3h.9v.9h-.9zM491.8 489.3h.9v.9h-.9zM497.1 496.7h.9v.9h-.9zM495.0 490.3h.9v.9h-.9zM500.1 484.7h.9v.9h-.9zM490.9 496.2h.9v.9h-.9zM499.6 500.5h.9v.9h-.9zM486.5 494.2h.9v.9h-.9zM494.9 492.8h.9v.9h-.9zM491.3 496.2h.9v.9h-.9zM486.1 500.2h.9v.9h-.9zM503.5 492.9h.9v.9h-.9zM492.6 498.1h.9v.9h-.9zM477.6 497.1h.9v.9h-.9zM497.2 497.1h.9v.9h-.9zM484.6 494.1h.9v.9h-.9zM495.9 492.3h.9v.9h-.9zM487.9 500.5h.9v.9h-.9zM479.3 498.5h.9v.9h-.9zM483.4 491.3h.9v.9h-.9zM490.9 493.0h.9v.9h-.9zM487.1 497.3h.9v.9h-.9zM498.3 497.6h.9v.9h-.9zM475.1 485.9h.9v.9h-.9zM475.7 491.1h.9v.9h-.9zM489.3 496.8h.9v.9h-.9zM478.9 491.8h.9v.9h-.9zM487.4 497.5h.9v.9h-.9zM492.6 496.0h.9v.9h-.9zM485.3 492.5h.9v.9h-.9zM487.7 502.9h.9v.9h-.9zM500.7 495.5h.9v.9h-.9zM487.6 490.1h.9v.9h-.9zM491.3 490.3h.9v.9h-.9zM495.0 497.0h.9v.9h-.9zM489.0 502.3h.9v.9h-.9zM495.0 495.0h.9v.9h-.9zM492.4 491.6h.9v.9h-.9zM485.8 480.7h.9v.9h-.9zM480.3 490.1h.9v.9h-.9zM479.7 488.8h.9v.9h-.9zM499.1 500.9h.9v.9h-.9zM488.6 486.6h.9v.9h-.9zM478.1 501.7h.9v.9h-.9zM490.7 487.4h.9v.9h-.9zM491.9 487.1h.9v.9h-.9zM485.4 490.3h.9v.9h-.9zM479.2 495.9h.9v.9h-.9zM480.0 488.9h.9v.9h-.9zM486.2 497.8h.9v.9h-.9zM489.6 501.0h.9v.9h-.9zM483.5 500.1h.9v.9h-.9zM476.5 494.2h.9v.9h-.9zM490.5 490.3h.9v.9h-.9zM483.5 491.9h.9v.9h-.9zM489.8 494.6h.9v.9h-.9zM491.9 495.1h.9v.9h-.9zM489.7 489.7h.9v.9h-.9zM493.6 495.2h.9v.9h-.9zM489.9 505.0h.9v.9h-.9zM489.1 495.1h.9v.9h-.9zM487.5 497.5h.9v.9h-.9zM485.4 492.5h.9v.9h-.9zM489.7 486.0h.9v.9h-.9zM492.0 487.4h.9v.9h-.9zM482.2 497.7h.9v.9h-.9zM501.3 486.9h.9v.9h-.9zM486.1 486.5h.9v.9h-.9zM484.1 490.4h.9v.9h-.9zM481.6 498.1h.9v.9h-.9zM488.0 499.1h.9v.9h-.9zM491.7 497.5h.9v.9h-.9zM482.5 500.0h.9v.9h-.9zM493.4 500.9h.9v.9h-.9zM474.4 491.0h.9v.9h-.9zM500.3 493.1h.9v.9h-.9zM494.7 500.2h.9v.9h-.9zM478.4 502.4h.9v.9h-.9zM483.1 497.0h.9v.9h-.9zM490.0 484.0h.9v.9h-.9zM481.3 493.7h.9v.9h-.9zM487.1 491.2h.9v.9h-.9zM480.0 498.5h.9v.9h-.9zM489.5 493.1h.9v.9h-.9zM485.3 496.5h.9v.9h-.9zM480.4 498.6h.9v.9h-.9zM478.4 503.5h.9v.9h-.9zM482.7 504.2h.9v.9h-.9zM492.2 497.6h.9v.9h-.9zM486.6 489.4h.9v.9h-.9zM483.8 500.2h.9v.9h-.9zM492.6 497.4h.9v.9h-.9zM492.6 471.4h.9v.9h-.9zM494.3 478.7h.9v.9h-.9zM498.4 486.5h.9v.9h-.9zM499.9 474.6h.9v.9h-.9zM500.5 495.7h.9v.9h-.9zM498.1 487.7h.9v.9h-.9zM490.9 472.8h.9v.9h-.9zM492.2 494.3h.9v.9h-.9zM497.7 489.6h.9v.9h-.9zM496.1 500.5h.9v.9h-.9zM500.9 487.4h.9v.9h-.9zM491.6 475.4h.9v.9h-.9zM498.1 473.1h.9v.9h-.9zM502.3 477.7h.9v.9h-.9zM507.4 475.8h.9v.9h-.9zM495.6 481.4h.9v.9h-.9zM498.5 474.4h.9v.9h-.9zM492.0 476.5h.9v.9h-.9zM491.5 476.1h.9v.9h-.9zM499.8 465.0h.9v.9h-.9zM501.1 485.4h.9v.9h-.9zM500.7 472.3h.9v.9h-.9zM497.7 476.1h.9v.9h-.9zM498.8 478.5h.9v.9h-.9zM491.9 492.6h.9v.9h-.9zM495.1 468.0h.9v.9h-.9zM494.6 472.2h.9v.9h-.9zM494.0 461.1h.9v.9h-.9zM497.5 475.2h.9v.9h-.9zM497.1 490.9h.9v.9h-.9zM497.9 486.2h.9v.9h-.9zM504.5 483.3h.9v.9h-.9zM503.0 472.4h.9v.9h-.9zM493.3 475.0h.9v.9h-.9zM493.5 474.1h.9v.9h-.9zM497.6 478.3h.9v.9h-.9zM495.0 490.1h.9v.9h-.9zM500.6 488.5h.9v.9h-.9zM495.6 474.9h.9v.9h-.9zM499.8 494.3h.9v.9h-.9zM494.9 473.4h.9v.9h-.9zM497.3 479.7h.9v.9h-.9zM490.1 468.1h.9v.9h-.9zM500.8 483.6h.9v.9h-.9zM499.2 472.0h.9v.9h-.9zM494.5 486.7h.9v.9h-.9zM486.4 465.5h.9v.9h-.9zM493.6 472.4h.9v.9h-.9zM492.3 480.1h.9v.9h-.9zM495.9 491.1h.9v.9h-.9zM492.7 478.4h.9v.9h-.9zM495.9 475.0h.9v.9h-.9zM494.0 476.7h.9v.9h-.9zM499.4 467.4h.9v.9h-.9zM498.7 479.0h.9v.9h-.9zM501.6 471.9h.9v.9h-.9zM496.4 476.2h.9v.9h-.9zM492.2 493.3h.9v.9h-.9zM496.0 492.2h.9v.9h-.9zM496.2 472.5h.9v.9h-.9zM493.2 488.1h.9v.9h-.9zM501.8 471.9h.9v.9h-.9zM496.3 475.5h.9v.9h-.9zM498.9 487.8h.9v.9h-.9zM489.5 486.2h.9v.9h-.9zM494.1 483.4h.9v.9h-.9zM492.8 477.4h.9v.9h-.9zM496.7 479.3h.9v.9h-.9zM496.5 469.6h.9v.9h-.9zM494.8 469.8h.9v.9h-.9zM470.5 491.1h.9v.9h-.9zM469.1 487.1h.9v.9h-.9zM471.9 487.4h.9v.9h-.9zM473.0 484.6h.9v.9h-.9zM468.1 489.9h.9v.9h-.9zM472.1 491.3h.9v.9h-.9zM472.8 490.6h.9v.9h-.9zM472.1 490.1h.9v.9h-.9zM471.6 503.7h.9v.9h-.9zM472.2 487.6h.9v.9h-.9zM471.9 482.7h.9v.9h-.9zM476.0 494.5h.9v.9h-.9zM473.3 487.5h.9v.9h-.9zM465.5 478.0h.9v.9h-.9zM468.9 492.7h.9v.9h-.9zM467.8 479.6h.9v.9h-.9zM470.7 497.8h.9v.9h-.9zM470.5 499.8h.9v.9h-.9zM471.0 492.6h.9v.9h-.9zM474.2 490.8h.9v.9h-.9z" fill="#ee1218"/>
<rect x="465.9" y="504.1" width="38" height="1.5" fill="#f29a9a"/>
</g>
<rect x="423.9" y="409.2" width="90.8" height="96.9" fill="none" stroke="#333" stroke-width="1"/>
<path d="M423.9 460.8L514.7 460.8" stroke="#333" stroke-width="0.9" fill="none"/>
<path d="M478.4 408.1L482.9 408.1" stroke="#444" stroke-width="1" fill="none"/>
<path d="M427.2 506.1v3.7M429.4 506.1v3.7M431.2 506.1v3.7M432.8 506.1v3.7M434.1 506.1v3.7M435.3 506.1v3.7M443.2 506.1v3.7M447.2 506.1v3.7M450.0 506.1v3.7M452.2 506.1v3.7M454.0 506.1v3.7M455.6 506.1v3.7M456.9 506.1v3.7M458.1 506.1v3.7M466.0 506.1v3.7M470.0 506.1v3.7M472.8 506.1v3.7M475.0 506.1v3.7M476.8 506.1v3.7M478.4 506.1v3.7M479.7 506.1v3.7M480.9 506.1v3.7M488.8 506.1v3.7M492.8 506.1v3.7M495.6 506.1v3.7M497.8 506.1v3.7M499.6 506.1v3.7M501.2 506.1v3.7M502.5 506.1v3.7M503.7 506.1v3.7M511.6 506.1v3.7M515.6 506.1v3.7M423.9 412.0h-3M423.9 435.8h-3M423.9 431.6h-3M423.9 428.7h-3M423.9 426.4h-3M423.9 424.5h-3M423.9 422.9h-3M423.9 421.5h-3M423.9 420.3h-3M423.9 459.6h-3M423.9 455.4h-3M423.9 452.5h-3M423.9 450.2h-3M423.9 448.3h-3M423.9 446.7h-3M423.9 445.3h-3M423.9 444.1h-3M423.9 483.4h-3M423.9 479.2h-3M423.9 476.3h-3M423.9 474.0h-3M423.9 472.1h-3M423.9 470.5h-3M423.9 469.1h-3M423.9 467.9h-3M423.9 503.0h-3M423.9 500.1h-3M423.9 497.8h-3M423.9 495.9h-3M423.9 494.3h-3M423.9 492.9h-3M423.9 491.7h-3" stroke="#2a2a2a" stroke-width="0.85" fill="none"/>
<path d="M436.3 506.1v7.2M459.1 506.1v7.2M481.9 506.1v7.2M504.7 506.1v7.2M423.9 419.2h-6.4M423.9 443.0h-6.4M423.9 466.8h-6.4M423.9 490.6h-6.4" stroke="#555" stroke-width="0.8" fill="none"/>
<text x="436.3" y="520.2" font-size="6" font-weight="bold" fill="#2a2a2a" text-anchor="middle">10<tspan dy="-2.6" font-size="4">2</tspan></text>
<text x="417.3" y="490.1" font-size="6" font-weight="bold" fill="#2a2a2a" text-anchor="middle" transform="rotate(-90 417.3 490.1)">10<tspan dy="-2.6" font-size="4">2</tspan></text>
<text x="459.1" y="520.2" font-size="6" font-weight="bold" fill="#2a2a2a" text-anchor="middle">10<tspan dy="-2.6" font-size="4">3</tspan></text>
<text x="417.3" y="466.3" font-size="6" font-weight="bold" fill="#2a2a2a" text-anchor="middle" transform="rotate(-90 417.3 466.3)">10<tspan dy="-2.6" font-size="4">3</tspan></text>
<text x="482.2" y="520.2" font-size="6" font-weight="bold" fill="#2a2a2a" text-anchor="middle">10<tspan dy="-2.6" font-size="4">4</tspan></text>
<text x="417.3" y="442.5" font-size="6" font-weight="bold" fill="#2a2a2a" text-anchor="middle" transform="rotate(-90 417.3 442.5)">10<tspan dy="-2.6" font-size="4">4</tspan></text>
<text x="505.8" y="520.2" font-size="6" font-weight="bold" fill="#2a2a2a" text-anchor="middle">10<tspan dy="-2.6" font-size="4">5</tspan></text>
<text x="417.3" y="418.7" font-size="6" font-weight="bold" fill="#2a2a2a" text-anchor="middle" transform="rotate(-90 417.3 418.7)">10<tspan dy="-2.6" font-size="4">5</tspan></text>
<text x="431.2" y="427.4" font-size="13" fill="#3b3ba3" stroke="#3b3ba3" stroke-width="0.3">Ad-TFAM</text>
<text x="438.6" y="450" font-size="13" fill="#3b3ba3" stroke="#3b3ba3" stroke-width="0.3">+NaF</text>
<text x="491" y="483.6" font-size="5.6" fill="#222">Q3</text>
<text x="493.5" y="447.5" font-size="5.6" fill="#500">Q1</text>
</g>
<clipPath id="cFc"><rect x="580" y="370" width="229" height="199.3"/></clipPath><g id="pFchart" clip-path="url(#cFc)">
<path d="M656.5 383.7L656.5 506.5" stroke="#000" stroke-width="1.6" fill="none"/>
<path d="M653.6 405.3L656.5 405.3" stroke="#000" stroke-width="1.6" fill="none"/>
<text x="652" y="409.8" font-size="12.5" font-weight="bold" text-anchor="end">100</text>
<path d="M653.6 455.5L656.5 455.5" stroke="#000" stroke-width="1.6" fill="none"/>
<text x="652" y="460" font-size="12.5" font-weight="bold" text-anchor="end">50</text>
<path d="M653.6 505.2L656.5 505.2" stroke="#000" stroke-width="1.6" fill="none"/>
<text x="652" y="509.7" font-size="12.5" font-weight="bold" text-anchor="end">0</text>
<path d="M671.2 406.7V394M666.05 394H676.35" stroke="#000" stroke-width="1.6" fill="none"/>
<rect x="660.9" y="406.7" width="20.6" height="99" fill="#fff" stroke="#000" stroke-width="1.6"/>
<path d="M701.65 475.5V467M696.58 467H706.72" stroke="#000" stroke-width="1.6" fill="none"/>
<rect x="691.5" y="475.5" width="20.3" height="30.2" fill="url(#dots)" stroke="#000" stroke-width="1.6"/>
<path d="M731.95 408V402.9M726.88 402.9H737.03" stroke="#000" stroke-width="1.6" fill="none"/>
<rect x="721.8" y="408" width="20.3" height="97.7" fill="#fff" stroke="#000" stroke-width="1.6"/>
<path d="M761.75 454.9V442.7M756.67 442.7H766.83" stroke="#000" stroke-width="1.6" fill="none"/>
<rect x="751.6" y="454.9" width="20.3" height="50.8" fill="url(#chk)" stroke="#000" stroke-width="1.6"/>
<path d="M655.7 505.7L777.3 505.7" stroke="#000" stroke-width="1.6" fill="none"/>
<path d="M671.2 505.7L671.2 508.8" stroke="#000" stroke-width="1.6" fill="none"/>
<path d="M701.6 505.7L701.6 508.8" stroke="#000" stroke-width="1.6" fill="none"/>
<path d="M731.8 505.7L731.8 508.8" stroke="#000" stroke-width="1.6" fill="none"/>
<path d="M761.8 505.7L761.8 508.8" stroke="#000" stroke-width="1.6" fill="none"/>
<text x="672.5" y="518.4" font-size="11.7" font-weight="bold" text-anchor="end" transform="rotate(-45 672.5 518.4)">Vector</text>
<text x="702.9" y="518.4" font-size="11.7" font-weight="bold" text-anchor="end" transform="rotate(-45 702.9 518.4)">Vector+NaF</text>
<text x="733.1" y="518.4" font-size="11.7" font-weight="bold" text-anchor="end" transform="rotate(-45 733.1 518.4)">Ad-TFAM</text>
<text x="763.1" y="518.4" font-size="11.7" font-weight="bold" text-anchor="end" transform="rotate(-45 763.1 518.4)">Ad-TFAM+NaF</text>
<text x="701.5" y="470.44" font-size="22.44" font-weight="bold" text-anchor="middle">*</text>
<text x="761.9" y="440.36" font-size="14.26" font-weight="bold" text-anchor="middle">#</text>
<text x="608" y="462" font-size="12.5" font-weight="bold" text-anchor="middle" transform="rotate(-90 608 462)">Mitochondrial membrane</text>
<text x="622.5" y="462.5" font-size="12.5" font-weight="bold" text-anchor="middle" transform="rotate(-90 622.5 462.5)">potential (% of Control)</text>
</g>
<g id="pGhist">
<path d="M112.0 736.3L113.8 736.0L115.6 735.8L117.4 735.5L119.2 735.3L121.0 734.9L123.0 733.5L125.0 732.5L127.0 730.9L128.7 727.8L130.3 725.5L132.0 722.0L133.7 716.9L135.3 710.6L137.0 705.3L138.7 695.8L140.3 688.7L142.0 680.9L143.7 670.7L145.3 661.9L147.0 652.4L149.0 642.0L151.0 634.6L154.0 623.2L156.6 619.0L159.0 623.9L161.5 640.9L164.0 659.9L167.0 682.5L170.0 699.9L173.0 709.5L174.7 712.5L176.3 714.1L178.0 717.5L179.8 718.4L181.5 720.6L183.2 722.0L185.0 722.6L186.7 723.5L188.3 724.6L190.0 726.2L191.7 726.6L193.3 727.7L195.0 728.4L196.6 729.0L198.2 729.4L199.9 729.9L201.5 730.5L203.1 731.0L204.8 731.7L206.4 732.1L208.0 732.6L209.7 732.9L211.5 733.2L213.2 733.4L214.9 733.5L216.6 733.9L218.4 734.2L220.1 734.5L221.8 734.7L223.5 735.0L225.3 735.2L227.0 735.5L228.6 735.6L230.3 735.6L231.9 735.6L233.6 735.8L235.2 735.8L236.9 735.8L238.5 735.9L240.1 736.0L241.8 736.0L243.4 736.1L245.1 736.1L246.7 736.2L248.4 736.2L250.0 736.3L250 736.8L112 736.8Z" fill="#c9c9c9"/>
<path d="M53.0 736.0L54.6 736.0L56.2 736.0L57.9 736.0L59.5 736.0L61.1 736.0L62.7 735.9L64.3 735.9L66.0 735.9L67.6 735.9L69.2 735.9L70.8 735.8L72.4 735.8L74.1 735.8L75.7 735.8L77.3 735.8L78.9 735.7L80.6 735.7L82.2 735.7L83.8 735.8L85.4 735.8L87.0 735.7L88.7 735.7L90.3 735.6L91.9 735.7L93.5 735.6L95.1 735.6L96.8 735.7L98.4 735.6L100.0 735.6L101.7 735.5L103.3 735.4L105.0 735.2L106.7 735.2L108.3 734.9L110.0 734.8L111.7 734.6L113.3 734.6L115.0 734.4L116.7 734.4L118.3 734.2L120.0 733.9L121.8 732.9L123.5 731.8L125.2 730.8L127.0 729.7L128.7 726.8L130.3 724.1L132.0 720.2L133.7 715.7L135.3 709.2L137.0 703.4L138.7 696.7L140.3 687.3L142.0 678.4L143.7 669.6L145.3 661.0L147.0 649.6L149.0 643.5L151.0 631.5L154.0 622.8L157.2 619.7L159.5 620.5L162.0 634.9L165.0 654.6L168.0 678.3L171.0 695.4L174.0 706.6L175.7 709.8L177.3 714.5L179.0 715.3L180.8 718.0L182.5 719.8L184.2 721.3L186.0 721.8L187.7 722.7L189.3 723.9L191.0 725.1L192.7 725.2L194.3 726.9L196.0 727.8L197.6 728.4L199.2 728.2L200.9 729.5L202.5 729.4L204.1 730.2L205.8 730.9L207.4 731.7L209.0 731.9L210.7 732.5L212.5 732.6L214.2 732.8L215.9 733.1L217.6 733.4L219.4 733.7L221.1 734.0L222.8 734.4L224.5 734.8L226.3 734.9L228.0 735.2L229.6 735.4L231.2 735.4L232.8 735.4L234.4 735.4L236.0 735.5L237.6 735.6L239.2 735.5L240.8 735.6L242.4 735.6L244.0 735.7L245.6 735.6L247.2 735.7L248.8 735.8L250.4 735.8L252.0 735.8L253.6 735.9L255.2 735.9L256.8 736.0L258.4 735.9L260.0 736.0L261.6 736.0L263.2 736.0L264.8 736.0L266.4 736.0L268.0 736.1L269.6 736.1L271.2 736.1L272.8 736.0L274.4 736.1L276.0 736.1L277.6 736.1L279.2 736.1L280.8 736.1L282.4 736.1L284.0 736.1L285.6 736.1L287.2 736.1L288.8 736.1L290.4 736.1L292.0 736.1L293.6 736.1L295.2 736.1L296.8 736.2L298.4 736.2L300.0 736.2L301.6 736.2L303.2 736.2L304.8 736.2L306.4 736.2L308.0 736.2" fill="none" stroke="#8ad33c" stroke-width="2.3" stroke-linejoin="round"/>
<path d="M53.0 736.0L54.6 736.0L56.3 735.9L57.9 736.0L59.5 735.9L61.1 735.9L62.8 735.9L64.4 735.8L66.0 735.9L67.7 735.9L69.3 735.8L70.9 735.8L72.5 735.8L74.2 735.8L75.8 735.8L77.4 735.7L79.1 735.7L80.7 735.7L82.3 735.7L83.9 735.7L85.6 735.7L87.2 735.7L88.8 735.6L90.5 735.6L92.1 735.5L93.7 735.5L95.3 735.6L97.0 735.6L98.6 735.5L100.2 735.4L101.9 735.4L103.5 735.4L105.1 735.4L106.7 735.5L108.4 735.4L110.0 735.5L111.8 735.2L113.7 734.7L115.5 734.4L117.3 734.1L119.2 733.6L121.0 733.5L123.0 732.0L125.0 729.7L127.0 726.6L129.0 722.4L132.0 713.2L134.0 705.4L136.0 693.9L138.0 682.7L140.0 672.5L143.0 658.1L146.0 644.3L148.5 640.0L150.6 640.0L153.0 644.5L155.5 651.7L158.0 663.6L160.0 672.5L162.0 678.5L164.0 686.3L166.0 690.8L168.0 696.9L170.0 702.6L172.0 703.4L174.0 706.7L176.0 708.4L178.0 709.2L180.0 712.0L182.0 716.3L183.6 717.4L185.2 716.5L186.9 719.0L188.5 720.7L190.4 720.1L192.2 721.6L194.1 721.4L196.0 722.8L197.8 724.3L199.6 725.1L201.4 726.4L203.2 726.5L205.0 727.8L206.7 729.0L208.3 729.4L210.0 730.0L211.7 730.6L213.3 731.7L215.0 732.0L216.7 732.2L218.4 733.0L220.1 733.2L221.9 733.7L223.6 734.1L225.3 734.6L227.0 735.0L228.7 735.0L230.3 735.1L231.9 735.1L233.6 735.3L235.2 735.2L236.9 735.4L238.6 735.4L240.2 735.4L241.8 735.5L243.5 735.5L245.2 735.6L246.8 735.6L248.4 735.6L250.1 735.8L251.8 735.7L253.4 735.8L255.1 735.9L256.7 735.9L258.4 736.0L260.0 736.0L261.6 736.0L263.2 736.0L264.8 736.0L266.4 736.1L268.0 736.0L269.6 736.1L271.2 736.1L272.8 736.1L274.4 736.0L276.0 736.0L277.6 736.0L279.2 736.1L280.8 736.1L282.4 736.1L284.0 736.1L285.6 736.1L287.2 736.1L288.8 736.1L290.4 736.1L292.0 736.1L293.6 736.2L295.2 736.1L296.8 736.1L298.4 736.2L300.0 736.2L301.6 736.2L303.2 736.2L304.8 736.2L306.4 736.2L308.0 736.2" fill="none" stroke="#39761f" stroke-width="1.6" stroke-linejoin="round"/>
<path d="M53.0 736.2L54.7 736.2L56.4 736.1L58.1 736.1L59.8 736.0L61.4 736.0L63.1 735.9L64.8 735.9L66.5 735.9L68.2 735.8L69.9 735.7L71.6 735.7L73.2 735.6L74.9 735.7L76.6 735.6L78.3 735.5L80.0 735.6L81.7 735.4L83.3 735.2L85.0 735.0L86.7 734.8L88.3 734.6L90.0 734.5L91.7 734.2L93.3 734.1L95.0 733.9L96.6 733.7L98.2 733.6L99.9 733.5L101.5 733.4L103.1 733.1L104.8 733.0L106.4 732.8L108.0 732.7L109.7 732.6L111.3 732.6L113.0 732.9L114.7 732.9L116.3 732.9L118.0 732.9L119.7 732.3L121.3 731.9L123.0 731.5L124.7 731.0L126.3 731.1L128.0 730.4L129.7 730.1L131.3 729.2L133.0 729.0L134.7 728.3L136.8 725.4L139.0 723.6L140.9 721.7L142.9 717.9L146.0 709.5L147.9 699.2L149.8 689.6L152.5 671.4L155.3 650.6L158.0 634.3L160.0 626.7L162.0 624.5L164.0 628.5L166.0 632.8L167.9 637.5L170.5 650.2L173.4 664.7L176.0 681.6L178.9 700.0L181.5 708.0L184.3 715.7L186.2 716.6L188.1 717.2L190.0 719.4L191.9 719.0L193.8 720.7L195.7 720.5L197.6 721.7L199.5 722.1L201.1 723.3L202.8 725.4L204.4 726.2L206.0 726.8L207.8 728.3L209.5 728.7L211.2 729.8L213.0 731.0L214.8 731.4L216.6 731.7L218.4 732.6L220.2 732.8L222.0 733.4L223.9 734.0L225.8 734.2L227.8 734.6L229.7 734.9L231.4 735.0L233.1 735.1L234.8 735.1L236.4 735.2L238.1 735.3L239.8 735.3L241.5 735.5L243.2 735.4L244.8 735.5L246.5 735.6L248.2 735.6L249.9 735.6L251.6 735.8L253.3 735.8L254.9 735.8L256.6 735.9L258.3 736.0L260.0 736.0L261.6 736.0L263.2 736.1L264.8 736.1L266.4 736.0L268.0 736.0L269.6 736.0L271.2 736.0L272.8 736.1L274.4 736.1L276.0 736.1L277.6 736.1L279.2 736.1L280.8 736.1L282.4 736.1L284.0 736.1L285.6 736.2L287.2 736.1L288.8 736.2L290.4 736.2L292.0 736.2L293.6 736.2L295.2 736.2L296.8 736.3L298.4 736.2L300.0 736.2L301.6 736.2L303.2 736.3L304.8 736.3L306.4 736.3L308.0 736.3" fill="none" stroke="#e01b1b" stroke-width="1.7" stroke-linejoin="round"/>
<rect x="53" y="597.5" width="255.8" height="139.3" fill="none" stroke="#3a3a3a" stroke-width="1"/>
<path d="M53 736.8V597.5H308.8" fill="none" stroke="#222" stroke-width="1.5"/>
<text x="49.6" y="606.7" font-size="9.6" font-weight="bold" text-anchor="end" fill="#111">500</text>
<text x="49.6" y="627.9" font-size="9.6" font-weight="bold" text-anchor="end" fill="#111">400</text>
<text x="49.6" y="654.7" font-size="9.6" font-weight="bold" text-anchor="end" fill="#111">300</text>
<text x="49.6" y="683" font-size="9.6" font-weight="bold" text-anchor="end" fill="#111">200</text>
<text x="49.6" y="710.5" font-size="9.6" font-weight="bold" text-anchor="end" fill="#111">100</text>
<text x="49.6" y="737.3" font-size="9.6" font-weight="bold" text-anchor="end" fill="#111">0</text>
<text x="27.6" y="666.7" font-size="10" font-weight="bold" text-anchor="middle" fill="#111" transform="rotate(-90 27.6 666.7)">Count</text>
<text x="79.7" y="757" font-size="9.8" font-weight="bold" text-anchor="middle" fill="#111">0</text>
<text x="107" y="757.6" font-size="9.8" font-weight="bold" fill="#111" text-anchor="middle">10<tspan dy="-4.6" font-size="8.6">2</tspan></text>
<text x="167.3" y="757.6" font-size="9.8" font-weight="bold" fill="#111" text-anchor="middle">10<tspan dy="-4.6" font-size="8.6">3</tspan></text>
<text x="222" y="757.6" font-size="9.8" font-weight="bold" fill="#111" text-anchor="middle">10<tspan dy="-4.6" font-size="8.6">4</tspan></text>
<text x="276.4" y="757.6" font-size="9.8" font-weight="bold" fill="#111" text-anchor="middle">10<tspan dy="-4.6" font-size="8.6">5</tspan></text>
<text x="180.8" y="766.6" font-size="9.8" font-weight="bold" text-anchor="middle" fill="#111">DCFH-A</text>
<rect x="189.3" y="604.4" width="34.1" height="51.3" fill="#fff" stroke="#333" stroke-width="0.9"/>
<path d="M189.3 617.2L223.4 617.2" stroke="#333" stroke-width="0.9" fill="none"/>
<path d="M189.3 630L223.4 630" stroke="#333" stroke-width="0.9" fill="none"/>
<path d="M189.3 642.9L223.4 642.9" stroke="#333" stroke-width="0.9" fill="none"/>
<path d="M190.1 610.8L222.6 610.8" stroke="#8ad33c" stroke-width="3.9" fill="none"/>
<text x="227.5" y="614.8" font-size="11" fill="#111">Ad-TFAM+NaF</text>
<path d="M190.1 623.6L222.6 623.6" stroke="#39761f" stroke-width="3.9" fill="none"/>
<text x="227.5" y="627.6" font-size="11" fill="#111">Ad-TFAM</text>
<path d="M190.1 636.45L222.6 636.45" stroke="#e01b1b" stroke-width="3.9" fill="none"/>
<text x="227.5" y="640.45" font-size="11" fill="#111">Vector+NaF</text>
<path d="M190.1 649.3L222.6 649.3" stroke="#cdcdcd" stroke-width="5" fill="none"/>
<text x="227.5" y="653.3" font-size="11" fill="#111">Vector</text>
</g>
<g id="pGchart">
<path d="M402 597.75L402 713.95" stroke="#000" stroke-width="1.5" fill="none"/>
<path d="M399.1 598.5L402 598.5" stroke="#000" stroke-width="1.5" fill="none"/>
<text x="397.5" y="602.82" font-size="12" font-weight="bold" text-anchor="end">1500</text>
<path d="M399.1 636.6L402 636.6" stroke="#000" stroke-width="1.5" fill="none"/>
<text x="397.5" y="640.92" font-size="12" font-weight="bold" text-anchor="end">1000</text>
<path d="M399.1 674.8L402 674.8" stroke="#000" stroke-width="1.5" fill="none"/>
<text x="397.5" y="679.12" font-size="12" font-weight="bold" text-anchor="end">500</text>
<path d="M399.1 713.2L402 713.2" stroke="#000" stroke-width="1.5" fill="none"/>
<text x="397.5" y="717.52" font-size="12" font-weight="bold" text-anchor="end">0</text>
<path d="M416.4 618.9V616.2M411.6 616.2H421.2" stroke="#000" stroke-width="1.5" fill="none"/>
<rect x="406.8" y="618.9" width="19.2" height="94.3" fill="#fff" stroke="#000" stroke-width="1.5"/>
<path d="M445 610.7V608M440.1 608H449.9" stroke="#000" stroke-width="1.5" fill="none"/>
<rect x="435.2" y="610.7" width="19.6" height="102.5" fill="url(#dots)" stroke="#000" stroke-width="1.5"/>
<path d="M473.5 641.7V638.7M468.6 638.7H478.4" stroke="#000" stroke-width="1.5" fill="none"/>
<rect x="463.7" y="641.7" width="19.6" height="71.5" fill="#fff" stroke="#000" stroke-width="1.5"/>
<path d="M502.2 620.8V614.5M497.25 614.5H507.15" stroke="#000" stroke-width="1.5" fill="none"/>
<rect x="492.3" y="620.8" width="19.8" height="92.4" fill="url(#chk)" stroke="#000" stroke-width="1.5"/>
<path d="M401.25 713.2L517.3 713.2" stroke="#000" stroke-width="1.5" fill="none"/>
<path d="M416.1 713.2L416.1 716.3" stroke="#000" stroke-width="1.5" fill="none"/>
<path d="M445 713.2L445 716.3" stroke="#000" stroke-width="1.5" fill="none"/>
<path d="M473.4 713.2L473.4 716.3" stroke="#000" stroke-width="1.5" fill="none"/>
<path d="M502.2 713.2L502.2 716.3" stroke="#000" stroke-width="1.5" fill="none"/>
<text x="418.7" y="723.8" font-size="11" font-weight="bold" text-anchor="end" transform="rotate(-45 418.7 723.8)">Vector</text>
<text x="447.6" y="723.8" font-size="11" font-weight="bold" text-anchor="end" transform="rotate(-45 447.6 723.8)">Vector+NaF</text>
<text x="476" y="723.8" font-size="11" font-weight="bold" text-anchor="end" transform="rotate(-45 476 723.8)">Ad-TFAM</text>
<text x="504.8" y="723.8" font-size="11" font-weight="bold" text-anchor="end" transform="rotate(-45 504.8 723.8)">Ad-TFAM+NaF</text>
<text x="444.7" y="611.86" font-size="21.12" font-weight="bold" text-anchor="middle">*</text>
<text x="502.4" y="612.12" font-size="13.02" font-weight="bold" text-anchor="middle">#</text>
<text x="359.5" y="660" font-size="12" font-weight="bold" text-anchor="middle" transform="rotate(-90 359.5 660)">MitoSOX fluorescence</text>
</g>
<g id="pH">
<path d="M656.4 591.2L656.4 713" stroke="#000" stroke-width="1.6" fill="none"/>
<path d="M653.5 592L656.4 592" stroke="#000" stroke-width="1.6" fill="none"/>
<text x="652.2" y="596.64" font-size="12.9" font-weight="bold" text-anchor="end">120</text>
<path d="M653.5 632.5L656.4 632.5" stroke="#000" stroke-width="1.6" fill="none"/>
<text x="652.2" y="637.14" font-size="12.9" font-weight="bold" text-anchor="end">80</text>
<path d="M653.5 672.4L656.4 672.4" stroke="#000" stroke-width="1.6" fill="none"/>
<text x="652.2" y="677.04" font-size="12.9" font-weight="bold" text-anchor="end">40</text>
<path d="M653.5 712.2L656.4 712.2" stroke="#000" stroke-width="1.6" fill="none"/>
<text x="652.2" y="716.84" font-size="12.9" font-weight="bold" text-anchor="end">0</text>
<path d="M672 614.7V612.5M667.05 612.5H676.95" stroke="#000" stroke-width="1.6" fill="none"/>
<rect x="662.1" y="614.7" width="19.8" height="97.5" fill="#fff" stroke="#000" stroke-width="1.6"/>
<path d="M701.4 647.3V644.2M696.3 644.2H706.5" stroke="#000" stroke-width="1.6" fill="none"/>
<rect x="691.2" y="647.3" width="20.4" height="64.9" fill="url(#dots)" stroke="#000" stroke-width="1.6"/>
<path d="M731.7 616.1V614.4M726.6 614.4H736.8" stroke="#000" stroke-width="1.6" fill="none"/>
<rect x="721.5" y="616.1" width="20.4" height="96.1" fill="#fff" stroke="#000" stroke-width="1.6"/>
<path d="M761.85 637.9V635.1M756.53 635.1H767.17" stroke="#000" stroke-width="1.6" fill="none"/>
<rect x="751.2" y="637.9" width="21.3" height="74.3" fill="url(#chk)" stroke="#000" stroke-width="1.6"/>
<path d="M655.6 712.2L777.3 712.2" stroke="#000" stroke-width="1.6" fill="none"/>
<path d="M672 712.2L672 715.3" stroke="#000" stroke-width="1.6" fill="none"/>
<path d="M701.7 712.2L701.7 715.3" stroke="#000" stroke-width="1.6" fill="none"/>
<path d="M732 712.2L732 715.3" stroke="#000" stroke-width="1.6" fill="none"/>
<path d="M762 712.2L762 715.3" stroke="#000" stroke-width="1.6" fill="none"/>
<text x="673.8" y="724.1" font-size="11.5" font-weight="bold" text-anchor="end" transform="rotate(-45 673.8 724.1)">Vector</text>
<text x="703.5" y="724.1" font-size="11.5" font-weight="bold" text-anchor="end" transform="rotate(-45 703.5 724.1)">Vector+NaF</text>
<text x="733.8" y="724.1" font-size="11.5" font-weight="bold" text-anchor="end" transform="rotate(-45 733.8 724.1)">Ad-TFAM</text>
<text x="763.8" y="724.1" font-size="11.5" font-weight="bold" text-anchor="end" transform="rotate(-45 763.8 724.1)">Ad-TFAM+NaF</text>
<text x="701.7" y="649.99" font-size="27.06" font-weight="bold" text-anchor="middle">*</text>
<text x="762" y="630.6" font-size="14.38" font-weight="bold" text-anchor="middle">#</text>
<text x="600.8" y="650.7" font-size="16.8" font-weight="bold" text-anchor="middle" transform="rotate(-90 600.8 650.7)">Cell viability</text>
<text x="619.3" y="653.6" font-size="15.6" font-weight="bold" text-anchor="middle" transform="rotate(-90 619.3 653.6)">(% of Control)</text>
</g>
</g>
</svg>
</body></html>
